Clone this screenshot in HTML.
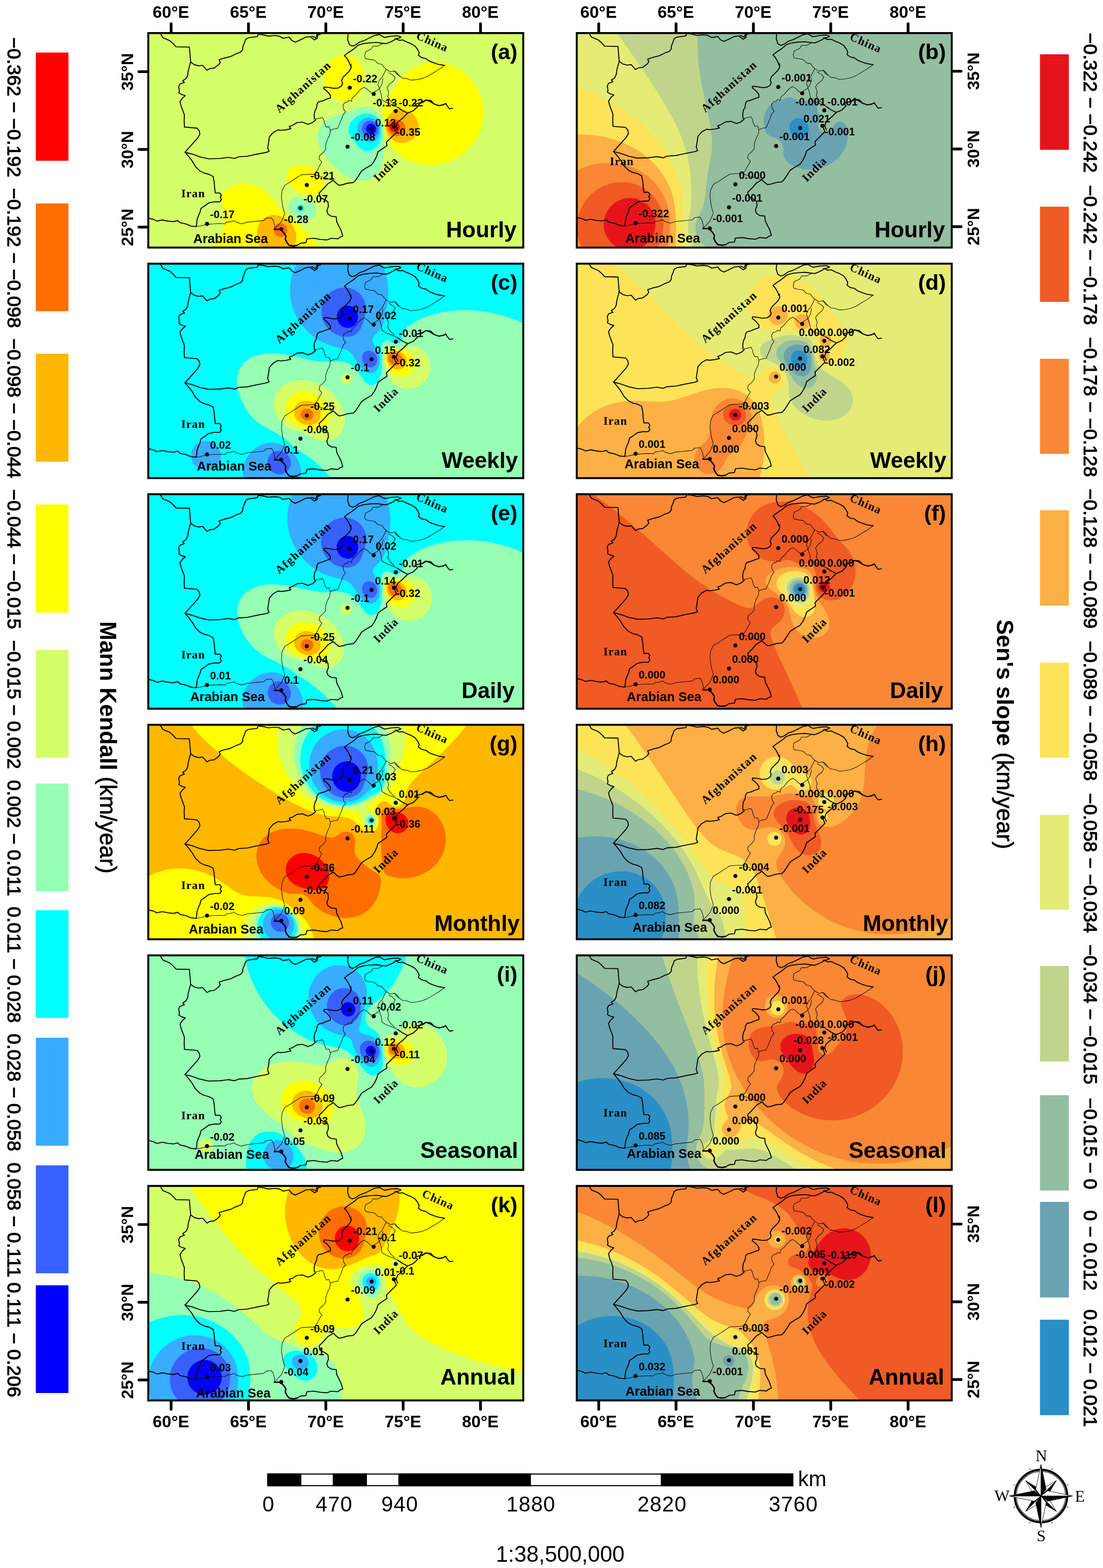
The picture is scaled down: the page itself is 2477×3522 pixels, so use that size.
<!DOCTYPE html>
<html lang="en"><head><meta charset="utf-8"><title>Trend maps</title>
<style>html,body{margin:0;padding:0;background:#fff}svg{display:block}</style></head><body>
<svg width="2477" height="3522" viewBox="0 0 2477 3522">
<rect width="2477" height="3522" fill="#fff"/>
<g stroke="#000" stroke-width="6.2" stroke-linecap="round">
<line x1="384.3" y1="74.3" x2="384.3" y2="53.3"/>
<line x1="384.3" y1="3145.6" x2="384.3" y2="3165.6"/>
<line x1="558.0" y1="74.3" x2="558.0" y2="53.3"/>
<line x1="558.0" y1="3145.6" x2="558.0" y2="3165.6"/>
<line x1="731.7" y1="74.3" x2="731.7" y2="53.3"/>
<line x1="731.7" y1="3145.6" x2="731.7" y2="3165.6"/>
<line x1="905.4" y1="74.3" x2="905.4" y2="53.3"/>
<line x1="905.4" y1="3145.6" x2="905.4" y2="3165.6"/>
<line x1="1079.1" y1="74.3" x2="1079.1" y2="53.3"/>
<line x1="1079.1" y1="3145.6" x2="1079.1" y2="3165.6"/>
<line x1="1344.5" y1="74.3" x2="1344.5" y2="53.3"/>
<line x1="1344.5" y1="3145.6" x2="1344.5" y2="3165.6"/>
<line x1="1518.2" y1="74.3" x2="1518.2" y2="53.3"/>
<line x1="1518.2" y1="3145.6" x2="1518.2" y2="3165.6"/>
<line x1="1691.9" y1="74.3" x2="1691.9" y2="53.3"/>
<line x1="1691.9" y1="3145.6" x2="1691.9" y2="3165.6"/>
<line x1="1865.6" y1="74.3" x2="1865.6" y2="53.3"/>
<line x1="1865.6" y1="3145.6" x2="1865.6" y2="3165.6"/>
<line x1="2039.3" y1="74.3" x2="2039.3" y2="53.3"/>
<line x1="2039.3" y1="3145.6" x2="2039.3" y2="3165.6"/>
<line x1="333.0" y1="161.0" x2="312.0" y2="161.0"/>
<line x1="2137.3" y1="160.0" x2="2158.3" y2="160.0"/>
<line x1="333.0" y1="335.6" x2="312.0" y2="335.6"/>
<line x1="2137.3" y1="334.6" x2="2158.3" y2="334.6"/>
<line x1="333.0" y1="510.2" x2="312.0" y2="510.2"/>
<line x1="2137.3" y1="509.2" x2="2158.3" y2="509.2"/>
<line x1="333.0" y1="2750.5" x2="312.0" y2="2750.5"/>
<line x1="2137.3" y1="2749.5" x2="2158.3" y2="2749.5"/>
<line x1="333.0" y1="2925.1" x2="312.0" y2="2925.1"/>
<line x1="2137.3" y1="2924.1" x2="2158.3" y2="2924.1"/>
<line x1="333.0" y1="3099.7" x2="312.0" y2="3099.7"/>
<line x1="2137.3" y1="3098.7" x2="2158.3" y2="3098.7"/>
</g>
<g font-family='"Liberation Sans",Arial,Helvetica,sans-serif' font-size="37.7" font-weight="bold" text-anchor="middle" fill="#000">
<text x="383.8" y="39.7">60°E</text>
<text x="383.8" y="3206.3">60°E</text>
<text x="557.5" y="39.7">65°E</text>
<text x="557.5" y="3206.3">65°E</text>
<text x="731.2" y="39.7">70°E</text>
<text x="731.2" y="3206.3">70°E</text>
<text x="904.9" y="39.7">75°E</text>
<text x="904.9" y="3206.3">75°E</text>
<text x="1078.6" y="39.7">80°E</text>
<text x="1078.6" y="3206.3">80°E</text>
<text x="1344.0" y="39.7">60°E</text>
<text x="1344.0" y="3206.3">60°E</text>
<text x="1517.7" y="39.7">65°E</text>
<text x="1517.7" y="3206.3">65°E</text>
<text x="1691.4" y="39.7">70°E</text>
<text x="1691.4" y="3206.3">70°E</text>
<text x="1865.1" y="39.7">75°E</text>
<text x="1865.1" y="3206.3">75°E</text>
<text x="2038.8" y="39.7">80°E</text>
<text x="2038.8" y="3206.3">80°E</text>
<text transform="translate(298.5,161.5) rotate(-90)">35°N</text>
<text transform="translate(2199,160.0) rotate(-90)">35°N</text>
<text transform="translate(298.5,336.1) rotate(-90)">30°N</text>
<text transform="translate(2199,334.6) rotate(-90)">30°N</text>
<text transform="translate(298.5,510.7) rotate(-90)">25°N</text>
<text transform="translate(2199,509.2) rotate(-90)">25°N</text>
<text transform="translate(298.5,2751.0) rotate(-90)">35°N</text>
<text transform="translate(2199,2749.5) rotate(-90)">35°N</text>
<text transform="translate(298.5,2925.6) rotate(-90)">30°N</text>
<text transform="translate(2199,2924.1) rotate(-90)">30°N</text>
<text transform="translate(298.5,3100.2) rotate(-90)">25°N</text>
<text transform="translate(2199,3098.7) rotate(-90)">25°N</text>
</g>
<g transform="translate(333.0,74.3)">
<clipPath id="c0"><rect x="0" y="0" width="842.1" height="481.8"/></clipPath>
<g clip-path="url(#c0)">
<rect x="0" y="0" width="842.1" height="481.8" fill="#0000ff"/>
<path fill="#3860ff" d="M-4.0,-4.0 846.0,-4.0 846.0,486.0 -4.0,486.0ZM498.0,203.8 493.3,206.0 490.0,210.0 488.9,214.0 489.2,218.0 491.1,222.0 494.0,224.9 498.0,226.7 502.0,226.8 506.0,225.4 509.5,222.0 511.3,218.0 511.5,214.0 510.0,209.3 507.1,206.0 504.0,204.3 502.0,203.8Z"/>
<path fill="#38acff" d="M-4.0,-4.0 846.0,-4.0 846.0,486.0 -4.0,486.0ZM492.0,197.7 488.0,199.7 485.1,202.0 483.3,204.0 481.1,208.0 479.7,214.0 479.9,218.0 480.9,222.0 484.3,228.0 486.1,230.0 490.0,233.0 496.0,235.4 500.0,235.6 504.0,234.9 508.0,233.0 510.0,231.4 512.0,229.3 514.2,226.0 515.7,222.0 516.4,218.0 516.4,214.0 515.6,210.0 514.0,206.2 512.0,203.2 510.0,201.1 506.0,198.4 500.0,196.7 496.0,196.8Z"/>
<path fill="#00ffff" d="M-4.0,-4.0 846.0,-4.0 846.0,486.0 -4.0,486.0ZM486.0,191.8 481.6,194.0 478.0,196.7 474.9,200.0 472.3,204.0 470.7,208.0 469.9,212.0 469.8,216.0 471.0,222.0 473.6,228.0 477.6,234.0 482.0,238.7 486.0,241.7 490.0,243.8 494.0,245.0 500.0,245.2 504.0,244.2 508.0,242.3 512.0,239.1 515.9,234.0 518.0,229.5 519.5,224.0 520.1,218.0 519.6,212.0 518.0,206.0 516.0,201.7 513.3,198.0 510.0,194.9 506.0,192.4 502.0,190.9 496.0,190.0 490.0,190.6Z"/>
<path fill="#96ffb4" d="M-4.0,-4.0 846.0,-4.0 846.0,486.0 -4.0,486.0ZM340.0,385.6 338.0,386.3 335.8,388.0 334.0,391.8 334.0,394.2 335.7,398.0 337.9,400.0 340.0,400.8 344.0,400.9 346.2,400.0 348.4,398.0 349.4,396.0 349.7,392.0 348.0,388.4 346.0,386.7 344.0,385.8ZM482.0,181.6 476.0,183.5 470.0,186.5 464.0,190.5 458.2,196.0 453.7,202.0 450.9,208.0 449.4,214.0 449.4,220.0 451.0,226.0 453.0,230.0 474.3,258.0 478.0,261.2 484.0,264.3 490.0,265.5 496.0,265.2 500.0,264.2 504.0,262.5 510.0,258.4 515.6,252.0 519.1,246.0 521.9,238.0 523.4,230.0 523.8,220.0 522.9,210.0 520.8,202.0 518.0,195.8 514.0,190.3 508.0,185.2 502.0,182.3 496.0,180.8 490.0,180.5Z"/>
<path fill="#d4ff69" d="M-4.0,-4.0 846.0,-4.0 846.0,486.0 -4.0,486.0ZM332.0,369.9 326.0,371.2 320.9,374.0 317.3,378.0 315.6,382.0 314.9,388.0 316.0,394.0 318.5,400.0 322.7,406.0 328.0,411.3 334.0,415.6 340.0,418.6 346.0,420.4 354.0,421.2 360.0,420.4 366.0,418.2 370.0,415.6 374.8,410.0 376.6,406.0 377.4,402.0 377.4,398.0 376.6,394.0 374.9,390.0 372.3,386.0 366.0,380.0 360.0,376.2 355.3,374.0 344.0,370.6 338.0,369.8ZM480.0,165.9 468.0,169.1 420.6,186.0 410.0,190.5 400.0,196.0 394.7,200.0 390.5,204.0 384.7,212.0 382.8,216.0 380.9,222.0 379.8,232.0 380.2,238.0 381.8,246.0 384.5,254.0 388.2,262.0 392.8,270.0 399.8,280.0 406.3,288.0 414.0,296.3 422.0,304.0 432.0,312.3 440.0,318.0 448.0,322.8 456.0,326.6 464.0,329.3 472.0,331.0 478.0,331.4 484.0,331.2 490.0,330.3 496.0,328.5 500.0,326.7 508.0,321.6 512.0,317.9 516.0,313.3 519.5,308.0 522.0,303.2 526.0,292.0 528.7,278.0 529.8,262.0 529.1,240.0 526.1,210.0 524.0,198.0 520.0,187.1 516.0,180.3 512.0,175.3 508.0,171.6 504.0,169.0 498.0,166.5 492.0,165.3 486.0,165.1Z"/>
<path fill="#ffff00" d="M432.2,50.0 442.0,49.0 450.0,49.7 458.0,52.1 466.0,56.4 472.0,61.5 477.1,68.0 481.0,76.0 483.2,84.0 484.2,96.0 483.2,108.0 480.2,122.0 476.2,134.0 472.0,141.2 467.4,146.0 464.0,148.5 460.0,150.6 452.0,153.0 442.0,153.8 432.0,152.3 424.0,149.5 414.7,144.0 407.9,138.0 401.5,130.0 396.4,120.0 393.6,110.0 392.7,100.0 393.7,90.0 396.8,80.0 400.9,72.0 407.2,64.0 414.0,58.1 422.0,53.4 428.0,51.1ZM633.6,66.0 644.0,65.5 656.0,66.3 668.0,68.5 678.0,71.4 690.0,76.4 700.0,82.0 710.0,89.1 718.0,96.0 726.0,104.6 733.2,114.0 739.3,124.0 744.0,134.0 747.7,144.0 750.8,156.0 752.5,168.0 753.0,178.0 752.5,190.0 750.7,202.0 747.5,214.0 743.8,224.0 739.0,234.0 732.9,244.0 725.4,254.0 718.0,262.0 709.0,270.0 700.8,276.0 690.8,282.0 680.0,287.1 670.0,290.8 658.0,293.9 646.0,295.7 634.0,296.4 622.0,295.8 610.0,294.0 598.0,290.9 588.0,287.3 576.0,281.4 566.0,274.9 558.0,268.4 550.0,260.2 544.0,252.4 539.0,244.0 535.4,236.0 532.0,225.4 529.4,210.0 528.3,190.0 526.9,174.0 527.2,168.0 528.1,164.0 530.5,158.0 533.8,152.0 560.0,112.2 568.0,101.8 574.0,95.1 580.0,89.3 588.0,82.9 594.0,79.0 602.0,74.7 610.0,71.3 618.0,68.8 626.0,67.0ZM339.8,296.0 346.0,295.8 354.0,296.8 360.0,298.4 366.0,300.8 372.0,304.1 378.0,308.5 382.0,312.2 386.8,318.0 390.5,324.0 392.9,330.0 394.2,336.0 394.4,340.0 393.5,346.0 392.0,350.0 389.4,354.0 385.0,358.0 378.0,361.4 370.0,363.2 360.0,363.2 350.0,361.4 340.6,358.0 330.0,352.0 322.3,346.0 315.1,338.0 312.6,334.0 310.8,330.0 309.6,324.0 310.2,318.0 312.5,312.0 317.2,306.0 324.0,300.9 332.0,297.5ZM204.6,340.0 212.0,339.3 220.0,339.3 234.0,341.0 242.0,343.2 248.0,345.5 254.0,348.6 260.0,352.6 270.0,361.8 292.2,388.0 307.5,404.0 324.0,419.4 356.6,448.0 369.3,460.0 381.6,474.0 389.7,486.0 130.7,486.0 138.0,481.2 144.0,476.6 154.0,466.7 158.0,461.5 162.0,455.2 165.4,448.0 167.6,442.0 170.0,430.0 170.4,418.0 169.1,406.0 165.0,384.0 164.4,376.0 165.2,368.0 167.3,362.0 169.7,358.0 173.0,354.0 180.7,348.0 186.0,345.2 192.0,342.9Z"/>
<path fill="#ffb700" d="M552.1,172.0 556.0,170.2 558.0,170.2 564.0,171.5 576.0,173.0 584.0,175.6 590.0,178.8 596.0,183.7 600.0,188.4 603.3,194.0 605.5,200.0 606.8,208.0 606.3,216.0 604.8,222.0 602.0,228.0 597.8,234.0 592.0,239.4 586.0,243.0 580.0,245.3 572.0,246.7 564.0,246.3 558.0,244.8 552.0,242.0 546.0,237.8 540.0,231.1 537.0,226.0 534.1,218.0 533.0,212.0 532.9,204.0 534.0,197.8 536.0,192.2 538.0,188.5 542.0,183.3 549.4,176.0ZM272.3,410.0 280.0,408.8 286.0,408.9 294.0,410.4 300.0,412.6 306.0,415.7 312.2,420.0 318.6,426.0 323.4,432.0 327.1,438.0 330.4,446.0 331.9,452.0 332.5,460.0 331.7,468.0 330.0,474.0 327.2,480.0 323.2,486.0 256.6,486.0 253.5,482.0 250.9,478.0 248.0,472.0 245.9,466.0 244.6,460.0 244.0,454.0 244.0,448.0 245.6,438.0 247.7,432.0 249.6,428.0 252.1,424.0 255.4,420.0 262.9,414.0 268.0,411.4Z"/>
<path fill="#ff6e00" d="M547.6,194.0 552.0,193.4 556.0,193.6 564.0,195.3 570.0,198.3 572.1,200.0 575.3,204.0 577.5,210.0 577.7,214.0 577.0,218.0 573.9,224.0 572.0,226.1 568.0,229.1 564.0,230.8 560.0,231.6 556.0,231.6 552.0,230.7 546.0,227.7 542.1,224.0 540.0,221.1 538.0,216.7 537.0,212.0 536.9,208.0 537.6,204.0 539.4,200.0 542.0,196.8 544.0,195.4ZM291.5,428.0 294.0,427.4 298.0,427.2 301.6,428.0 304.0,429.1 308.0,432.2 310.0,434.9 311.4,438.0 312.1,444.0 310.4,450.0 307.2,454.0 302.0,457.1 296.0,457.9 290.0,456.3 286.0,453.3 284.0,450.9 282.5,448.0 281.5,442.0 282.8,436.0 286.0,431.4 288.0,429.8Z"/>
<path fill="#ff0000" d="M548.7,200.0 552.0,199.4 556.0,200.0 560.0,202.0 563.5,206.0 564.8,210.0 564.5,214.0 563.7,216.0 562.0,218.5 558.0,221.4 556.0,222.0 552.0,222.1 548.0,220.8 544.5,218.0 542.2,214.0 541.5,210.0 542.3,206.0 545.1,202.0Z"/>
<g transform="translate(0.0,0.0)">
<g fill="none" stroke="#000" stroke-linejoin="round" stroke-linecap="round">
<path stroke-width="2.15" d="M27.9,2.5 32.8,10.5 47.7,16.7 55.1,22.9 62.5,31.0 92.3,31.5 93.5,45.1 95.2,65.0"/>
<path stroke-width="2.15" d="M95.2,65.0 103.4,71.1 113.3,73.6 122.0,72.4 131.9,83.5 138.1,79.8 148.0,78.6 157.9,71.1 161.6,66.2 159.1,60.0 170.3,56.3 185.1,52.6 197.5,46.4 207.4,42.7 211.9,37.7 212.4,30.3 216.1,21.6 218.6,14.2 224.8,10.5 244.6,8.0 247.1,2.5"/>
<path stroke-width="2.15" d="M247.1,2.5 259.4,4.3 269.4,6.8 284.2,5.5 294.1,6.8 302.8,11.7 316.4,9.2 322.6,16.7 330.0,20.4 341.2,15.4 353.6,9.2 363.5,8.0 373.4,15.4 379.6,11.7 380.8,4.3 387.0,3.0"/>
<path stroke-width="2.15" d="M95.2,65.0 92.3,74.9 89.8,84.8 88.5,94.7 84.8,102.1 77.4,107.1 81.1,110.8 71.2,114.5 68.2,120.7 70.0,129.4 68.7,134.3 74.9,138.0 83.1,140.5 76.2,146.7 71.2,154.1 73.7,164.0 77.4,173.9 81.1,183.8 80.6,196.2 81.1,211.1 96.0,212.3 109.6,213.6 114.6,219.8 115.8,227.2 110.8,235.9 100.9,247.0 91.0,258.1 82.4,267.6"/>
<path stroke-width="2.15" d="M82.4,267.6 98.5,271.8 115.8,278.0 135.6,282.4 160.4,281.7 180.2,279.2 193.8,281.7 202.5,278.0 222.3,276.7 244.6,271.8 264.4,268.1 271.3,265.6 268.1,258.1 270.6,243.3 271.8,233.4 280.5,223.5 291.6,217.3 296.6,218.5 309.0,217.3 320.1,214.8 316.4,209.8 323.8,207.4 333.7,201.2 346.1,199.9 358.5,204.9 368.4,201.2 375.9,195.0"/>
<path stroke-width="2.15" d="M82.4,267.5 91.0,277.4 98.5,287.3 105.9,299.7 115.8,309.6 125.7,314.6 135.6,317.1 145.5,322.0 148.0,334.4 149.2,349.3 150.5,359.2 160.4,359.2 164.1,364.1 161.6,369.1 164.1,374.0 160.4,379.0 148.0,379.0 135.6,381.5 125.7,388.9 118.3,393.8 115.8,403.7 113.3,408.7 109.6,418.6 108.4,431.0 107.1,434.7"/>
<path stroke-width="2.15" d="M-13.0,414.9 1.9,416.1 11.8,418.6 19.2,422.3 31.6,419.8 44.0,422.3 56.3,423.6 66.3,421.1 71.2,426.0 83.6,428.5 96.0,433.5 107.1,434.7"/>
<path stroke-width="1.1" d="M107.1,434.7 115.8,433.5 131.9,429.8 148.0,428.5 160.4,428.0 172.8,428.5 175.2,424.8 185.1,423.6 192.6,421.1 197.5,424.8 209.9,428.5 222.3,424.8 234.7,423.6 247.1,422.3 259.4,421.1 264.4,416.1 276.8,414.9 280.5,421.1 284.2,433.5 283.0,440.9"/>
<path stroke-width="3.0" d="M283.0,440.9 296.6,440.9 304.0,448.3 309.0,455.8 307.7,463.2 311.5,470.6 316.4,476.8 326.3,478.1 333.7,476.8"/>
<path stroke-width="1.1" d="M284.2,439.7 299.1,423.6 306.5,406.2 301.6,388.9 299.1,369.1 300.3,354.2 306.5,341.8 318.9,334.4 333.7,324.5 343.7,318.3 363.5,317.1 372.1,317.1"/>
<path stroke-width="2.15" d="M551.5,209.5 557.0,223.1 544.6,235.5 534.7,245.4 535.9,252.9 524.8,260.3 516.1,266.5 512.4,277.6 507.4,287.5 501.2,296.2 490.1,302.4 479.0,309.8 472.8,319.7 465.3,330.9 460.4,335.8 448.0,337.1 435.6,340.8 428.2,342.0 422.0,337.1 415.8,330.9 403.4,338.3 393.5,349.5 383.6,359.4 386.1,369.3 396.0,374.2 403.4,379.2 404.6,389.1 400.9,399.0 403.4,406.4 410.8,411.4 422.0,412.6 423.2,423.8 428.2,433.7 433.1,443.6 436.8,456.0 430.7,458.4 425.7,462.2 410.8,460.9 400.9,464.6 386.1,463.4 371.2,460.9 356.3,462.2 353.9,470.8 341.5,472.1 334.1,477.0"/>
<path stroke-width="1.1" d="M398.5,249.9 398.5,260.8 393.5,267.7 384.8,275.2 383.6,282.6 389.8,290.0 383.6,299.9 378.6,309.8 372.4,317.3 393.5,324.7 415.8,330.9"/>
<path stroke-width="2.15" d="M373.2,193.2 372.5,184.3 373.9,175.4 377.7,168.0 379.1,159.1 382.1,154.6 391.0,152.4 399.9,148.7 408.9,145.7 408.9,139.7 404.4,133.8 399.9,129.3 394.0,124.9 394.7,121.2 404.4,121.9 416.3,124.1 426.7,123.4 434.1,118.9 436.4,113.0 434.1,107.1 437.1,99.6 444.5,92.2 452.0,84.8 455.7,77.3 454.9,69.9"/>
<path stroke-width="2.15" d="M454.3,73.9 450.6,64.6 445.0,55.3 440.4,50.7 448.7,44.2 459.9,36.8 471.0,27.5 482.2,23.8 497.0,21.9 511.9,21.0 524.9,22.8 534.2,23.8 543.5,20.1 552.8,15.4 554.6,12.6"/>
<path stroke-width="1.1" d="M373.2,193.2 382.1,191.8 391.0,189.5 394.0,194.7 396.2,203.6 399.9,211.1 405.9,210.3 408.9,218.5 407.4,228.9 402.9,237.8 398.5,249.9"/>
<path stroke-width="1.1" d="M408.9,218.5 416.3,215.5 425.2,214.1 429.7,203.6 434.1,193.2 437.1,184.3 443.0,176.9 438.6,171.0 437.1,162.0 441.6,156.1 447.5,154.6 450.5,150.9 456.4,153.1 457.9,145.7 465.3,139.7 471.3,132.3 478.7,124.9 484.7,121.9 492.1,126.4 498.0,132.3 502.5,135.3 512.9,129.3 518.8,124.9 524.8,114.5 527.0,102.6"/>
<path stroke-width="2.15" d="M448.7,1.5 447.8,14.5 451.5,25.6 458.0,29.3 465.5,26.6 474.7,20.1 485.9,16.3 497.0,10.8 508.2,5.2 519.3,3.3 524.9,7.0 530.5,9.8 545.3,7.0 560.2,6.1 567.6,8.9 562.1,11.7 554.6,12.6"/>
<path stroke-width="2.15" d="M367.0,7.0 376.3,10.8 378.1,5.2 380.0,1.5"/>
<path stroke-width="2.15" d="M554.6,12.6 563.9,16.3 571.3,15.4 580.6,20.1 589.9,23.8 599.2,29.3 604.8,36.8 608.5,44.2 606.6,49.8 614.1,55.3 623.4,57.2 630.8,62.8 640.1,66.5 651.2,70.2 662.4,72.1 665.5,72.4"/>
<path stroke-width="1.1" d="M665.5,72.4 651.8,82.3 639.4,89.7 627.1,97.2 614.7,102.1 602.3,104.6 589.9,105.8 580.0,102.1 570.1,100.9 562.7,94.7 557.7,88.5 552.8,84.8"/>
<path stroke-width="1.1" d="M526.8,23.8 515.6,29.3 504.5,29.3 500.8,35.8 487.8,42.3 485.9,51.6 487.8,57.2 497.0,59.1 508.2,60.9 515.6,68.4 524.9,70.2 528.6,75.8 534.2,81.4 543.5,86.9 552.8,85.1 558.3,92.5 563.9,96.2"/>
<path stroke-width="1.1" d="M534.2,81.4 528.6,92.5 524.9,99.9 519.3,105.5 515.6,114.8 519.3,125.9 523.0,137.1 524.9,150.1 534.2,155.7 543.5,159.4 552.8,163.1 560.2,166.8"/>
<path stroke-width="1.1" d="M539.8,88.8 549.1,94.4 554.6,99.9 550.9,107.4 541.6,114.8 536.1,122.2 539.8,133.4 537.9,142.7 543.5,151.9 552.8,161.2"/>
<path stroke-width="2.15" d="M560.2,166.8 571.3,174.2 582.5,179.8 595.5,174.2 604.8,165.0 599.2,159.4 614.1,155.7 623.4,150.1 632.7,153.8 641.9,159.4 653.1,163.1 667.0,159.4"/>
<path stroke-width="2.15" d="M614.7,156.6 624.6,150.4 634.5,151.6 641.9,159.1 651.8,162.8 661.7,161.6 667.9,157.8 671.6,164.0 676.6,170.2 684.0,169.0"/>
<path stroke-width="2.15" d="M582.5,179.8 571.3,191.0 560.2,200.2 556.5,209.5 560.2,218.8"/>
</g>
<circle cx="452.4" cy="122.7" r="4.6" fill="#000"/>
<circle cx="506.2" cy="136.8" r="4.6" fill="#000"/>
<circle cx="555.7" cy="175.2" r="4.6" fill="#000"/>
<circle cx="551.5" cy="209.8" r="4.6" fill="#000"/>
<circle cx="501.5" cy="214.8" r="4.6" fill="#000"/>
<circle cx="447.5" cy="255.2" r="4.6" fill="#000"/>
<circle cx="356.0" cy="341.3" r="4.6" fill="#000"/>
<circle cx="341.7" cy="393.1" r="4.6" fill="#000"/>
<circle cx="298.6" cy="440.4" r="4.6" fill="#000"/>
<circle cx="131.9" cy="428.5" r="4.6" fill="#000"/>
<g font-family='"Liberation Sans",Arial,Helvetica,sans-serif' font-size="24" font-weight="bold" fill="#000">
<text x="459.6" y="110.4">-0.22</text>
<text x="558.7" y="164.3" text-anchor="end">-0.13</text>
<text x="562.6" y="164.4">-0.22</text>
<text x="556.5" y="231.1">-0.35</text>
<text x="509.5" y="209.4">0.13</text>
<text x="454.9" y="242.2">-0.08</text>
<text x="363.9" y="329.2">-0.21</text>
<text x="348.6" y="380.4">-0.07</text>
<text x="304.9" y="426.4">-0.28</text>
<text x="138.8" y="415.8">-0.17</text>
</g>
<g font-family='"Liberation Serif","Times New Roman",Times,serif' font-size="26" font-weight="bold" fill="#000">
<text transform="translate(294.5,180.5) rotate(-42)" letter-spacing="2.1">Afghanistan</text>
<text transform="translate(600,12) rotate(24)" letter-spacing="1.5">China</text>
<text transform="translate(74,368.5)" letter-spacing="1.2">Iran</text>
<text transform="translate(516,335) rotate(-45)" letter-spacing="1.5">India</text>
</g>
<text x="101" y="472" font-family='"Liberation Sans",Arial,Helvetica,sans-serif' font-size="29" font-weight="bold">Arabian Sea</text>
</g>
</g>
<text transform="translate(829.1,59.0)" font-family='"Liberation Sans",Arial,Helvetica,sans-serif' font-size="49" font-weight="bold" text-anchor="end">(a)</text>
<text transform="translate(827.1,459.0)" font-family='"Liberation Sans",Arial,Helvetica,sans-serif' font-size="50" font-weight="bold" text-anchor="end">Hourly</text>
<rect x="0" y="0" width="842.1" height="481.8" fill="none" stroke="#000" stroke-width="4.4"/>
</g>
<g transform="translate(1295.2,74.3)">
<clipPath id="c1"><rect x="0" y="0" width="842.1" height="481.8"/></clipPath>
<g clip-path="url(#c1)">
<rect x="0" y="0" width="842.1" height="481.8" fill="#2a8fc6"/>
<path fill="#69a3b2" d="M-4.0,-4.0 846.0,-4.0 846.0,486.0 -4.0,486.0ZM494.0,191.6 490.0,192.9 486.0,195.2 482.8,198.0 480.0,201.8 478.2,206.0 477.5,210.0 477.5,214.0 478.3,218.0 479.8,222.0 482.0,226.0 486.0,230.9 490.0,234.2 494.0,236.4 498.0,237.6 502.0,238.1 506.0,237.6 510.0,236.2 513.2,234.0 516.0,231.2 518.0,228.0 519.6,224.0 520.7,218.0 520.5,212.0 519.8,208.0 518.3,204.0 516.0,199.9 514.0,197.5 510.0,194.3 506.0,192.4 502.0,191.3 498.0,191.1Z"/>
<path fill="#93bea0" d="M-4.0,-4.0 846.0,-4.0 846.0,486.0 -4.0,486.0ZM470.0,145.8 443.7,156.0 438.0,159.2 432.0,164.3 426.3,172.0 422.8,180.0 420.4,190.0 419.7,200.0 420.3,208.0 422.1,216.0 424.7,222.0 428.0,226.7 430.0,228.7 434.0,231.4 446.0,235.7 452.0,238.5 456.0,241.5 460.0,246.1 462.1,250.0 463.8,256.0 464.3,262.0 464.2,272.0 464.7,276.0 466.9,282.0 469.7,286.0 473.5,290.0 478.7,294.0 485.6,298.0 492.0,300.9 498.0,302.9 506.0,304.9 514.0,306.1 522.0,306.5 530.0,306.3 538.0,305.4 552.0,302.0 560.0,299.0 566.2,296.0 573.0,292.0 578.6,288.0 587.6,280.0 595.9,270.0 601.8,260.0 606.5,248.0 608.9,236.0 609.3,230.0 609.0,224.0 608.1,218.0 606.3,212.0 604.0,207.2 602.0,204.2 599.9,202.0 596.0,199.5 592.0,198.6 588.0,199.0 584.0,200.7 582.0,202.1 580.0,204.2 573.0,214.0 568.8,218.0 566.0,219.7 562.0,221.3 558.0,222.0 554.0,221.7 550.0,220.4 546.5,218.0 544.7,216.0 543.4,214.0 542.0,210.0 541.9,206.0 543.0,202.0 547.8,194.0 548.5,192.0 548.3,190.0 547.4,188.0 542.0,178.7 540.1,172.0 539.9,164.0 541.3,152.0 541.2,150.0 540.0,147.1 538.0,145.6 534.0,145.3 530.0,146.4 516.0,151.5 512.0,152.3 506.0,152.6 501.2,152.0 496.0,150.5 482.0,144.6 476.0,144.3Z"/>
<path fill="#c0d48c" d="M-4.0,-4.0 271.7,-4.0 271.1,16.0 271.5,38.0 272.9,60.0 275.2,82.0 278.1,102.0 282.1,124.0 296.4,190.0 300.3,210.0 303.2,232.0 303.9,250.0 303.5,260.0 302.4,270.0 293.7,318.0 289.3,360.0 286.6,378.0 284.7,386.0 282.0,394.0 272.0,414.6 269.1,422.0 266.8,432.0 266.6,442.0 267.9,450.0 270.0,456.2 274.0,463.7 278.9,470.0 284.0,474.8 292.0,480.2 300.0,483.8 307.4,486.0 -4.0,486.0ZM370.5,486.0 408.0,484.8 422.0,485.1 436.5,486.0Z"/>
<path fill="#e4ec76" d="M-4.0,-4.0 87.7,-4.0 128.0,52.7 162.0,102.8 190.0,146.9 211.5,184.0 226.0,212.7 232.0,226.2 237.4,240.0 241.6,252.0 245.7,266.0 249.0,280.0 251.7,294.0 254.3,312.0 256.2,330.0 257.4,348.0 257.7,364.0 256.4,386.0 250.8,424.0 250.2,434.0 250.3,442.0 251.5,454.0 254.0,465.3 257.7,476.0 262.3,486.0 -4.0,486.0Z"/>
<path fill="#fde358" d="M-4.0,118.0 26.0,129.6 56.0,143.7 84.0,159.3 98.0,168.2 112.0,177.8 126.0,188.3 138.0,198.1 150.0,208.8 160.0,218.4 170.0,229.0 180.0,240.5 188.0,250.7 196.0,262.0 208.1,282.0 213.2,292.0 218.7,304.0 226.7,326.0 230.1,338.0 232.8,350.0 235.2,364.0 236.8,380.0 237.2,396.0 236.3,432.0 236.5,448.0 238.0,467.1 240.9,486.0 -4.0,486.0Z"/>
<path fill="#fcb045" d="M9.6,228.0 22.0,228.2 34.0,229.0 48.0,230.7 60.0,232.8 72.0,235.6 84.0,239.0 106.0,247.1 118.0,252.7 128.0,258.1 138.0,264.2 148.0,271.0 158.0,278.9 166.0,285.9 174.0,293.9 182.0,302.9 194.0,319.1 200.0,328.9 204.8,338.0 209.3,348.0 213.1,358.0 216.1,368.0 218.6,378.0 221.4,396.0 222.7,416.0 222.8,444.0 221.8,486.0 -4.0,486.0 -4.0,228.5Z"/>
<path fill="#f98735" d="M60.6,292.0 78.0,291.8 96.0,293.7 114.0,298.0 130.0,303.9 146.0,312.1 160.0,321.8 172.0,332.6 178.0,339.1 184.0,346.6 192.6,360.0 200.0,375.6 205.2,392.0 208.1,408.0 209.5,426.0 209.0,446.0 206.8,466.0 202.7,486.0 -4.0,486.0 -4.0,311.0 12.0,303.4 28.0,297.8 44.0,294.0Z"/>
<path fill="#f05a24" d="M84.5,336.0 98.0,334.6 112.0,335.2 126.0,337.8 140.0,342.7 152.0,349.1 162.0,356.4 172.0,366.2 180.0,376.8 186.1,388.0 191.3,402.0 194.1,416.0 194.9,430.0 193.7,446.0 190.8,460.0 186.0,473.7 179.9,486.0 14.1,486.0 9.0,476.0 4.6,464.0 1.8,452.0 0.6,440.0 0.8,428.0 2.4,416.0 5.6,404.0 10.4,392.0 16.0,382.0 23.1,372.0 30.3,364.0 40.0,355.5 50.0,348.7 62.0,342.6 74.0,338.4Z"/>
<path fill="#e6141a" d="M106.2,372.0 112.0,370.9 118.0,370.5 128.0,371.0 134.0,372.2 140.0,374.1 150.0,379.1 158.0,385.1 162.0,389.1 166.0,394.0 171.8,404.0 175.2,414.0 176.8,424.0 176.4,436.0 174.0,446.9 172.0,452.3 169.2,458.0 166.0,463.1 162.2,468.0 154.0,475.8 144.0,482.2 134.1,486.0 102.7,486.0 96.0,483.6 90.0,480.7 80.6,474.0 73.0,466.0 66.7,456.0 64.1,450.0 62.3,444.0 61.1,438.0 60.6,432.0 60.7,426.0 61.4,420.0 62.7,414.0 64.7,408.0 69.8,398.0 74.0,392.1 77.7,388.0 86.0,381.0 96.0,375.4Z"/>
<g transform="translate(0.2,-1.6)">
<g fill="none" stroke="#000" stroke-linejoin="round" stroke-linecap="round">
<path stroke-width="2.15" d="M27.9,2.5 32.8,10.5 47.7,16.7 55.1,22.9 62.5,31.0 92.3,31.5 93.5,45.1 95.2,65.0"/>
<path stroke-width="2.15" d="M95.2,65.0 103.4,71.1 113.3,73.6 122.0,72.4 131.9,83.5 138.1,79.8 148.0,78.6 157.9,71.1 161.6,66.2 159.1,60.0 170.3,56.3 185.1,52.6 197.5,46.4 207.4,42.7 211.9,37.7 212.4,30.3 216.1,21.6 218.6,14.2 224.8,10.5 244.6,8.0 247.1,2.5"/>
<path stroke-width="2.15" d="M247.1,2.5 259.4,4.3 269.4,6.8 284.2,5.5 294.1,6.8 302.8,11.7 316.4,9.2 322.6,16.7 330.0,20.4 341.2,15.4 353.6,9.2 363.5,8.0 373.4,15.4 379.6,11.7 380.8,4.3 387.0,3.0"/>
<path stroke-width="2.15" d="M95.2,65.0 92.3,74.9 89.8,84.8 88.5,94.7 84.8,102.1 77.4,107.1 81.1,110.8 71.2,114.5 68.2,120.7 70.0,129.4 68.7,134.3 74.9,138.0 83.1,140.5 76.2,146.7 71.2,154.1 73.7,164.0 77.4,173.9 81.1,183.8 80.6,196.2 81.1,211.1 96.0,212.3 109.6,213.6 114.6,219.8 115.8,227.2 110.8,235.9 100.9,247.0 91.0,258.1 82.4,267.6"/>
<path stroke-width="2.15" d="M82.4,267.6 98.5,271.8 115.8,278.0 135.6,282.4 160.4,281.7 180.2,279.2 193.8,281.7 202.5,278.0 222.3,276.7 244.6,271.8 264.4,268.1 271.3,265.6 268.1,258.1 270.6,243.3 271.8,233.4 280.5,223.5 291.6,217.3 296.6,218.5 309.0,217.3 320.1,214.8 316.4,209.8 323.8,207.4 333.7,201.2 346.1,199.9 358.5,204.9 368.4,201.2 375.9,195.0"/>
<path stroke-width="2.15" d="M82.4,267.5 91.0,277.4 98.5,287.3 105.9,299.7 115.8,309.6 125.7,314.6 135.6,317.1 145.5,322.0 148.0,334.4 149.2,349.3 150.5,359.2 160.4,359.2 164.1,364.1 161.6,369.1 164.1,374.0 160.4,379.0 148.0,379.0 135.6,381.5 125.7,388.9 118.3,393.8 115.8,403.7 113.3,408.7 109.6,418.6 108.4,431.0 107.1,434.7"/>
<path stroke-width="2.15" d="M-13.0,414.9 1.9,416.1 11.8,418.6 19.2,422.3 31.6,419.8 44.0,422.3 56.3,423.6 66.3,421.1 71.2,426.0 83.6,428.5 96.0,433.5 107.1,434.7"/>
<path stroke-width="1.1" d="M107.1,434.7 115.8,433.5 131.9,429.8 148.0,428.5 160.4,428.0 172.8,428.5 175.2,424.8 185.1,423.6 192.6,421.1 197.5,424.8 209.9,428.5 222.3,424.8 234.7,423.6 247.1,422.3 259.4,421.1 264.4,416.1 276.8,414.9 280.5,421.1 284.2,433.5 283.0,440.9"/>
<path stroke-width="3.0" d="M283.0,440.9 296.6,440.9 304.0,448.3 309.0,455.8 307.7,463.2 311.5,470.6 316.4,476.8 326.3,478.1 333.7,476.8"/>
<path stroke-width="1.1" d="M284.2,439.7 299.1,423.6 306.5,406.2 301.6,388.9 299.1,369.1 300.3,354.2 306.5,341.8 318.9,334.4 333.7,324.5 343.7,318.3 363.5,317.1 372.1,317.1"/>
<path stroke-width="2.15" d="M551.5,209.5 557.0,223.1 544.6,235.5 534.7,245.4 535.9,252.9 524.8,260.3 516.1,266.5 512.4,277.6 507.4,287.5 501.2,296.2 490.1,302.4 479.0,309.8 472.8,319.7 465.3,330.9 460.4,335.8 448.0,337.1 435.6,340.8 428.2,342.0 422.0,337.1 415.8,330.9 403.4,338.3 393.5,349.5 383.6,359.4 386.1,369.3 396.0,374.2 403.4,379.2 404.6,389.1 400.9,399.0 403.4,406.4 410.8,411.4 422.0,412.6 423.2,423.8 428.2,433.7 433.1,443.6 436.8,456.0 430.7,458.4 425.7,462.2 410.8,460.9 400.9,464.6 386.1,463.4 371.2,460.9 356.3,462.2 353.9,470.8 341.5,472.1 334.1,477.0"/>
<path stroke-width="1.1" d="M398.5,249.9 398.5,260.8 393.5,267.7 384.8,275.2 383.6,282.6 389.8,290.0 383.6,299.9 378.6,309.8 372.4,317.3 393.5,324.7 415.8,330.9"/>
<path stroke-width="2.15" d="M373.2,193.2 372.5,184.3 373.9,175.4 377.7,168.0 379.1,159.1 382.1,154.6 391.0,152.4 399.9,148.7 408.9,145.7 408.9,139.7 404.4,133.8 399.9,129.3 394.0,124.9 394.7,121.2 404.4,121.9 416.3,124.1 426.7,123.4 434.1,118.9 436.4,113.0 434.1,107.1 437.1,99.6 444.5,92.2 452.0,84.8 455.7,77.3 454.9,69.9"/>
<path stroke-width="2.15" d="M454.3,73.9 450.6,64.6 445.0,55.3 440.4,50.7 448.7,44.2 459.9,36.8 471.0,27.5 482.2,23.8 497.0,21.9 511.9,21.0 524.9,22.8 534.2,23.8 543.5,20.1 552.8,15.4 554.6,12.6"/>
<path stroke-width="1.1" d="M373.2,193.2 382.1,191.8 391.0,189.5 394.0,194.7 396.2,203.6 399.9,211.1 405.9,210.3 408.9,218.5 407.4,228.9 402.9,237.8 398.5,249.9"/>
<path stroke-width="1.1" d="M408.9,218.5 416.3,215.5 425.2,214.1 429.7,203.6 434.1,193.2 437.1,184.3 443.0,176.9 438.6,171.0 437.1,162.0 441.6,156.1 447.5,154.6 450.5,150.9 456.4,153.1 457.9,145.7 465.3,139.7 471.3,132.3 478.7,124.9 484.7,121.9 492.1,126.4 498.0,132.3 502.5,135.3 512.9,129.3 518.8,124.9 524.8,114.5 527.0,102.6"/>
<path stroke-width="2.15" d="M448.7,1.5 447.8,14.5 451.5,25.6 458.0,29.3 465.5,26.6 474.7,20.1 485.9,16.3 497.0,10.8 508.2,5.2 519.3,3.3 524.9,7.0 530.5,9.8 545.3,7.0 560.2,6.1 567.6,8.9 562.1,11.7 554.6,12.6"/>
<path stroke-width="2.15" d="M367.0,7.0 376.3,10.8 378.1,5.2 380.0,1.5"/>
<path stroke-width="2.15" d="M554.6,12.6 563.9,16.3 571.3,15.4 580.6,20.1 589.9,23.8 599.2,29.3 604.8,36.8 608.5,44.2 606.6,49.8 614.1,55.3 623.4,57.2 630.8,62.8 640.1,66.5 651.2,70.2 662.4,72.1 665.5,72.4"/>
<path stroke-width="1.1" d="M665.5,72.4 651.8,82.3 639.4,89.7 627.1,97.2 614.7,102.1 602.3,104.6 589.9,105.8 580.0,102.1 570.1,100.9 562.7,94.7 557.7,88.5 552.8,84.8"/>
<path stroke-width="1.1" d="M526.8,23.8 515.6,29.3 504.5,29.3 500.8,35.8 487.8,42.3 485.9,51.6 487.8,57.2 497.0,59.1 508.2,60.9 515.6,68.4 524.9,70.2 528.6,75.8 534.2,81.4 543.5,86.9 552.8,85.1 558.3,92.5 563.9,96.2"/>
<path stroke-width="1.1" d="M534.2,81.4 528.6,92.5 524.9,99.9 519.3,105.5 515.6,114.8 519.3,125.9 523.0,137.1 524.9,150.1 534.2,155.7 543.5,159.4 552.8,163.1 560.2,166.8"/>
<path stroke-width="1.1" d="M539.8,88.8 549.1,94.4 554.6,99.9 550.9,107.4 541.6,114.8 536.1,122.2 539.8,133.4 537.9,142.7 543.5,151.9 552.8,161.2"/>
<path stroke-width="2.15" d="M560.2,166.8 571.3,174.2 582.5,179.8 595.5,174.2 604.8,165.0 599.2,159.4 614.1,155.7 623.4,150.1 632.7,153.8 641.9,159.4 653.1,163.1 667.0,159.4"/>
<path stroke-width="2.15" d="M614.7,156.6 624.6,150.4 634.5,151.6 641.9,159.1 651.8,162.8 661.7,161.6 667.9,157.8 671.6,164.0 676.6,170.2 684.0,169.0"/>
<path stroke-width="2.15" d="M582.5,179.8 571.3,191.0 560.2,200.2 556.5,209.5 560.2,218.8"/>
</g>
<circle cx="452.4" cy="122.7" r="4.6" fill="#000"/>
<circle cx="506.2" cy="136.8" r="4.6" fill="#000"/>
<circle cx="555.7" cy="175.2" r="4.6" fill="#000"/>
<circle cx="551.5" cy="209.8" r="4.6" fill="#000"/>
<circle cx="501.5" cy="214.8" r="4.6" fill="#000"/>
<circle cx="447.5" cy="255.2" r="4.6" fill="#000"/>
<circle cx="356.0" cy="341.3" r="4.6" fill="#000"/>
<circle cx="341.7" cy="393.1" r="4.6" fill="#000"/>
<circle cx="298.6" cy="440.4" r="4.6" fill="#000"/>
<circle cx="131.9" cy="428.5" r="4.6" fill="#000"/>
<g font-family='"Liberation Sans",Arial,Helvetica,sans-serif' font-size="24" font-weight="bold" fill="#000">
<text x="459.6" y="110.4">-0.001</text>
<text x="558.7" y="164.3" text-anchor="end">-0.001</text>
<text x="562.6" y="164.4">-0.001</text>
<text x="556.5" y="231.1">-0.001</text>
<text x="508.9" y="202.7">0.021</text>
<text x="454.9" y="242.2">-0.001</text>
<text x="363.9" y="329.2">0.000</text>
<text x="348.6" y="380.4">-0.001</text>
<text x="304.9" y="426.4">-0.001</text>
<text x="138.8" y="415.8">-0.322</text>
</g>
<g font-family='"Liberation Serif","Times New Roman",Times,serif' font-size="26" font-weight="bold" fill="#000">
<text transform="translate(288.5,181) rotate(-42)" letter-spacing="2.1">Afghanistan</text>
<text transform="translate(611,16) rotate(24)" letter-spacing="1.5">China</text>
<text transform="translate(74,298.5)" letter-spacing="1.2">Iran</text>
<text transform="translate(516,337) rotate(-45)" letter-spacing="1.5">India</text>
</g>
<text x="109" y="472" font-family='"Liberation Sans",Arial,Helvetica,sans-serif' font-size="29" font-weight="bold">Arabian Sea</text>
</g>
</g>
<text transform="translate(829.1,59.0)" font-family='"Liberation Sans",Arial,Helvetica,sans-serif' font-size="49" font-weight="bold" text-anchor="end">(b)</text>
<text transform="translate(827.1,459.0)" font-family='"Liberation Sans",Arial,Helvetica,sans-serif' font-size="50" font-weight="bold" text-anchor="end">Hourly</text>
<rect x="0" y="0" width="842.1" height="481.8" fill="none" stroke="#000" stroke-width="4.4"/>
</g>
<g transform="translate(333.0,1628.0)">
<clipPath id="c2"><rect x="0" y="0" width="842.1" height="481.8"/></clipPath>
<g clip-path="url(#c2)">
<rect x="0" y="0" width="842.1" height="481.8" fill="#0000ff"/>
<path fill="#3860ff" d="M-4.0,-4.0 846.0,-4.0 846.0,486.0 -4.0,486.0ZM436.0,83.6 430.0,86.2 424.7,90.0 420.0,94.9 416.8,100.0 414.3,106.0 413.1,112.0 413.1,120.0 414.4,126.0 416.8,132.0 420.6,138.0 424.4,142.0 429.8,146.0 436.0,148.9 442.0,150.4 448.0,150.7 454.0,149.9 460.0,147.6 465.3,144.0 469.1,140.0 472.8,134.0 475.2,128.0 476.8,120.0 477.0,112.0 476.0,105.7 474.0,100.0 470.0,93.5 466.0,89.4 460.0,85.4 454.0,83.1 448.0,82.1 442.0,82.3Z"/>
<path fill="#38acff" d="M-4.0,-4.0 846.0,-4.0 846.0,486.0 -4.0,486.0ZM292.0,423.9 288.0,425.0 284.0,427.1 279.0,432.0 276.8,436.0 275.6,440.0 275.3,444.0 275.7,448.0 276.9,452.0 279.1,456.0 284.0,461.0 288.0,463.3 292.0,464.5 296.0,464.9 300.0,464.6 304.0,463.4 308.0,461.1 312.9,456.0 315.0,452.0 316.1,448.0 316.3,444.0 315.8,440.0 313.3,434.0 310.3,430.0 308.0,428.0 304.0,425.6 300.0,424.2 296.0,423.6ZM432.0,47.8 422.0,50.6 412.0,55.7 406.1,60.0 402.0,63.8 395.4,72.0 390.0,82.0 386.9,92.0 385.9,98.0 385.5,104.0 386.6,116.0 388.0,122.0 390.1,128.0 395.4,138.0 401.7,146.0 410.0,153.4 420.0,159.4 430.0,162.9 436.0,164.1 442.0,164.6 452.0,163.8 460.0,161.6 468.0,157.6 474.7,152.0 479.2,146.0 483.0,138.0 491.6,112.0 492.9,106.0 493.6,100.0 493.1,90.0 490.4,80.0 486.0,71.4 480.0,63.6 472.0,56.6 464.0,52.0 454.0,48.5 444.0,47.1 438.0,47.1Z"/>
<path fill="#00ffff" d="M-4.0,-4.0 846.0,-4.0 846.0,486.0 -4.0,486.0ZM282.0,415.6 275.8,418.0 269.7,422.0 265.6,426.0 261.5,432.0 259.0,438.0 257.5,446.0 257.8,454.0 259.2,460.0 261.8,466.0 265.8,472.0 270.0,476.4 276.0,480.6 282.0,483.3 290.0,485.0 298.0,484.7 304.0,483.3 310.0,480.6 316.0,476.3 320.0,472.0 323.7,466.0 326.0,460.0 327.0,454.0 326.7,446.0 325.1,440.0 322.4,434.0 318.2,428.0 314.0,423.7 308.0,419.3 302.0,416.5 296.0,414.9 288.0,414.6ZM424.0,11.8 418.0,13.2 410.0,16.0 402.0,19.9 396.0,23.6 390.0,28.2 384.0,33.7 378.5,40.0 374.3,46.0 370.7,52.0 367.1,60.0 364.9,66.0 362.9,74.0 361.7,82.0 361.2,90.0 361.6,98.0 362.6,106.0 364.5,114.0 367.2,122.0 370.9,130.0 374.3,136.0 378.5,142.0 383.4,148.0 389.5,154.0 396.0,159.2 403.4,164.0 410.0,167.3 416.8,170.0 424.0,172.1 432.0,173.6 440.0,174.2 446.0,174.2 454.0,173.2 460.0,171.8 466.0,169.7 476.0,164.4 484.6,158.0 498.0,145.7 506.0,141.4 508.1,140.0 509.7,138.0 510.8,134.0 511.1,122.0 513.9,106.0 515.0,96.0 515.0,84.0 513.7,74.0 512.0,66.6 509.9,60.0 506.3,52.0 503.0,46.0 498.8,40.0 493.7,34.0 488.0,28.5 482.0,23.8 476.0,20.0 468.0,16.1 460.0,13.2 454.0,11.8 448.0,10.8 440.0,10.3 432.0,10.6Z"/>
<path fill="#96ffb4" d="M-4.0,-4.0 380.1,-4.0 374.0,1.0 368.0,7.0 362.0,14.0 358.0,19.7 354.0,26.3 350.1,34.0 345.1,48.0 342.2,62.0 341.4,70.0 341.3,78.0 341.7,86.0 342.8,94.0 344.5,102.0 346.8,110.0 349.9,118.0 353.7,126.0 358.3,134.0 362.5,140.0 372.8,152.0 384.5,162.0 390.5,166.0 397.5,170.0 404.0,173.0 412.0,176.0 426.0,179.3 434.0,180.3 442.0,180.7 456.0,179.7 468.0,176.6 478.0,172.1 496.0,161.6 512.0,154.2 518.0,150.0 521.9,146.0 525.7,140.0 528.0,134.0 529.5,128.0 530.6,120.0 533.2,86.0 532.6,68.0 530.0,52.0 527.8,44.0 524.9,36.0 521.2,28.0 516.6,20.0 512.0,13.5 506.0,6.4 500.0,0.5 494.7,-4.0 846.0,-4.0 846.0,486.0 322.1,486.0 326.0,481.3 329.2,476.0 331.7,470.0 333.2,464.0 333.8,458.0 333.2,450.0 331.8,444.0 329.4,438.0 326.0,432.0 321.3,426.0 316.0,420.8 310.0,416.4 304.0,413.1 298.0,410.9 292.0,409.7 286.0,409.4 280.0,410.0 274.0,411.5 267.9,414.0 262.0,417.8 257.2,422.0 253.8,426.0 250.1,432.0 247.6,438.0 246.0,444.0 245.3,450.0 245.5,458.0 246.5,464.0 248.4,470.0 251.2,476.0 255.1,482.0 258.5,486.0 -4.0,486.0ZM496.0,207.6 494.0,209.2 492.5,212.0 492.3,216.0 493.1,218.0 494.5,220.0 497.7,222.0 500.0,222.3 502.0,222.1 505.2,220.0 506.5,218.0 507.1,216.0 506.7,212.0 505.6,210.0 504.0,208.4 502.0,207.3 498.0,207.0Z"/>
<path fill="#d4ff69" d="M-4.0,-4.0 349.4,-4.0 340.7,10.0 334.4,24.0 329.8,40.0 327.6,56.0 327.5,72.0 329.6,88.0 333.9,104.0 337.0,112.0 340.7,120.0 348.9,134.0 354.9,142.0 360.0,148.0 372.0,159.4 384.0,168.0 398.0,175.3 412.0,180.2 428.0,183.4 444.0,184.5 452.0,184.3 460.0,183.4 472.0,180.3 480.0,176.7 496.0,167.1 512.0,158.9 519.6,154.0 525.9,148.0 530.2,142.0 534.2,134.0 536.9,126.0 538.9,118.0 543.0,94.0 544.8,74.0 544.5,56.0 542.2,40.0 537.7,24.0 531.7,10.0 528.0,3.4 523.1,-4.0 846.0,-4.0 846.0,486.0 330.5,486.0 333.7,480.0 335.9,474.0 337.3,468.0 337.8,462.0 337.4,454.0 336.2,448.0 334.1,442.0 331.2,436.0 327.2,430.0 322.0,424.0 316.0,418.5 310.0,414.1 304.0,410.9 298.0,408.6 292.0,407.1 284.0,406.5 278.0,407.0 272.0,408.2 266.0,410.3 259.1,414.0 253.8,418.0 249.8,422.0 245.2,428.0 241.9,434.0 239.7,440.0 238.2,446.0 237.4,452.0 237.4,460.0 238.6,468.0 240.3,474.0 242.7,480.0 246.1,486.0 -4.0,486.0ZM492.0,203.8 489.5,206.0 487.6,210.0 487.2,212.0 487.5,216.0 489.1,220.0 492.0,223.4 496.0,225.7 500.0,226.2 504.0,225.0 507.6,222.0 509.5,218.0 509.9,214.0 509.6,212.0 508.0,208.2 506.0,205.8 504.0,204.2 500.0,202.5 496.0,202.3Z"/>
<path fill="#ffff00" d="M-4.0,-4.0 292.0,-4.0 289.4,14.0 288.8,24.0 288.9,34.0 289.5,44.0 290.9,54.0 294.8,72.0 301.0,90.0 309.5,108.0 319.3,124.0 331.8,140.0 345.5,154.0 360.0,165.8 374.0,174.7 389.2,182.0 402.0,186.4 416.0,189.5 432.0,191.6 462.9,194.0 468.0,194.9 472.0,196.5 473.9,198.0 475.2,200.0 479.1,216.0 480.9,220.0 483.4,224.0 486.0,226.9 490.0,230.0 494.0,231.7 498.0,232.3 502.0,231.7 504.0,231.0 508.0,228.3 510.0,226.0 512.0,222.5 512.8,220.0 513.4,214.0 512.0,207.5 510.0,203.6 508.0,200.8 504.0,196.8 495.3,190.0 494.0,188.0 493.7,186.0 494.9,182.0 497.8,178.0 502.0,174.0 507.4,170.0 529.0,156.0 536.1,150.0 541.5,144.0 546.7,136.0 553.8,122.0 561.2,104.0 566.8,88.0 570.3,76.0 573.2,64.0 575.4,52.0 576.8,40.0 577.4,28.0 577.2,18.0 576.2,6.0 574.7,-4.0 846.0,-4.0 846.0,486.0 345.0,486.0 346.3,480.0 347.2,472.0 347.0,464.0 346.1,458.0 344.6,452.0 341.5,444.0 338.3,438.0 334.1,432.0 329.1,426.0 320.8,418.0 314.0,412.5 306.0,407.4 300.0,404.6 292.0,402.1 286.0,401.0 278.0,400.5 270.0,401.1 262.0,402.7 256.0,404.7 248.8,408.0 242.3,412.0 237.3,416.0 231.3,422.0 226.7,428.0 223.2,434.0 219.7,442.0 217.3,450.0 216.2,456.0 215.5,464.0 215.7,472.0 216.8,480.0 218.3,486.0 -4.0,486.0ZM554.0,163.8 552.0,164.6 550.3,166.0 549.1,168.0 548.5,170.0 548.9,174.0 549.9,176.0 552.1,178.0 556.0,179.1 558.0,178.8 560.0,177.9 562.0,176.0 562.9,174.0 563.1,170.0 562.0,167.3 560.0,165.1 558.0,164.1Z"/>
<path fill="#ffb700" d="M-4.0,-4.0 91.8,-4.0 109.2,16.0 126.6,34.0 145.7,52.0 169.0,72.0 194.5,92.0 219.3,110.0 248.6,130.0 280.1,150.0 307.2,166.0 329.4,178.0 349.9,188.0 370.0,196.2 384.0,200.6 396.0,203.2 408.0,204.9 438.0,207.3 446.0,208.8 452.0,210.7 458.0,213.8 462.0,216.8 466.0,220.5 478.0,233.6 484.0,238.8 490.0,242.1 496.0,243.3 502.0,242.4 508.0,238.9 512.0,234.6 514.0,231.4 516.0,226.7 517.5,220.0 517.5,212.0 516.0,204.0 513.1,194.0 512.3,188.0 513.2,184.0 516.0,179.4 522.0,174.4 526.0,172.5 530.0,171.7 534.0,172.2 536.0,173.1 546.0,180.8 550.0,182.7 554.0,183.8 558.0,184.0 562.0,183.1 566.0,181.3 570.3,178.0 573.4,174.0 576.1,168.0 580.0,150.0 582.0,144.0 586.0,136.6 592.0,128.5 608.0,111.5 652.2,70.0 676.3,46.0 699.7,20.0 718.8,-4.0 846.0,-4.0 846.0,486.0 373.1,486.0 370.0,472.0 364.8,458.0 358.3,446.0 350.9,436.0 345.4,430.0 338.9,424.0 316.0,405.2 306.0,398.6 294.0,393.0 282.0,389.5 270.0,387.3 256.0,386.0 226.0,384.7 218.0,383.6 210.0,381.5 204.0,379.1 196.0,374.8 162.0,351.0 152.0,344.9 142.0,339.6 132.0,335.0 120.0,330.5 108.0,327.1 96.0,324.7 84.0,323.2 70.0,322.6 56.0,323.3 44.0,325.0 31.0,328.0 18.8,332.0 8.0,336.6 -4.0,343.0Z"/>
<path fill="#ff6e00" d="M594.4,184.0 604.0,183.7 612.0,184.5 620.0,186.4 628.0,189.6 635.8,194.0 642.0,198.6 647.7,204.0 654.3,212.0 659.2,220.0 662.9,228.0 665.5,236.0 667.5,246.0 668.2,256.0 667.9,264.0 666.8,272.0 664.2,282.0 661.1,290.0 657.1,298.0 652.0,305.9 646.0,313.3 640.0,319.3 632.0,325.9 624.0,331.1 616.0,335.3 608.0,338.5 598.0,341.6 590.0,343.2 580.0,344.4 570.0,344.6 560.0,343.8 552.0,342.6 542.4,340.0 537.4,338.0 534.0,336.1 531.5,334.0 530.0,332.1 527.6,326.0 526.3,318.0 523.8,292.0 522.9,270.0 524.0,226.0 523.4,204.0 524.4,196.0 526.0,192.3 528.0,189.8 530.5,188.0 534.0,186.7 540.0,186.5 554.0,188.7 562.0,189.0 571.6,188.0ZM302.9,234.0 314.0,233.0 324.0,233.1 334.0,233.8 346.0,235.6 364.0,239.8 400.0,251.6 410.0,253.6 414.0,253.4 418.0,252.4 422.0,250.2 432.0,243.3 436.0,241.4 440.0,240.2 444.0,239.8 448.0,240.2 452.0,241.5 456.1,244.0 458.3,246.0 461.3,250.0 463.1,254.0 464.2,258.0 464.7,266.0 463.0,278.0 462.8,284.0 464.2,290.0 467.5,296.0 474.0,303.9 484.0,313.2 494.0,320.8 516.5,336.0 520.0,340.0 521.6,344.0 522.4,350.0 521.9,360.0 520.2,370.0 517.5,380.0 514.4,388.0 510.3,396.0 505.1,404.0 500.1,410.0 492.0,417.7 484.0,423.4 474.0,428.4 464.0,431.8 454.0,433.6 442.0,434.2 432.0,433.4 420.0,431.1 410.0,428.0 400.0,424.0 390.0,418.8 382.0,413.7 376.0,408.9 372.0,405.1 358.0,388.0 353.3,384.0 350.0,382.0 344.8,380.0 340.0,379.2 320.0,379.8 316.0,379.2 310.0,377.6 301.4,374.0 290.3,368.0 281.1,362.0 271.0,354.0 263.0,346.0 256.6,338.0 251.7,330.0 247.2,320.0 244.2,310.0 242.7,300.0 242.7,290.0 244.4,280.0 247.0,272.0 251.2,264.0 257.3,256.0 264.0,249.7 272.3,244.0 282.0,239.4 292.0,236.1Z"/>
<path fill="#ff0000" d="M541.7,196.0 546.0,195.0 550.0,194.7 556.0,195.2 562.0,196.4 566.7,198.0 570.8,200.0 573.9,202.0 578.2,206.0 580.9,210.0 582.7,214.0 583.6,218.0 583.7,222.0 583.1,226.0 581.8,230.0 579.4,234.0 575.7,238.0 572.0,240.6 568.0,242.4 564.0,243.4 558.0,243.5 552.0,242.2 548.0,240.4 544.0,237.6 540.0,233.6 536.4,228.0 534.0,222.1 532.7,216.0 532.5,210.0 533.1,206.0 534.6,202.0 538.0,198.1ZM344.7,288.0 352.0,287.8 360.0,288.8 368.0,291.1 376.0,294.8 383.9,300.0 390.0,305.4 395.8,312.0 399.9,318.0 402.9,324.0 405.5,332.0 406.6,340.0 406.2,346.0 404.7,352.0 401.7,358.0 398.0,362.6 392.0,367.1 384.0,370.4 380.0,371.1 374.0,371.5 362.0,370.3 348.0,366.8 336.0,362.7 326.9,358.0 319.5,352.0 316.1,348.0 313.5,344.0 310.1,336.0 309.2,332.0 308.6,326.0 309.0,320.0 309.8,316.0 313.1,308.0 315.6,304.0 319.0,300.0 326.0,294.4 334.0,290.4 340.0,288.7Z"/>
<g transform="translate(0.0,0.0)">
<g fill="none" stroke="#000" stroke-linejoin="round" stroke-linecap="round">
<path stroke-width="2.15" d="M27.9,2.5 32.8,10.5 47.7,16.7 55.1,22.9 62.5,31.0 92.3,31.5 93.5,45.1 95.2,65.0"/>
<path stroke-width="2.15" d="M95.2,65.0 103.4,71.1 113.3,73.6 122.0,72.4 131.9,83.5 138.1,79.8 148.0,78.6 157.9,71.1 161.6,66.2 159.1,60.0 170.3,56.3 185.1,52.6 197.5,46.4 207.4,42.7 211.9,37.7 212.4,30.3 216.1,21.6 218.6,14.2 224.8,10.5 244.6,8.0 247.1,2.5"/>
<path stroke-width="2.15" d="M247.1,2.5 259.4,4.3 269.4,6.8 284.2,5.5 294.1,6.8 302.8,11.7 316.4,9.2 322.6,16.7 330.0,20.4 341.2,15.4 353.6,9.2 363.5,8.0 373.4,15.4 379.6,11.7 380.8,4.3 387.0,3.0"/>
<path stroke-width="2.15" d="M95.2,65.0 92.3,74.9 89.8,84.8 88.5,94.7 84.8,102.1 77.4,107.1 81.1,110.8 71.2,114.5 68.2,120.7 70.0,129.4 68.7,134.3 74.9,138.0 83.1,140.5 76.2,146.7 71.2,154.1 73.7,164.0 77.4,173.9 81.1,183.8 80.6,196.2 81.1,211.1 96.0,212.3 109.6,213.6 114.6,219.8 115.8,227.2 110.8,235.9 100.9,247.0 91.0,258.1 82.4,267.6"/>
<path stroke-width="2.15" d="M82.4,267.6 98.5,271.8 115.8,278.0 135.6,282.4 160.4,281.7 180.2,279.2 193.8,281.7 202.5,278.0 222.3,276.7 244.6,271.8 264.4,268.1 271.3,265.6 268.1,258.1 270.6,243.3 271.8,233.4 280.5,223.5 291.6,217.3 296.6,218.5 309.0,217.3 320.1,214.8 316.4,209.8 323.8,207.4 333.7,201.2 346.1,199.9 358.5,204.9 368.4,201.2 375.9,195.0"/>
<path stroke-width="2.15" d="M82.4,267.5 91.0,277.4 98.5,287.3 105.9,299.7 115.8,309.6 125.7,314.6 135.6,317.1 145.5,322.0 148.0,334.4 149.2,349.3 150.5,359.2 160.4,359.2 164.1,364.1 161.6,369.1 164.1,374.0 160.4,379.0 148.0,379.0 135.6,381.5 125.7,388.9 118.3,393.8 115.8,403.7 113.3,408.7 109.6,418.6 108.4,431.0 107.1,434.7"/>
<path stroke-width="2.15" d="M-13.0,414.9 1.9,416.1 11.8,418.6 19.2,422.3 31.6,419.8 44.0,422.3 56.3,423.6 66.3,421.1 71.2,426.0 83.6,428.5 96.0,433.5 107.1,434.7"/>
<path stroke-width="1.1" d="M107.1,434.7 115.8,433.5 131.9,429.8 148.0,428.5 160.4,428.0 172.8,428.5 175.2,424.8 185.1,423.6 192.6,421.1 197.5,424.8 209.9,428.5 222.3,424.8 234.7,423.6 247.1,422.3 259.4,421.1 264.4,416.1 276.8,414.9 280.5,421.1 284.2,433.5 283.0,440.9"/>
<path stroke-width="3.0" d="M283.0,440.9 296.6,440.9 304.0,448.3 309.0,455.8 307.7,463.2 311.5,470.6 316.4,476.8 326.3,478.1 333.7,476.8"/>
<path stroke-width="1.1" d="M284.2,439.7 299.1,423.6 306.5,406.2 301.6,388.9 299.1,369.1 300.3,354.2 306.5,341.8 318.9,334.4 333.7,324.5 343.7,318.3 363.5,317.1 372.1,317.1"/>
<path stroke-width="2.15" d="M551.5,209.5 557.0,223.1 544.6,235.5 534.7,245.4 535.9,252.9 524.8,260.3 516.1,266.5 512.4,277.6 507.4,287.5 501.2,296.2 490.1,302.4 479.0,309.8 472.8,319.7 465.3,330.9 460.4,335.8 448.0,337.1 435.6,340.8 428.2,342.0 422.0,337.1 415.8,330.9 403.4,338.3 393.5,349.5 383.6,359.4 386.1,369.3 396.0,374.2 403.4,379.2 404.6,389.1 400.9,399.0 403.4,406.4 410.8,411.4 422.0,412.6 423.2,423.8 428.2,433.7 433.1,443.6 436.8,456.0 430.7,458.4 425.7,462.2 410.8,460.9 400.9,464.6 386.1,463.4 371.2,460.9 356.3,462.2 353.9,470.8 341.5,472.1 334.1,477.0"/>
<path stroke-width="1.1" d="M398.5,249.9 398.5,260.8 393.5,267.7 384.8,275.2 383.6,282.6 389.8,290.0 383.6,299.9 378.6,309.8 372.4,317.3 393.5,324.7 415.8,330.9"/>
<path stroke-width="2.15" d="M373.2,193.2 372.5,184.3 373.9,175.4 377.7,168.0 379.1,159.1 382.1,154.6 391.0,152.4 399.9,148.7 408.9,145.7 408.9,139.7 404.4,133.8 399.9,129.3 394.0,124.9 394.7,121.2 404.4,121.9 416.3,124.1 426.7,123.4 434.1,118.9 436.4,113.0 434.1,107.1 437.1,99.6 444.5,92.2 452.0,84.8 455.7,77.3 454.9,69.9"/>
<path stroke-width="2.15" d="M454.3,73.9 450.6,64.6 445.0,55.3 440.4,50.7 448.7,44.2 459.9,36.8 471.0,27.5 482.2,23.8 497.0,21.9 511.9,21.0 524.9,22.8 534.2,23.8 543.5,20.1 552.8,15.4 554.6,12.6"/>
<path stroke-width="1.1" d="M373.2,193.2 382.1,191.8 391.0,189.5 394.0,194.7 396.2,203.6 399.9,211.1 405.9,210.3 408.9,218.5 407.4,228.9 402.9,237.8 398.5,249.9"/>
<path stroke-width="1.1" d="M408.9,218.5 416.3,215.5 425.2,214.1 429.7,203.6 434.1,193.2 437.1,184.3 443.0,176.9 438.6,171.0 437.1,162.0 441.6,156.1 447.5,154.6 450.5,150.9 456.4,153.1 457.9,145.7 465.3,139.7 471.3,132.3 478.7,124.9 484.7,121.9 492.1,126.4 498.0,132.3 502.5,135.3 512.9,129.3 518.8,124.9 524.8,114.5 527.0,102.6"/>
<path stroke-width="2.15" d="M448.7,1.5 447.8,14.5 451.5,25.6 458.0,29.3 465.5,26.6 474.7,20.1 485.9,16.3 497.0,10.8 508.2,5.2 519.3,3.3 524.9,7.0 530.5,9.8 545.3,7.0 560.2,6.1 567.6,8.9 562.1,11.7 554.6,12.6"/>
<path stroke-width="2.15" d="M367.0,7.0 376.3,10.8 378.1,5.2 380.0,1.5"/>
<path stroke-width="2.15" d="M554.6,12.6 563.9,16.3 571.3,15.4 580.6,20.1 589.9,23.8 599.2,29.3 604.8,36.8 608.5,44.2 606.6,49.8 614.1,55.3 623.4,57.2 630.8,62.8 640.1,66.5 651.2,70.2 662.4,72.1 665.5,72.4"/>
<path stroke-width="1.1" d="M665.5,72.4 651.8,82.3 639.4,89.7 627.1,97.2 614.7,102.1 602.3,104.6 589.9,105.8 580.0,102.1 570.1,100.9 562.7,94.7 557.7,88.5 552.8,84.8"/>
<path stroke-width="1.1" d="M526.8,23.8 515.6,29.3 504.5,29.3 500.8,35.8 487.8,42.3 485.9,51.6 487.8,57.2 497.0,59.1 508.2,60.9 515.6,68.4 524.9,70.2 528.6,75.8 534.2,81.4 543.5,86.9 552.8,85.1 558.3,92.5 563.9,96.2"/>
<path stroke-width="1.1" d="M534.2,81.4 528.6,92.5 524.9,99.9 519.3,105.5 515.6,114.8 519.3,125.9 523.0,137.1 524.9,150.1 534.2,155.7 543.5,159.4 552.8,163.1 560.2,166.8"/>
<path stroke-width="1.1" d="M539.8,88.8 549.1,94.4 554.6,99.9 550.9,107.4 541.6,114.8 536.1,122.2 539.8,133.4 537.9,142.7 543.5,151.9 552.8,161.2"/>
<path stroke-width="2.15" d="M560.2,166.8 571.3,174.2 582.5,179.8 595.5,174.2 604.8,165.0 599.2,159.4 614.1,155.7 623.4,150.1 632.7,153.8 641.9,159.4 653.1,163.1 667.0,159.4"/>
<path stroke-width="2.15" d="M614.7,156.6 624.6,150.4 634.5,151.6 641.9,159.1 651.8,162.8 661.7,161.6 667.9,157.8 671.6,164.0 676.6,170.2 684.0,169.0"/>
<path stroke-width="2.15" d="M582.5,179.8 571.3,191.0 560.2,200.2 556.5,209.5 560.2,218.8"/>
</g>
<circle cx="452.4" cy="122.7" r="4.6" fill="#000"/>
<circle cx="506.2" cy="136.8" r="4.6" fill="#000"/>
<circle cx="555.7" cy="175.2" r="4.6" fill="#000"/>
<circle cx="551.5" cy="209.8" r="4.6" fill="#000"/>
<circle cx="501.5" cy="214.8" r="4.6" fill="#000"/>
<circle cx="447.5" cy="255.2" r="4.6" fill="#000"/>
<circle cx="356.0" cy="341.3" r="4.6" fill="#000"/>
<circle cx="341.7" cy="393.1" r="4.6" fill="#000"/>
<circle cx="298.6" cy="440.4" r="4.6" fill="#000"/>
<circle cx="131.9" cy="428.5" r="4.6" fill="#000"/>
<g font-family='"Liberation Sans",Arial,Helvetica,sans-serif' font-size="24" font-weight="bold" fill="#000">
<text x="459.6" y="110.4">0.21</text>
<text x="510.4" y="125.2">0.03</text>
<text x="562.6" y="164.4">0.01</text>
<text x="556.5" y="231.1">-0.36</text>
<text x="508.9" y="202.7">0.03</text>
<text x="454.9" y="242.2">-0.11</text>
<text x="363.9" y="329.2">-0.36</text>
<text x="348.6" y="380.4">-0.07</text>
<text x="304.9" y="426.4">0.09</text>
<text x="138.8" y="415.8">-0.02</text>
</g>
<g font-family='"Liberation Serif","Times New Roman",Times,serif' font-size="26" font-weight="bold" fill="#000">
<text transform="translate(294.5,180.5) rotate(-42)" letter-spacing="2.1">Afghanistan</text>
<text transform="translate(600,12) rotate(24)" letter-spacing="1.5">China</text>
<text transform="translate(74,368.5)" letter-spacing="1.2">Iran</text>
<text transform="translate(516,335) rotate(-45)" letter-spacing="1.5">India</text>
</g>
<text x="91" y="469" font-family='"Liberation Sans",Arial,Helvetica,sans-serif' font-size="29" font-weight="bold">Arabian Sea</text>
</g>
</g>
<text transform="translate(829.1,59.0)" font-family='"Liberation Sans",Arial,Helvetica,sans-serif' font-size="49" font-weight="bold" text-anchor="end">(g)</text>
<text transform="translate(834.1,462.6)" font-family='"Liberation Sans",Arial,Helvetica,sans-serif' font-size="50" font-weight="bold" text-anchor="end">Monthly</text>
<rect x="0" y="0" width="842.1" height="481.8" fill="none" stroke="#000" stroke-width="4.4"/>
</g>
<g transform="translate(333.0,592.2)">
<clipPath id="c3"><rect x="0" y="0" width="842.1" height="481.8"/></clipPath>
<g clip-path="url(#c3)">
<rect x="0" y="0" width="842.1" height="481.8" fill="#0000ff"/>
<path fill="#3860ff" d="M-4.0,-4.0 846.0,-4.0 846.0,486.0 -4.0,486.0ZM440.0,95.4 436.0,97.2 432.0,100.0 428.3,104.0 426.0,107.8 424.4,112.0 423.6,116.0 423.6,122.0 424.4,126.0 425.9,130.0 428.3,134.0 431.8,138.0 436.0,141.1 440.0,142.9 444.0,144.0 450.0,144.3 454.0,143.6 458.0,142.0 462.0,139.4 465.3,136.0 468.0,131.9 470.0,126.7 470.9,122.0 470.9,116.0 470.0,111.2 468.0,106.4 466.0,103.3 462.0,99.2 458.0,96.6 454.0,95.0 450.0,94.3 444.0,94.4Z"/>
<path fill="#38acff" d="M-4.0,-4.0 846.0,-4.0 846.0,486.0 -4.0,486.0ZM284.0,421.9 279.7,424.0 274.8,428.0 271.6,432.0 269.6,436.0 268.3,440.0 267.6,446.0 268.3,452.0 269.5,456.0 272.0,460.9 276.0,465.7 280.0,468.9 284.0,471.1 288.0,472.4 294.0,473.2 300.0,472.6 304.0,471.4 308.0,469.4 312.0,466.4 315.7,462.0 318.0,457.9 319.8,452.0 320.2,448.0 319.9,444.0 318.3,438.0 316.0,433.3 312.0,428.3 308.0,425.0 304.0,422.7 300.0,421.2 294.0,420.2 288.0,420.7ZM434.0,53.8 424.0,56.2 414.0,60.9 409.5,64.0 404.9,68.0 398.2,76.0 392.8,86.0 389.8,96.0 388.6,106.0 389.3,116.0 391.8,126.0 396.4,136.0 400.4,142.0 403.8,146.0 412.0,153.4 422.0,159.4 432.0,163.0 442.0,164.6 452.0,164.1 460.0,161.8 466.0,158.5 472.0,153.0 476.8,146.0 481.6,134.0 487.2,114.0 488.6,104.0 488.2,94.0 486.0,84.9 482.0,76.5 476.0,68.6 470.0,63.2 462.0,58.3 452.0,54.7 444.0,53.5ZM492.0,195.8 488.0,197.2 486.0,198.5 484.0,200.3 481.6,204.0 480.0,210.0 480.1,214.0 480.9,218.0 484.0,224.4 487.0,228.0 490.0,230.4 496.0,233.0 500.0,233.3 504.0,232.4 508.1,230.0 510.1,228.0 512.6,224.0 514.2,218.0 514.3,214.0 513.6,210.0 510.8,204.0 506.0,199.0 500.0,196.1 496.0,195.5Z"/>
<path fill="#00ffff" d="M-4.0,-4.0 336.3,-4.0 331.6,4.0 328.0,11.6 324.7,20.0 322.2,28.0 319.1,44.0 318.4,52.0 318.2,62.0 318.8,72.0 319.9,80.0 321.5,88.0 324.2,98.0 330.5,114.0 334.6,122.0 339.4,130.0 348.2,142.0 359.2,154.0 371.0,164.0 382.0,171.4 392.0,176.8 402.0,181.0 414.0,185.0 440.5,192.0 446.0,194.1 452.0,197.6 454.7,200.0 458.0,203.8 470.4,224.0 474.8,230.0 480.0,236.1 486.0,241.4 490.0,243.9 494.0,245.5 500.0,246.2 506.0,244.7 510.0,242.2 512.0,240.2 516.0,234.4 518.9,226.0 519.7,216.0 519.2,210.0 518.0,204.7 514.0,194.6 504.3,178.0 503.2,174.0 503.2,170.0 504.5,166.0 507.0,162.0 518.0,150.7 521.8,146.0 524.3,142.0 527.0,136.0 529.9,126.0 534.1,104.0 536.9,88.0 538.3,76.0 539.0,64.0 538.8,54.0 537.8,44.0 536.1,34.0 533.6,24.0 530.1,14.0 526.0,5.0 520.9,-4.0 846.0,-4.0 846.0,486.0 340.7,486.0 342.2,480.0 343.2,472.0 343.1,464.0 342.3,458.0 340.8,452.0 337.7,444.0 334.4,438.0 330.3,432.0 325.3,426.0 319.2,420.0 312.0,414.1 306.0,410.2 300.0,407.2 292.0,404.3 286.0,403.1 278.0,402.4 270.0,402.9 262.0,404.4 254.0,407.1 248.0,410.0 241.4,414.0 236.2,418.0 229.9,424.0 225.0,430.0 221.1,436.0 217.1,444.0 215.0,450.0 213.3,458.0 212.7,464.0 213.1,472.0 214.5,480.0 216.4,486.0 -4.0,486.0ZM120.0,399.5 114.0,401.8 108.0,405.7 103.7,410.0 99.7,416.0 97.3,422.0 96.2,428.0 96.5,436.0 98.0,442.0 100.8,448.0 105.3,454.0 110.0,458.1 116.0,461.6 122.0,463.7 128.0,464.7 136.0,464.3 142.0,462.7 148.0,459.9 153.1,456.0 156.8,452.0 160.4,446.0 162.4,440.0 163.1,434.0 162.7,428.0 161.2,422.0 158.5,416.0 154.3,410.0 150.0,405.9 144.0,402.0 138.0,399.6 132.0,398.4 126.0,398.4Z"/>
<path fill="#96ffb4" d="M680.7,106.0 702.0,104.5 722.0,104.5 742.5,106.0 764.0,109.1 786.0,113.9 806.0,119.8 826.0,127.1 846.0,136.0 846.0,486.0 414.3,486.0 400.1,470.0 388.6,458.0 375.7,446.0 366.0,438.0 354.8,430.0 338.0,419.3 330.5,414.0 323.3,408.0 310.0,395.7 302.0,389.5 292.0,383.2 267.1,370.0 256.8,364.0 248.0,358.0 240.7,352.0 230.9,342.0 223.1,332.0 214.5,318.0 207.8,304.0 204.1,294.0 201.3,284.0 199.5,274.0 198.9,266.0 199.2,258.0 200.4,250.0 202.8,242.0 205.4,236.0 209.1,230.0 214.0,223.9 220.5,218.0 228.0,213.0 236.0,209.0 244.0,206.1 252.5,204.0 262.0,202.5 272.0,201.8 282.0,201.7 292.0,202.3 304.0,203.6 326.0,207.6 368.0,217.2 384.0,219.8 398.0,220.4 428.0,219.2 436.0,220.0 442.0,221.4 448.0,223.6 452.0,225.7 458.0,229.8 462.0,233.2 470.0,242.0 484.0,261.8 490.0,268.1 494.0,270.9 500.0,272.9 504.0,272.9 508.0,271.7 512.0,269.1 516.5,264.0 520.0,257.0 522.6,248.0 524.1,238.0 524.7,226.0 524.2,214.0 522.7,196.0 522.7,190.0 524.0,183.4 526.0,179.3 528.0,176.8 532.0,173.5 534.0,172.6 538.0,171.9 542.0,173.2 548.7,178.0 552.0,179.5 556.0,180.2 560.0,179.4 562.8,178.0 565.0,176.0 567.7,172.0 569.1,168.0 571.7,156.0 573.6,152.0 576.0,148.5 580.0,144.1 584.0,140.6 596.0,132.3 604.0,127.9 614.0,123.1 624.0,119.1 636.0,115.1 658.0,109.5Z"/>
<path fill="#d4ff69" d="M578.3,186.0 588.0,185.1 598.0,185.9 606.0,188.3 614.0,192.6 620.4,198.0 626.7,206.0 628.9,210.0 631.4,216.0 633.6,226.0 633.7,236.0 632.3,244.0 628.5,254.0 623.5,262.0 616.0,269.9 608.0,275.5 600.0,279.1 590.0,281.5 584.0,281.8 578.0,281.5 568.0,279.2 562.0,276.7 558.0,274.4 552.0,270.0 548.0,266.2 542.0,258.7 536.0,247.6 532.0,235.9 528.9,220.0 528.1,208.0 528.6,200.0 530.5,194.0 532.0,191.6 534.0,189.5 538.0,187.5 542.0,186.9 560.0,188.1 566.0,187.7ZM440.9,246.0 446.0,245.3 450.0,246.2 454.0,249.0 456.0,251.6 457.0,254.0 457.5,256.0 457.4,260.0 456.0,264.2 454.0,267.0 452.0,268.8 448.0,270.7 446.0,271.2 442.0,271.1 438.0,269.6 436.0,268.1 434.2,266.0 432.5,262.0 432.1,260.0 432.4,256.0 433.9,252.0 437.3,248.0ZM324.4,264.0 336.0,262.2 348.0,262.2 360.0,263.9 374.0,267.7 388.0,273.5 402.0,281.6 412.0,289.3 420.0,297.9 428.3,310.0 435.2,324.0 439.1,336.0 441.0,348.0 441.1,354.0 440.5,360.0 437.9,370.0 435.1,376.0 432.5,380.0 429.2,384.0 425.0,388.0 420.0,391.5 416.0,393.6 406.0,397.0 400.0,397.9 394.0,398.2 388.0,397.7 382.0,396.6 372.0,393.1 356.8,384.0 348.8,380.0 342.0,377.9 326.0,374.8 318.0,371.7 312.0,368.2 306.4,364.0 302.0,360.0 296.4,354.0 291.9,348.0 288.3,342.0 285.5,336.0 283.0,328.0 281.6,320.0 281.4,314.0 282.2,306.0 283.6,300.0 285.8,294.0 289.1,288.0 293.5,282.0 298.0,277.4 304.0,272.7 310.0,269.2 317.6,266.0Z"/>
<path fill="#ffff00" d="M542.4,192.0 548.0,191.4 554.0,191.6 566.0,192.8 574.0,194.3 579.4,196.0 583.7,198.0 586.8,200.0 591.3,204.0 594.4,208.0 597.2,214.0 598.5,220.0 598.6,226.0 597.3,232.0 595.7,236.0 592.0,241.7 588.0,245.8 582.0,249.8 576.2,252.0 570.0,253.1 564.0,252.9 558.0,251.6 552.0,248.9 546.0,244.7 542.0,240.6 538.0,234.9 534.0,226.0 532.0,218.0 531.4,210.0 532.0,203.6 534.1,198.0 536.0,195.5 538.0,193.9ZM342.4,288.0 350.0,287.3 358.0,287.9 366.0,289.7 374.0,292.8 382.0,297.3 388.1,302.0 394.2,308.0 400.2,316.0 404.4,324.0 407.1,332.0 408.2,340.0 407.9,346.0 406.1,354.0 403.1,360.0 398.1,366.0 394.0,369.2 390.0,371.4 386.0,372.9 378.0,374.3 368.0,373.8 356.0,371.3 340.0,366.5 329.5,362.0 321.0,356.0 317.2,352.0 314.3,348.0 310.3,340.0 309.1,336.0 308.0,330.0 307.9,326.0 308.4,320.0 310.0,314.0 311.7,310.0 313.9,306.0 316.9,302.0 324.0,295.5 332.0,291.0 338.0,288.9Z"/>
<path fill="#ffb700" d="M545.2,196.0 552.0,195.2 558.0,195.9 562.0,196.8 569.5,200.0 572.4,202.0 576.4,206.0 579.5,212.0 580.4,216.0 580.4,220.0 579.6,224.0 577.7,228.0 574.6,232.0 572.0,234.2 568.0,236.4 564.0,237.6 560.0,238.0 554.0,237.2 550.0,235.7 546.0,233.2 542.0,229.4 540.0,226.8 538.0,223.2 536.1,218.0 535.2,212.0 535.4,208.0 536.4,204.0 538.8,200.0 542.0,197.3ZM351.0,308.0 356.0,307.8 362.0,308.6 368.0,310.6 372.0,312.7 376.0,315.6 380.0,319.6 383.1,324.0 385.1,328.0 386.5,332.0 387.3,338.0 387.1,342.0 386.3,346.0 384.6,350.0 381.9,354.0 378.0,357.6 374.0,360.0 368.0,362.0 362.0,362.7 354.4,362.0 348.0,360.3 342.0,357.5 336.9,354.0 333.0,350.0 329.4,344.0 327.6,338.0 327.3,332.0 328.4,326.0 331.3,320.0 334.5,316.0 340.0,311.7 346.0,309.1Z"/>
<path fill="#ff6e00" d="M546.1,200.0 552.0,198.9 558.0,199.9 562.6,202.0 567.0,206.0 569.2,210.0 569.9,216.0 569.0,220.0 567.9,222.0 564.0,226.1 562.0,227.2 558.0,228.4 552.0,228.1 548.0,226.4 546.0,225.1 542.0,220.7 540.6,218.0 539.4,214.0 539.6,208.0 540.2,206.0 542.0,203.1ZM352.1,326.0 358.0,325.5 362.0,326.7 366.8,330.0 369.4,334.0 370.6,338.0 370.4,342.0 369.9,344.0 367.5,348.0 365.2,350.0 362.0,351.7 358.0,352.5 352.0,351.6 348.8,350.0 346.4,348.0 343.7,344.0 343.0,342.0 342.5,338.0 344.0,332.6 345.8,330.0 348.0,328.0Z"/>
<g transform="translate(0.0,0.0)">
<g fill="none" stroke="#000" stroke-linejoin="round" stroke-linecap="round">
<path stroke-width="2.15" d="M27.9,2.5 32.8,10.5 47.7,16.7 55.1,22.9 62.5,31.0 92.3,31.5 93.5,45.1 95.2,65.0"/>
<path stroke-width="2.15" d="M95.2,65.0 103.4,71.1 113.3,73.6 122.0,72.4 131.9,83.5 138.1,79.8 148.0,78.6 157.9,71.1 161.6,66.2 159.1,60.0 170.3,56.3 185.1,52.6 197.5,46.4 207.4,42.7 211.9,37.7 212.4,30.3 216.1,21.6 218.6,14.2 224.8,10.5 244.6,8.0 247.1,2.5"/>
<path stroke-width="2.15" d="M247.1,2.5 259.4,4.3 269.4,6.8 284.2,5.5 294.1,6.8 302.8,11.7 316.4,9.2 322.6,16.7 330.0,20.4 341.2,15.4 353.6,9.2 363.5,8.0 373.4,15.4 379.6,11.7 380.8,4.3 387.0,3.0"/>
<path stroke-width="2.15" d="M95.2,65.0 92.3,74.9 89.8,84.8 88.5,94.7 84.8,102.1 77.4,107.1 81.1,110.8 71.2,114.5 68.2,120.7 70.0,129.4 68.7,134.3 74.9,138.0 83.1,140.5 76.2,146.7 71.2,154.1 73.7,164.0 77.4,173.9 81.1,183.8 80.6,196.2 81.1,211.1 96.0,212.3 109.6,213.6 114.6,219.8 115.8,227.2 110.8,235.9 100.9,247.0 91.0,258.1 82.4,267.6"/>
<path stroke-width="2.15" d="M82.4,267.6 98.5,271.8 115.8,278.0 135.6,282.4 160.4,281.7 180.2,279.2 193.8,281.7 202.5,278.0 222.3,276.7 244.6,271.8 264.4,268.1 271.3,265.6 268.1,258.1 270.6,243.3 271.8,233.4 280.5,223.5 291.6,217.3 296.6,218.5 309.0,217.3 320.1,214.8 316.4,209.8 323.8,207.4 333.7,201.2 346.1,199.9 358.5,204.9 368.4,201.2 375.9,195.0"/>
<path stroke-width="2.15" d="M82.4,267.5 91.0,277.4 98.5,287.3 105.9,299.7 115.8,309.6 125.7,314.6 135.6,317.1 145.5,322.0 148.0,334.4 149.2,349.3 150.5,359.2 160.4,359.2 164.1,364.1 161.6,369.1 164.1,374.0 160.4,379.0 148.0,379.0 135.6,381.5 125.7,388.9 118.3,393.8 115.8,403.7 113.3,408.7 109.6,418.6 108.4,431.0 107.1,434.7"/>
<path stroke-width="2.15" d="M-13.0,414.9 1.9,416.1 11.8,418.6 19.2,422.3 31.6,419.8 44.0,422.3 56.3,423.6 66.3,421.1 71.2,426.0 83.6,428.5 96.0,433.5 107.1,434.7"/>
<path stroke-width="1.1" d="M107.1,434.7 115.8,433.5 131.9,429.8 148.0,428.5 160.4,428.0 172.8,428.5 175.2,424.8 185.1,423.6 192.6,421.1 197.5,424.8 209.9,428.5 222.3,424.8 234.7,423.6 247.1,422.3 259.4,421.1 264.4,416.1 276.8,414.9 280.5,421.1 284.2,433.5 283.0,440.9"/>
<path stroke-width="3.0" d="M283.0,440.9 296.6,440.9 304.0,448.3 309.0,455.8 307.7,463.2 311.5,470.6 316.4,476.8 326.3,478.1 333.7,476.8"/>
<path stroke-width="1.1" d="M284.2,439.7 299.1,423.6 306.5,406.2 301.6,388.9 299.1,369.1 300.3,354.2 306.5,341.8 318.9,334.4 333.7,324.5 343.7,318.3 363.5,317.1 372.1,317.1"/>
<path stroke-width="2.15" d="M551.5,209.5 557.0,223.1 544.6,235.5 534.7,245.4 535.9,252.9 524.8,260.3 516.1,266.5 512.4,277.6 507.4,287.5 501.2,296.2 490.1,302.4 479.0,309.8 472.8,319.7 465.3,330.9 460.4,335.8 448.0,337.1 435.6,340.8 428.2,342.0 422.0,337.1 415.8,330.9 403.4,338.3 393.5,349.5 383.6,359.4 386.1,369.3 396.0,374.2 403.4,379.2 404.6,389.1 400.9,399.0 403.4,406.4 410.8,411.4 422.0,412.6 423.2,423.8 428.2,433.7 433.1,443.6 436.8,456.0 430.7,458.4 425.7,462.2 410.8,460.9 400.9,464.6 386.1,463.4 371.2,460.9 356.3,462.2 353.9,470.8 341.5,472.1 334.1,477.0"/>
<path stroke-width="1.1" d="M398.5,249.9 398.5,260.8 393.5,267.7 384.8,275.2 383.6,282.6 389.8,290.0 383.6,299.9 378.6,309.8 372.4,317.3 393.5,324.7 415.8,330.9"/>
<path stroke-width="2.15" d="M373.2,193.2 372.5,184.3 373.9,175.4 377.7,168.0 379.1,159.1 382.1,154.6 391.0,152.4 399.9,148.7 408.9,145.7 408.9,139.7 404.4,133.8 399.9,129.3 394.0,124.9 394.7,121.2 404.4,121.9 416.3,124.1 426.7,123.4 434.1,118.9 436.4,113.0 434.1,107.1 437.1,99.6 444.5,92.2 452.0,84.8 455.7,77.3 454.9,69.9"/>
<path stroke-width="2.15" d="M454.3,73.9 450.6,64.6 445.0,55.3 440.4,50.7 448.7,44.2 459.9,36.8 471.0,27.5 482.2,23.8 497.0,21.9 511.9,21.0 524.9,22.8 534.2,23.8 543.5,20.1 552.8,15.4 554.6,12.6"/>
<path stroke-width="1.1" d="M373.2,193.2 382.1,191.8 391.0,189.5 394.0,194.7 396.2,203.6 399.9,211.1 405.9,210.3 408.9,218.5 407.4,228.9 402.9,237.8 398.5,249.9"/>
<path stroke-width="1.1" d="M408.9,218.5 416.3,215.5 425.2,214.1 429.7,203.6 434.1,193.2 437.1,184.3 443.0,176.9 438.6,171.0 437.1,162.0 441.6,156.1 447.5,154.6 450.5,150.9 456.4,153.1 457.9,145.7 465.3,139.7 471.3,132.3 478.7,124.9 484.7,121.9 492.1,126.4 498.0,132.3 502.5,135.3 512.9,129.3 518.8,124.9 524.8,114.5 527.0,102.6"/>
<path stroke-width="2.15" d="M448.7,1.5 447.8,14.5 451.5,25.6 458.0,29.3 465.5,26.6 474.7,20.1 485.9,16.3 497.0,10.8 508.2,5.2 519.3,3.3 524.9,7.0 530.5,9.8 545.3,7.0 560.2,6.1 567.6,8.9 562.1,11.7 554.6,12.6"/>
<path stroke-width="2.15" d="M367.0,7.0 376.3,10.8 378.1,5.2 380.0,1.5"/>
<path stroke-width="2.15" d="M554.6,12.6 563.9,16.3 571.3,15.4 580.6,20.1 589.9,23.8 599.2,29.3 604.8,36.8 608.5,44.2 606.6,49.8 614.1,55.3 623.4,57.2 630.8,62.8 640.1,66.5 651.2,70.2 662.4,72.1 665.5,72.4"/>
<path stroke-width="1.1" d="M665.5,72.4 651.8,82.3 639.4,89.7 627.1,97.2 614.7,102.1 602.3,104.6 589.9,105.8 580.0,102.1 570.1,100.9 562.7,94.7 557.7,88.5 552.8,84.8"/>
<path stroke-width="1.1" d="M526.8,23.8 515.6,29.3 504.5,29.3 500.8,35.8 487.8,42.3 485.9,51.6 487.8,57.2 497.0,59.1 508.2,60.9 515.6,68.4 524.9,70.2 528.6,75.8 534.2,81.4 543.5,86.9 552.8,85.1 558.3,92.5 563.9,96.2"/>
<path stroke-width="1.1" d="M534.2,81.4 528.6,92.5 524.9,99.9 519.3,105.5 515.6,114.8 519.3,125.9 523.0,137.1 524.9,150.1 534.2,155.7 543.5,159.4 552.8,163.1 560.2,166.8"/>
<path stroke-width="1.1" d="M539.8,88.8 549.1,94.4 554.6,99.9 550.9,107.4 541.6,114.8 536.1,122.2 539.8,133.4 537.9,142.7 543.5,151.9 552.8,161.2"/>
<path stroke-width="2.15" d="M560.2,166.8 571.3,174.2 582.5,179.8 595.5,174.2 604.8,165.0 599.2,159.4 614.1,155.7 623.4,150.1 632.7,153.8 641.9,159.4 653.1,163.1 667.0,159.4"/>
<path stroke-width="2.15" d="M614.7,156.6 624.6,150.4 634.5,151.6 641.9,159.1 651.8,162.8 661.7,161.6 667.9,157.8 671.6,164.0 676.6,170.2 684.0,169.0"/>
<path stroke-width="2.15" d="M582.5,179.8 571.3,191.0 560.2,200.2 556.5,209.5 560.2,218.8"/>
</g>
<circle cx="452.4" cy="122.7" r="4.6" fill="#000"/>
<circle cx="506.2" cy="136.8" r="4.6" fill="#000"/>
<circle cx="555.7" cy="175.2" r="4.6" fill="#000"/>
<circle cx="551.5" cy="209.8" r="4.6" fill="#000"/>
<circle cx="501.5" cy="214.8" r="4.6" fill="#000"/>
<circle cx="447.5" cy="255.2" r="4.6" fill="#000"/>
<circle cx="356.0" cy="341.3" r="4.6" fill="#000"/>
<circle cx="341.7" cy="393.1" r="4.6" fill="#000"/>
<circle cx="298.6" cy="440.4" r="4.6" fill="#000"/>
<circle cx="131.9" cy="428.5" r="4.6" fill="#000"/>
<g font-family='"Liberation Sans",Arial,Helvetica,sans-serif' font-size="24" font-weight="bold" fill="#000">
<text x="459.6" y="110.4">0.17</text>
<text x="510.4" y="125.2">0.02</text>
<text x="562.6" y="164.4">-0.01</text>
<text x="556.5" y="231.1">-0.32</text>
<text x="508.9" y="202.7">0.15</text>
<text x="454.9" y="242.2">-0.1</text>
<text x="363.9" y="329.2">-0.25</text>
<text x="348.6" y="380.4">-0.08</text>
<text x="304.9" y="426.4">0.1</text>
<text x="138.8" y="415.8">0.02</text>
</g>
<g font-family='"Liberation Serif","Times New Roman",Times,serif' font-size="26" font-weight="bold" fill="#000">
<text transform="translate(294.5,180.5) rotate(-42)" letter-spacing="2.1">Afghanistan</text>
<text transform="translate(600,12) rotate(24)" letter-spacing="1.5">China</text>
<text transform="translate(74,368.5)" letter-spacing="1.2">Iran</text>
<text transform="translate(516,335) rotate(-45)" letter-spacing="1.5">India</text>
</g>
<text x="109" y="465" font-family='"Liberation Sans",Arial,Helvetica,sans-serif' font-size="29" font-weight="bold">Arabian Sea</text>
</g>
</g>
<text transform="translate(829.1,59.0)" font-family='"Liberation Sans",Arial,Helvetica,sans-serif' font-size="49" font-weight="bold" text-anchor="end">(c)</text>
<text transform="translate(830.1,459.0)" font-family='"Liberation Sans",Arial,Helvetica,sans-serif' font-size="50" font-weight="bold" text-anchor="end">Weekly</text>
<rect x="0" y="0" width="842.1" height="481.8" fill="none" stroke="#000" stroke-width="4.4"/>
</g>
<g transform="translate(333.0,1110.1)">
<clipPath id="c4"><rect x="0" y="0" width="842.1" height="481.8"/></clipPath>
<g clip-path="url(#c4)">
<rect x="0" y="0" width="842.1" height="481.8" fill="#0000ff"/>
<path fill="#3860ff" d="M-4.0,-4.0 846.0,-4.0 846.0,486.0 -4.0,486.0ZM444.0,93.7 440.0,94.7 436.0,96.4 432.0,99.1 428.0,103.3 425.2,108.0 423.7,112.0 423.0,116.0 423.0,122.0 424.5,128.0 426.4,132.0 429.2,136.0 433.6,140.0 438.0,142.6 442.0,144.0 448.0,144.8 452.0,144.4 456.0,143.3 460.0,141.3 464.0,138.0 467.1,134.0 469.2,130.0 471.0,124.0 471.4,118.0 471.1,114.0 470.0,109.8 468.0,105.4 465.6,102.0 462.0,98.5 458.0,95.9 454.0,94.4 450.0,93.6Z"/>
<path fill="#38acff" d="M-4.0,-4.0 846.0,-4.0 846.0,486.0 -4.0,486.0ZM284.0,421.9 280.0,424.0 275.1,428.0 272.1,432.0 270.1,436.0 268.8,440.0 268.2,446.0 268.9,452.0 270.2,456.0 272.3,460.0 276.0,464.8 280.0,468.1 286.0,471.2 290.0,472.3 296.0,472.7 302.0,471.7 306.0,470.2 310.0,467.8 314.0,464.1 317.0,460.0 318.8,456.0 320.0,451.5 320.3,446.0 319.3,440.0 317.8,436.0 315.4,432.0 312.1,428.0 308.0,424.7 304.0,422.5 300.0,421.0 294.0,420.1 288.0,420.7ZM428.0,53.8 418.0,57.5 410.0,62.3 402.0,69.6 395.8,78.0 391.1,88.0 388.6,98.0 387.9,108.0 388.3,114.0 389.4,120.0 392.8,130.0 398.4,140.0 406.0,148.9 415.0,156.0 420.0,158.9 426.0,161.5 436.0,164.2 446.0,165.0 452.0,164.5 456.0,163.6 464.0,160.2 470.0,155.8 474.9,150.0 479.2,142.0 485.2,124.0 488.6,110.0 489.4,104.0 489.4,98.0 487.9,88.0 484.9,80.0 480.0,71.8 474.0,65.2 466.0,59.2 458.0,55.4 448.0,52.8 438.0,52.3ZM492.0,195.9 488.0,197.3 486.0,198.6 484.0,200.4 481.6,204.0 480.0,210.0 480.1,214.0 481.0,218.0 484.0,224.3 487.1,228.0 490.0,230.3 496.0,232.9 502.0,232.9 506.0,231.3 508.0,229.9 510.0,227.9 512.0,225.0 513.2,222.0 514.1,218.0 514.2,214.0 513.5,210.0 510.7,204.0 506.0,199.1 500.0,196.2 496.0,195.5Z"/>
<path fill="#00ffff" d="M-4.0,-4.0 326.6,-4.0 322.7,4.0 319.5,12.0 315.0,28.0 313.6,36.0 312.5,46.0 312.3,54.0 312.6,64.0 313.5,72.0 315.3,82.0 317.2,90.0 320.5,100.0 327.5,116.0 332.0,124.0 337.2,132.0 346.5,144.0 356.1,154.0 367.9,164.0 380.0,172.1 390.0,177.4 400.8,182.0 413.3,186.0 440.0,193.0 446.0,195.3 450.7,198.0 454.0,200.6 458.0,205.2 471.4,226.0 480.0,236.4 486.0,241.7 490.0,244.2 494.0,245.8 498.0,246.5 504.0,245.7 508.0,243.7 510.0,242.3 512.3,240.0 515.1,236.0 518.4,228.0 519.7,218.0 519.4,212.0 518.3,206.0 516.5,200.0 514.0,194.4 506.1,180.0 504.8,176.0 504.6,172.0 505.6,168.0 508.0,164.0 522.9,148.0 526.8,142.0 529.7,136.0 532.4,128.0 535.3,116.0 539.7,94.0 542.2,78.0 543.2,66.0 543.5,56.0 542.9,44.0 541.6,34.0 539.5,24.0 536.6,14.0 532.8,4.0 528.9,-4.0 846.0,-4.0 846.0,486.0 345.6,486.0 347.1,478.0 347.5,470.0 346.9,462.0 345.7,456.0 343.1,448.0 340.3,442.0 336.6,436.0 332.1,430.0 324.6,422.0 318.0,416.1 312.0,411.5 304.0,406.6 296.0,403.2 290.0,401.5 284.0,400.5 276.0,400.1 268.0,400.7 262.0,401.9 254.9,404.0 248.0,407.0 242.0,410.4 234.6,416.0 230.4,420.0 225.3,426.0 221.3,432.0 217.3,440.0 215.1,446.0 213.0,454.0 212.0,462.0 211.9,470.0 212.6,478.0 214.4,486.0 -4.0,486.0Z"/>
<path fill="#96ffb4" d="M695.6,104.0 714.0,103.3 734.0,103.9 752.0,105.6 772.0,108.9 792.0,113.5 810.0,118.9 829.1,126.0 846.0,133.5 846.0,486.0 429.9,486.0 410.4,466.0 391.7,448.0 375.8,434.0 362.0,423.3 352.0,416.5 334.4,406.0 321.3,396.0 312.3,390.0 300.0,383.1 262.6,364.0 252.8,358.0 242.2,350.0 231.9,340.0 222.3,328.0 213.7,314.0 207.2,300.0 203.7,290.0 201.7,282.0 200.2,272.0 199.9,264.0 200.5,256.0 202.1,248.0 205.0,240.0 208.2,234.0 212.4,228.0 218.1,222.0 224.0,217.3 232.0,212.4 240.0,208.9 248.0,206.3 256.0,204.4 266.0,203.0 276.0,202.4 286.0,202.5 308.0,204.6 328.0,208.2 368.0,217.2 384.0,219.7 398.0,220.3 428.0,219.1 436.0,219.9 442.0,221.3 448.0,223.5 452.0,225.6 458.0,229.7 462.0,233.1 470.1,242.0 484.0,261.4 490.0,267.5 494.0,270.1 498.0,271.6 502.0,271.9 506.0,271.2 510.0,269.2 512.0,267.6 516.0,262.8 519.5,256.0 522.0,247.8 523.6,238.0 524.3,226.0 524.0,214.0 522.4,196.0 522.4,190.0 524.0,182.9 526.0,179.2 528.0,176.9 530.0,175.2 534.0,173.3 538.0,173.0 542.0,174.6 546.9,178.0 552.0,180.4 556.0,181.0 561.2,180.0 564.6,178.0 566.7,176.0 569.4,172.0 571.0,168.0 574.4,156.0 576.3,152.0 579.0,148.0 582.6,144.0 588.0,139.2 594.0,134.8 602.0,129.9 612.0,124.7 622.0,120.3 632.0,116.6 644.0,112.8 658.0,109.3 670.0,107.0 682.0,105.3Z"/>
<path fill="#d4ff69" d="M577.8,186.0 588.0,184.8 598.0,185.3 607.9,188.0 616.0,192.3 622.8,198.0 629.2,206.0 631.5,210.0 634.0,216.0 636.4,226.0 636.7,236.0 635.1,246.0 631.3,256.0 626.3,264.0 620.0,271.0 612.0,277.1 602.0,281.9 592.0,284.4 586.0,284.9 580.0,284.7 570.0,282.7 560.0,278.4 554.0,274.3 550.0,270.9 546.0,266.6 542.0,261.3 536.0,250.1 532.0,238.4 529.1,224.0 527.8,210.0 528.2,200.0 530.0,194.0 532.0,191.0 534.0,189.1 536.0,187.9 540.0,186.9 544.0,186.8 560.0,188.1 566.0,187.7ZM440.4,246.0 446.0,245.1 450.0,246.0 454.0,248.7 456.0,251.3 457.2,254.0 457.6,256.0 457.6,260.0 456.0,264.7 454.0,267.4 452.0,269.1 448.0,271.1 446.0,271.5 442.0,271.5 438.0,270.1 436.0,268.7 434.0,266.4 432.1,262.0 432.1,256.0 433.6,252.0 437.0,248.0ZM332.8,262.0 344.0,261.4 356.0,262.5 368.0,265.1 380.0,269.1 392.0,274.7 404.0,282.0 413.8,290.0 421.0,298.0 428.8,310.0 434.5,322.0 438.2,334.0 439.9,346.0 439.3,356.0 436.5,366.0 433.4,372.0 430.6,376.0 424.0,382.4 416.0,387.2 412.0,388.8 406.0,390.3 396.0,391.1 390.0,390.5 384.0,389.3 374.0,385.7 352.0,375.8 344.0,373.3 326.0,369.4 316.5,366.0 310.0,362.3 304.2,358.0 299.9,354.0 294.7,348.0 290.7,342.0 287.5,336.0 285.2,330.0 283.3,322.0 282.6,314.0 282.8,308.0 284.4,300.0 286.4,294.0 289.5,288.0 293.7,282.0 298.0,277.4 304.0,272.6 310.0,268.9 318.0,265.4 326.0,263.1Z"/>
<path fill="#ffff00" d="M542.0,192.0 546.0,191.4 554.0,191.6 566.0,192.8 574.0,194.2 579.8,196.0 584.1,198.0 588.0,200.5 591.9,204.0 595.0,208.0 597.9,214.0 599.3,220.0 599.5,226.0 598.3,232.0 596.8,236.0 593.2,242.0 589.5,246.0 584.0,250.0 578.0,252.6 572.0,253.9 566.0,254.1 560.0,253.1 554.0,250.9 548.0,247.2 542.0,241.5 538.0,235.8 534.0,227.0 531.7,218.0 531.1,210.0 531.6,204.0 533.8,198.0 537.5,194.0ZM342.1,288.0 350.0,287.2 358.0,287.8 366.0,289.5 374.0,292.6 382.0,297.2 388.0,301.8 394.0,307.7 398.8,314.0 402.4,320.0 405.6,328.0 407.2,336.0 407.2,344.0 406.0,350.0 403.4,356.0 399.0,362.0 394.0,366.2 390.0,368.4 386.0,370.0 382.0,371.0 376.0,371.7 366.0,371.1 354.0,368.7 340.0,364.4 330.2,360.0 321.8,354.0 318.0,350.0 315.0,346.0 311.2,338.0 309.6,332.0 309.1,328.0 309.2,322.0 309.8,318.0 312.4,310.0 314.6,306.0 317.5,302.0 324.0,295.8 332.0,291.1 338.0,288.9Z"/>
<path fill="#ffb700" d="M544.9,196.0 552.0,195.2 558.0,195.8 562.0,196.8 569.7,200.0 572.6,202.0 576.6,206.0 579.1,210.0 580.4,214.0 580.9,218.0 580.5,222.0 579.3,226.0 577.0,230.0 572.0,234.9 568.0,237.0 564.0,238.1 560.0,238.5 554.0,237.7 550.0,236.2 546.0,233.7 542.0,230.0 540.0,227.4 538.0,223.9 535.8,218.0 535.0,212.0 535.2,208.0 536.2,204.0 538.5,200.0 542.0,197.2ZM349.2,308.0 354.0,307.5 360.0,307.9 366.0,309.5 370.0,311.2 374.0,313.7 378.0,317.1 382.0,321.9 384.4,326.0 386.0,330.0 387.2,336.0 387.0,342.0 385.9,346.0 384.1,350.0 381.1,354.0 378.0,356.8 374.0,359.2 368.0,361.2 362.0,361.9 356.0,361.5 348.0,359.5 342.0,356.7 338.0,354.0 333.9,350.0 330.0,344.0 328.0,338.0 327.6,332.0 328.6,326.0 330.2,322.0 334.0,316.5 338.0,312.8 344.0,309.5Z"/>
<path fill="#ff6e00" d="M546.3,200.0 552.0,199.0 558.0,199.9 562.4,202.0 566.8,206.0 569.0,210.0 569.8,216.0 568.9,220.0 567.8,222.0 564.0,226.0 562.0,227.1 558.0,228.4 552.0,228.1 548.0,226.5 546.0,225.1 542.0,220.7 540.6,218.0 539.4,214.0 539.6,208.0 540.2,206.0 542.0,203.1 544.0,201.3ZM351.6,326.0 356.0,325.2 362.0,326.4 364.8,328.0 367.0,330.0 369.6,334.0 370.3,336.0 370.7,340.0 369.8,344.0 367.3,348.0 364.0,350.6 360.3,352.0 358.0,352.3 354.0,352.0 352.0,351.4 349.1,350.0 346.6,348.0 343.8,344.0 343.1,342.0 342.6,338.0 343.4,334.0 346.0,329.6 348.0,327.8Z"/>
<g transform="translate(0.0,0.0)">
<g fill="none" stroke="#000" stroke-linejoin="round" stroke-linecap="round">
<path stroke-width="2.15" d="M27.9,2.5 32.8,10.5 47.7,16.7 55.1,22.9 62.5,31.0 92.3,31.5 93.5,45.1 95.2,65.0"/>
<path stroke-width="2.15" d="M95.2,65.0 103.4,71.1 113.3,73.6 122.0,72.4 131.9,83.5 138.1,79.8 148.0,78.6 157.9,71.1 161.6,66.2 159.1,60.0 170.3,56.3 185.1,52.6 197.5,46.4 207.4,42.7 211.9,37.7 212.4,30.3 216.1,21.6 218.6,14.2 224.8,10.5 244.6,8.0 247.1,2.5"/>
<path stroke-width="2.15" d="M247.1,2.5 259.4,4.3 269.4,6.8 284.2,5.5 294.1,6.8 302.8,11.7 316.4,9.2 322.6,16.7 330.0,20.4 341.2,15.4 353.6,9.2 363.5,8.0 373.4,15.4 379.6,11.7 380.8,4.3 387.0,3.0"/>
<path stroke-width="2.15" d="M95.2,65.0 92.3,74.9 89.8,84.8 88.5,94.7 84.8,102.1 77.4,107.1 81.1,110.8 71.2,114.5 68.2,120.7 70.0,129.4 68.7,134.3 74.9,138.0 83.1,140.5 76.2,146.7 71.2,154.1 73.7,164.0 77.4,173.9 81.1,183.8 80.6,196.2 81.1,211.1 96.0,212.3 109.6,213.6 114.6,219.8 115.8,227.2 110.8,235.9 100.9,247.0 91.0,258.1 82.4,267.6"/>
<path stroke-width="2.15" d="M82.4,267.6 98.5,271.8 115.8,278.0 135.6,282.4 160.4,281.7 180.2,279.2 193.8,281.7 202.5,278.0 222.3,276.7 244.6,271.8 264.4,268.1 271.3,265.6 268.1,258.1 270.6,243.3 271.8,233.4 280.5,223.5 291.6,217.3 296.6,218.5 309.0,217.3 320.1,214.8 316.4,209.8 323.8,207.4 333.7,201.2 346.1,199.9 358.5,204.9 368.4,201.2 375.9,195.0"/>
<path stroke-width="2.15" d="M82.4,267.5 91.0,277.4 98.5,287.3 105.9,299.7 115.8,309.6 125.7,314.6 135.6,317.1 145.5,322.0 148.0,334.4 149.2,349.3 150.5,359.2 160.4,359.2 164.1,364.1 161.6,369.1 164.1,374.0 160.4,379.0 148.0,379.0 135.6,381.5 125.7,388.9 118.3,393.8 115.8,403.7 113.3,408.7 109.6,418.6 108.4,431.0 107.1,434.7"/>
<path stroke-width="2.15" d="M-13.0,414.9 1.9,416.1 11.8,418.6 19.2,422.3 31.6,419.8 44.0,422.3 56.3,423.6 66.3,421.1 71.2,426.0 83.6,428.5 96.0,433.5 107.1,434.7"/>
<path stroke-width="1.1" d="M107.1,434.7 115.8,433.5 131.9,429.8 148.0,428.5 160.4,428.0 172.8,428.5 175.2,424.8 185.1,423.6 192.6,421.1 197.5,424.8 209.9,428.5 222.3,424.8 234.7,423.6 247.1,422.3 259.4,421.1 264.4,416.1 276.8,414.9 280.5,421.1 284.2,433.5 283.0,440.9"/>
<path stroke-width="3.0" d="M283.0,440.9 296.6,440.9 304.0,448.3 309.0,455.8 307.7,463.2 311.5,470.6 316.4,476.8 326.3,478.1 333.7,476.8"/>
<path stroke-width="1.1" d="M284.2,439.7 299.1,423.6 306.5,406.2 301.6,388.9 299.1,369.1 300.3,354.2 306.5,341.8 318.9,334.4 333.7,324.5 343.7,318.3 363.5,317.1 372.1,317.1"/>
<path stroke-width="2.15" d="M551.5,209.5 557.0,223.1 544.6,235.5 534.7,245.4 535.9,252.9 524.8,260.3 516.1,266.5 512.4,277.6 507.4,287.5 501.2,296.2 490.1,302.4 479.0,309.8 472.8,319.7 465.3,330.9 460.4,335.8 448.0,337.1 435.6,340.8 428.2,342.0 422.0,337.1 415.8,330.9 403.4,338.3 393.5,349.5 383.6,359.4 386.1,369.3 396.0,374.2 403.4,379.2 404.6,389.1 400.9,399.0 403.4,406.4 410.8,411.4 422.0,412.6 423.2,423.8 428.2,433.7 433.1,443.6 436.8,456.0 430.7,458.4 425.7,462.2 410.8,460.9 400.9,464.6 386.1,463.4 371.2,460.9 356.3,462.2 353.9,470.8 341.5,472.1 334.1,477.0"/>
<path stroke-width="1.1" d="M398.5,249.9 398.5,260.8 393.5,267.7 384.8,275.2 383.6,282.6 389.8,290.0 383.6,299.9 378.6,309.8 372.4,317.3 393.5,324.7 415.8,330.9"/>
<path stroke-width="2.15" d="M373.2,193.2 372.5,184.3 373.9,175.4 377.7,168.0 379.1,159.1 382.1,154.6 391.0,152.4 399.9,148.7 408.9,145.7 408.9,139.7 404.4,133.8 399.9,129.3 394.0,124.9 394.7,121.2 404.4,121.9 416.3,124.1 426.7,123.4 434.1,118.9 436.4,113.0 434.1,107.1 437.1,99.6 444.5,92.2 452.0,84.8 455.7,77.3 454.9,69.9"/>
<path stroke-width="2.15" d="M454.3,73.9 450.6,64.6 445.0,55.3 440.4,50.7 448.7,44.2 459.9,36.8 471.0,27.5 482.2,23.8 497.0,21.9 511.9,21.0 524.9,22.8 534.2,23.8 543.5,20.1 552.8,15.4 554.6,12.6"/>
<path stroke-width="1.1" d="M373.2,193.2 382.1,191.8 391.0,189.5 394.0,194.7 396.2,203.6 399.9,211.1 405.9,210.3 408.9,218.5 407.4,228.9 402.9,237.8 398.5,249.9"/>
<path stroke-width="1.1" d="M408.9,218.5 416.3,215.5 425.2,214.1 429.7,203.6 434.1,193.2 437.1,184.3 443.0,176.9 438.6,171.0 437.1,162.0 441.6,156.1 447.5,154.6 450.5,150.9 456.4,153.1 457.9,145.7 465.3,139.7 471.3,132.3 478.7,124.9 484.7,121.9 492.1,126.4 498.0,132.3 502.5,135.3 512.9,129.3 518.8,124.9 524.8,114.5 527.0,102.6"/>
<path stroke-width="2.15" d="M448.7,1.5 447.8,14.5 451.5,25.6 458.0,29.3 465.5,26.6 474.7,20.1 485.9,16.3 497.0,10.8 508.2,5.2 519.3,3.3 524.9,7.0 530.5,9.8 545.3,7.0 560.2,6.1 567.6,8.9 562.1,11.7 554.6,12.6"/>
<path stroke-width="2.15" d="M367.0,7.0 376.3,10.8 378.1,5.2 380.0,1.5"/>
<path stroke-width="2.15" d="M554.6,12.6 563.9,16.3 571.3,15.4 580.6,20.1 589.9,23.8 599.2,29.3 604.8,36.8 608.5,44.2 606.6,49.8 614.1,55.3 623.4,57.2 630.8,62.8 640.1,66.5 651.2,70.2 662.4,72.1 665.5,72.4"/>
<path stroke-width="1.1" d="M665.5,72.4 651.8,82.3 639.4,89.7 627.1,97.2 614.7,102.1 602.3,104.6 589.9,105.8 580.0,102.1 570.1,100.9 562.7,94.7 557.7,88.5 552.8,84.8"/>
<path stroke-width="1.1" d="M526.8,23.8 515.6,29.3 504.5,29.3 500.8,35.8 487.8,42.3 485.9,51.6 487.8,57.2 497.0,59.1 508.2,60.9 515.6,68.4 524.9,70.2 528.6,75.8 534.2,81.4 543.5,86.9 552.8,85.1 558.3,92.5 563.9,96.2"/>
<path stroke-width="1.1" d="M534.2,81.4 528.6,92.5 524.9,99.9 519.3,105.5 515.6,114.8 519.3,125.9 523.0,137.1 524.9,150.1 534.2,155.7 543.5,159.4 552.8,163.1 560.2,166.8"/>
<path stroke-width="1.1" d="M539.8,88.8 549.1,94.4 554.6,99.9 550.9,107.4 541.6,114.8 536.1,122.2 539.8,133.4 537.9,142.7 543.5,151.9 552.8,161.2"/>
<path stroke-width="2.15" d="M560.2,166.8 571.3,174.2 582.5,179.8 595.5,174.2 604.8,165.0 599.2,159.4 614.1,155.7 623.4,150.1 632.7,153.8 641.9,159.4 653.1,163.1 667.0,159.4"/>
<path stroke-width="2.15" d="M614.7,156.6 624.6,150.4 634.5,151.6 641.9,159.1 651.8,162.8 661.7,161.6 667.9,157.8 671.6,164.0 676.6,170.2 684.0,169.0"/>
<path stroke-width="2.15" d="M582.5,179.8 571.3,191.0 560.2,200.2 556.5,209.5 560.2,218.8"/>
</g>
<circle cx="452.4" cy="122.7" r="4.6" fill="#000"/>
<circle cx="506.2" cy="136.8" r="4.6" fill="#000"/>
<circle cx="555.7" cy="175.2" r="4.6" fill="#000"/>
<circle cx="551.5" cy="209.8" r="4.6" fill="#000"/>
<circle cx="501.5" cy="214.8" r="4.6" fill="#000"/>
<circle cx="447.5" cy="255.2" r="4.6" fill="#000"/>
<circle cx="356.0" cy="341.3" r="4.6" fill="#000"/>
<circle cx="341.7" cy="393.1" r="4.6" fill="#000"/>
<circle cx="298.6" cy="440.4" r="4.6" fill="#000"/>
<circle cx="131.9" cy="428.5" r="4.6" fill="#000"/>
<g font-family='"Liberation Sans",Arial,Helvetica,sans-serif' font-size="24" font-weight="bold" fill="#000">
<text x="459.6" y="110.4">0.17</text>
<text x="510.4" y="125.2">0.02</text>
<text x="562.6" y="164.4">-0.01</text>
<text x="556.5" y="231.1">-0.32</text>
<text x="508.9" y="202.7">0.14</text>
<text x="454.9" y="242.2">-0.1</text>
<text x="363.9" y="329.2">-0.25</text>
<text x="348.6" y="380.4">-0.04</text>
<text x="304.9" y="426.4">0.1</text>
<text x="138.8" y="415.8">0.01</text>
</g>
<g font-family='"Liberation Serif","Times New Roman",Times,serif' font-size="26" font-weight="bold" fill="#000">
<text transform="translate(294.5,180.5) rotate(-42)" letter-spacing="2.1">Afghanistan</text>
<text transform="translate(600,12) rotate(24)" letter-spacing="1.5">China</text>
<text transform="translate(74,368.5)" letter-spacing="1.2">Iran</text>
<text transform="translate(516,335) rotate(-45)" letter-spacing="1.5">India</text>
</g>
<text x="94" y="465" font-family='"Liberation Sans",Arial,Helvetica,sans-serif' font-size="29" font-weight="bold">Arabian Sea</text>
</g>
</g>
<text transform="translate(829.1,59.0)" font-family='"Liberation Sans",Arial,Helvetica,sans-serif' font-size="49" font-weight="bold" text-anchor="end">(e)</text>
<text transform="translate(822.9,457.7)" font-family='"Liberation Sans",Arial,Helvetica,sans-serif' font-size="50" font-weight="bold" text-anchor="end">Daily</text>
<rect x="0" y="0" width="842.1" height="481.8" fill="none" stroke="#000" stroke-width="4.4"/>
</g>
<g transform="translate(1295.2,592.2)">
<clipPath id="c5"><rect x="0" y="0" width="842.1" height="481.8"/></clipPath>
<g clip-path="url(#c5)">
<rect x="0" y="0" width="842.1" height="481.8" fill="#2a8fc6"/>
<path fill="#69a3b2" d="M-4.0,-4.0 846.0,-4.0 846.0,486.0 -4.0,486.0ZM492.0,195.9 488.2,198.0 485.9,200.0 484.0,202.3 482.0,206.0 480.8,212.0 481.2,216.0 482.3,220.0 484.4,224.0 487.5,228.0 490.0,230.2 494.0,232.6 498.0,233.9 502.0,234.3 508.0,232.8 512.0,230.1 513.8,228.0 516.9,222.0 517.8,218.0 517.9,214.0 517.4,210.0 516.1,206.0 514.0,202.3 512.0,199.9 509.7,198.0 506.0,195.9 500.0,194.6 496.0,194.8Z"/>
<path fill="#93bea0" d="M-4.0,-4.0 846.0,-4.0 846.0,486.0 -4.0,486.0ZM492.0,181.8 486.0,182.9 480.0,185.1 474.0,188.8 470.0,192.8 466.8,198.0 465.4,202.0 464.9,208.0 465.9,214.0 468.1,220.0 472.6,228.0 480.0,237.9 486.0,244.2 492.0,248.9 498.0,251.9 504.0,253.3 510.0,253.0 514.0,251.6 519.0,248.0 522.2,244.0 524.9,238.0 526.3,232.0 526.8,224.0 526.2,214.0 524.8,206.0 523.0,200.0 521.1,196.0 518.0,191.5 514.0,187.6 510.0,185.0 504.0,182.7 498.0,181.7Z"/>
<path fill="#c0d48c" d="M-4.0,-4.0 846.0,-4.0 846.0,486.0 -4.0,486.0ZM484.0,172.0 476.0,173.3 468.0,176.1 460.8,180.0 454.0,185.8 450.8,190.0 448.4,196.0 448.0,202.0 449.4,208.0 451.2,212.0 455.0,218.0 470.8,238.0 488.0,263.6 494.0,270.3 500.0,275.0 504.0,277.2 508.0,278.7 512.0,279.5 516.0,279.7 520.0,279.2 524.0,278.1 528.0,276.0 530.6,274.0 532.6,272.0 535.4,268.0 537.9,262.0 539.0,254.0 538.7,248.0 537.8,242.0 532.0,217.5 528.8,198.0 526.8,192.0 524.0,186.5 520.0,181.4 516.0,177.9 512.0,175.6 506.0,173.5 500.0,172.4 492.0,171.7Z"/>
<path fill="#e4ec76" d="M-4.0,-4.0 846.0,-4.0 846.0,486.0 -4.0,486.0ZM466.0,161.7 454.0,164.8 437.6,170.0 427.9,174.0 422.0,177.4 416.5,182.0 413.5,186.0 411.3,192.0 411.3,198.0 413.5,204.0 418.5,210.0 427.5,216.0 444.0,223.9 452.0,228.6 460.0,235.0 464.0,239.5 467.2,244.0 471.2,252.0 474.1,262.0 475.5,272.0 476.8,292.0 478.2,300.0 482.0,309.9 487.1,318.0 492.0,323.7 498.0,329.4 504.0,334.1 512.0,339.3 520.0,343.5 528.0,346.8 536.0,349.4 544.0,351.2 552.0,352.4 560.0,352.8 568.0,352.5 576.0,351.3 584.0,349.3 590.0,347.1 596.3,344.0 602.4,340.0 609.2,334.0 614.0,327.9 618.1,320.0 620.2,312.0 620.6,304.0 619.2,296.0 616.0,288.0 612.2,282.0 605.0,274.0 597.9,268.0 589.1,262.0 568.0,249.6 558.0,243.1 550.0,236.6 544.0,230.1 539.0,222.0 536.1,214.0 535.0,206.0 534.6,194.0 532.6,186.0 527.8,176.0 525.1,172.0 522.0,168.9 518.0,166.6 514.0,165.3 486.0,160.9 476.0,160.3Z"/>
<path fill="#fde358" d="M-4.0,-4.0 81.5,-4.0 112.0,23.4 142.0,51.5 174.0,82.5 242.1,150.0 261.1,168.0 276.7,182.0 298.4,200.0 322.6,218.0 346.7,234.0 370.0,247.7 378.0,251.6 386.0,254.8 392.0,256.0 396.0,255.9 400.0,254.8 404.0,252.3 415.4,242.0 421.2,238.0 426.0,235.6 431.0,234.0 438.0,233.1 446.0,234.0 452.0,236.4 458.0,240.8 462.2,246.0 464.1,250.0 465.3,254.0 466.0,260.0 464.7,268.0 462.0,274.5 458.0,280.2 452.0,286.1 441.5,294.0 437.8,298.0 436.7,300.0 435.7,304.0 435.7,308.0 436.9,314.0 439.5,322.0 442.8,330.0 454.0,353.2 505.0,448.0 524.9,486.0 -4.0,486.0ZM438.6,26.0 448.0,24.8 458.0,24.6 468.0,25.6 478.0,27.7 488.0,30.9 498.0,35.1 508.0,40.4 518.0,46.7 532.0,57.4 544.0,69.1 554.3,82.0 568.0,103.8 572.0,109.3 578.2,116.0 592.0,129.0 598.0,136.3 603.6,146.0 606.9,156.0 608.2,166.0 608.0,172.0 607.2,178.0 603.7,190.0 601.0,196.0 596.7,204.0 592.8,210.0 588.1,216.0 584.2,220.0 580.0,223.3 575.5,226.0 570.0,228.1 564.0,229.1 560.0,229.0 556.0,228.3 552.0,226.9 548.0,224.5 544.0,220.7 542.0,217.9 540.2,214.0 539.0,208.0 539.4,202.0 541.5,192.0 541.2,188.0 536.5,174.0 533.2,160.0 532.0,157.8 530.0,156.0 526.0,155.0 510.0,156.1 502.0,155.5 494.0,153.4 482.0,148.6 476.0,147.3 470.0,147.6 456.0,150.7 448.0,151.6 440.0,151.5 432.0,150.4 422.0,147.3 411.9,142.0 406.4,138.0 401.9,134.0 394.9,126.0 391.0,120.0 387.2,112.0 384.6,104.0 383.2,96.0 382.8,88.0 383.5,80.0 385.3,72.0 388.0,64.7 391.5,58.0 396.0,51.4 402.0,44.7 408.0,39.5 414.0,35.4 422.0,31.2 430.0,28.2Z"/>
<path fill="#fcb045" d="M447.6,96.0 452.0,95.6 456.0,96.1 460.0,97.3 464.0,99.4 467.2,102.0 470.5,106.0 472.6,110.0 473.6,114.0 473.8,118.0 473.0,122.0 471.2,126.0 468.2,130.0 462.0,134.9 458.0,136.7 454.0,137.6 450.0,137.8 446.0,137.2 442.4,136.0 438.9,134.0 436.0,131.6 433.2,128.0 431.2,124.0 430.2,120.0 430.0,116.0 430.6,112.0 432.0,108.0 434.0,104.5 436.1,102.0 440.0,98.9 444.0,97.0ZM501.4,114.0 504.0,113.5 508.0,113.6 514.0,115.4 517.8,118.0 519.8,120.0 522.0,123.5 523.0,126.0 523.7,132.0 522.2,138.0 519.6,142.0 517.5,144.0 512.0,146.9 508.0,147.8 504.0,147.6 498.0,145.4 496.0,144.0 492.3,140.0 489.5,134.0 488.8,128.0 489.6,124.0 490.5,122.0 493.7,118.0 496.0,116.2ZM553.7,160.0 558.0,159.1 562.0,159.6 564.0,160.4 568.0,163.3 570.9,168.0 571.7,174.0 570.0,179.8 568.0,182.8 566.0,184.7 562.0,187.1 558.0,187.4 556.0,186.8 552.0,184.3 548.0,180.0 546.2,176.0 545.8,170.0 547.1,166.0 550.0,162.3ZM555.5,194.0 558.0,193.7 560.0,194.2 562.0,195.2 564.0,197.0 566.9,202.0 567.6,208.0 566.6,212.0 563.9,216.0 560.0,218.6 558.0,219.3 554.0,219.5 550.0,218.4 546.0,215.3 544.0,211.9 543.3,208.0 543.4,206.0 544.7,202.0 548.0,197.8 552.0,195.1ZM437.9,244.0 442.0,242.3 446.0,242.0 448.0,242.3 452.2,244.0 456.3,248.0 458.2,252.0 458.4,258.0 457.9,260.0 456.0,263.6 452.0,267.3 448.0,269.0 442.0,269.1 438.8,268.0 436.0,266.2 432.6,262.0 431.3,258.0 431.7,252.0 433.6,248.0ZM309.1,280.0 326.0,278.7 340.0,279.5 354.0,282.3 362.0,284.9 368.0,287.4 380.0,294.2 390.0,302.5 395.2,308.0 399.8,314.0 406.8,326.0 410.2,334.0 413.0,342.0 417.2,360.0 420.1,382.0 421.5,406.0 421.0,426.0 418.7,446.0 414.8,466.0 409.0,486.0 -4.0,486.0 -4.0,374.8 5.4,362.0 14.4,352.0 25.5,342.0 36.4,334.0 49.9,326.0 63.0,320.0 78.0,314.8 92.0,311.5 108.0,309.1 124.0,308.2 140.0,308.3 182.0,310.1 194.0,309.8 206.0,308.5 218.0,306.2 230.0,303.1 272.0,289.1 286.0,284.9 297.8,282.0Z"/>
<path fill="#f98735" d="M549.5,206.0 552.0,204.3 554.0,204.5 556.0,206.1 556.5,208.0 556.1,210.0 554.0,211.7 552.0,212.0 550.0,210.8 548.9,208.0ZM338.6,304.0 344.0,303.1 350.0,302.8 356.0,303.4 362.0,304.8 368.0,307.2 372.9,310.0 378.0,314.0 381.9,318.0 385.0,322.0 388.4,328.0 390.0,332.0 391.7,338.0 392.5,344.0 392.5,350.0 391.8,356.0 390.3,362.0 386.0,373.0 379.2,386.0 372.0,401.3 368.0,408.2 364.0,413.5 359.5,418.0 354.0,422.3 344.0,429.0 340.0,432.6 336.4,438.0 329.9,452.0 324.0,460.4 320.0,464.3 316.0,467.2 308.0,471.0 304.0,472.0 298.0,472.6 292.0,472.1 288.0,471.2 282.0,468.6 276.0,464.4 271.8,460.0 268.1,454.0 265.9,448.0 264.8,442.0 265.1,434.0 266.5,428.0 270.0,420.1 274.0,414.4 278.0,410.1 291.4,398.0 295.2,392.0 297.1,386.0 298.2,380.0 300.6,354.0 302.2,344.0 305.2,334.0 309.2,326.0 315.1,318.0 321.7,312.0 330.0,307.0Z"/>
<path fill="#f05a24" d="M347.7,316.0 352.0,315.4 358.0,315.7 362.0,316.7 366.0,318.4 370.0,321.0 373.2,324.0 376.2,328.0 378.2,332.0 379.4,336.0 379.9,342.0 379.5,346.0 378.3,350.0 376.3,354.0 374.0,356.9 370.0,360.3 366.0,362.2 362.0,363.3 356.0,363.6 352.0,363.1 346.0,361.4 340.0,358.5 336.5,356.0 332.8,352.0 330.5,348.0 329.2,344.0 328.7,338.0 329.9,332.0 331.6,328.0 334.4,324.0 338.8,320.0 342.2,318.0Z"/>
<path fill="#e6141a" d="M355.7,326.0 360.0,326.7 362.7,328.0 365.3,330.0 368.2,334.0 369.4,338.0 369.3,342.0 368.8,344.0 366.5,348.0 364.4,350.0 362.0,351.4 358.0,352.5 352.1,352.0 348.0,350.0 344.1,346.0 343.1,344.0 342.2,340.0 342.5,336.0 343.2,334.0 345.9,330.0 350.0,327.2Z"/>
<g transform="translate(0.2,-1.6)">
<g fill="none" stroke="#000" stroke-linejoin="round" stroke-linecap="round">
<path stroke-width="2.15" d="M27.9,2.5 32.8,10.5 47.7,16.7 55.1,22.9 62.5,31.0 92.3,31.5 93.5,45.1 95.2,65.0"/>
<path stroke-width="2.15" d="M95.2,65.0 103.4,71.1 113.3,73.6 122.0,72.4 131.9,83.5 138.1,79.8 148.0,78.6 157.9,71.1 161.6,66.2 159.1,60.0 170.3,56.3 185.1,52.6 197.5,46.4 207.4,42.7 211.9,37.7 212.4,30.3 216.1,21.6 218.6,14.2 224.8,10.5 244.6,8.0 247.1,2.5"/>
<path stroke-width="2.15" d="M247.1,2.5 259.4,4.3 269.4,6.8 284.2,5.5 294.1,6.8 302.8,11.7 316.4,9.2 322.6,16.7 330.0,20.4 341.2,15.4 353.6,9.2 363.5,8.0 373.4,15.4 379.6,11.7 380.8,4.3 387.0,3.0"/>
<path stroke-width="2.15" d="M95.2,65.0 92.3,74.9 89.8,84.8 88.5,94.7 84.8,102.1 77.4,107.1 81.1,110.8 71.2,114.5 68.2,120.7 70.0,129.4 68.7,134.3 74.9,138.0 83.1,140.5 76.2,146.7 71.2,154.1 73.7,164.0 77.4,173.9 81.1,183.8 80.6,196.2 81.1,211.1 96.0,212.3 109.6,213.6 114.6,219.8 115.8,227.2 110.8,235.9 100.9,247.0 91.0,258.1 82.4,267.6"/>
<path stroke-width="2.15" d="M82.4,267.6 98.5,271.8 115.8,278.0 135.6,282.4 160.4,281.7 180.2,279.2 193.8,281.7 202.5,278.0 222.3,276.7 244.6,271.8 264.4,268.1 271.3,265.6 268.1,258.1 270.6,243.3 271.8,233.4 280.5,223.5 291.6,217.3 296.6,218.5 309.0,217.3 320.1,214.8 316.4,209.8 323.8,207.4 333.7,201.2 346.1,199.9 358.5,204.9 368.4,201.2 375.9,195.0"/>
<path stroke-width="2.15" d="M82.4,267.5 91.0,277.4 98.5,287.3 105.9,299.7 115.8,309.6 125.7,314.6 135.6,317.1 145.5,322.0 148.0,334.4 149.2,349.3 150.5,359.2 160.4,359.2 164.1,364.1 161.6,369.1 164.1,374.0 160.4,379.0 148.0,379.0 135.6,381.5 125.7,388.9 118.3,393.8 115.8,403.7 113.3,408.7 109.6,418.6 108.4,431.0 107.1,434.7"/>
<path stroke-width="2.15" d="M-13.0,414.9 1.9,416.1 11.8,418.6 19.2,422.3 31.6,419.8 44.0,422.3 56.3,423.6 66.3,421.1 71.2,426.0 83.6,428.5 96.0,433.5 107.1,434.7"/>
<path stroke-width="1.1" d="M107.1,434.7 115.8,433.5 131.9,429.8 148.0,428.5 160.4,428.0 172.8,428.5 175.2,424.8 185.1,423.6 192.6,421.1 197.5,424.8 209.9,428.5 222.3,424.8 234.7,423.6 247.1,422.3 259.4,421.1 264.4,416.1 276.8,414.9 280.5,421.1 284.2,433.5 283.0,440.9"/>
<path stroke-width="3.0" d="M283.0,440.9 296.6,440.9 304.0,448.3 309.0,455.8 307.7,463.2 311.5,470.6 316.4,476.8 326.3,478.1 333.7,476.8"/>
<path stroke-width="1.1" d="M284.2,439.7 299.1,423.6 306.5,406.2 301.6,388.9 299.1,369.1 300.3,354.2 306.5,341.8 318.9,334.4 333.7,324.5 343.7,318.3 363.5,317.1 372.1,317.1"/>
<path stroke-width="2.15" d="M551.5,209.5 557.0,223.1 544.6,235.5 534.7,245.4 535.9,252.9 524.8,260.3 516.1,266.5 512.4,277.6 507.4,287.5 501.2,296.2 490.1,302.4 479.0,309.8 472.8,319.7 465.3,330.9 460.4,335.8 448.0,337.1 435.6,340.8 428.2,342.0 422.0,337.1 415.8,330.9 403.4,338.3 393.5,349.5 383.6,359.4 386.1,369.3 396.0,374.2 403.4,379.2 404.6,389.1 400.9,399.0 403.4,406.4 410.8,411.4 422.0,412.6 423.2,423.8 428.2,433.7 433.1,443.6 436.8,456.0 430.7,458.4 425.7,462.2 410.8,460.9 400.9,464.6 386.1,463.4 371.2,460.9 356.3,462.2 353.9,470.8 341.5,472.1 334.1,477.0"/>
<path stroke-width="1.1" d="M398.5,249.9 398.5,260.8 393.5,267.7 384.8,275.2 383.6,282.6 389.8,290.0 383.6,299.9 378.6,309.8 372.4,317.3 393.5,324.7 415.8,330.9"/>
<path stroke-width="2.15" d="M373.2,193.2 372.5,184.3 373.9,175.4 377.7,168.0 379.1,159.1 382.1,154.6 391.0,152.4 399.9,148.7 408.9,145.7 408.9,139.7 404.4,133.8 399.9,129.3 394.0,124.9 394.7,121.2 404.4,121.9 416.3,124.1 426.7,123.4 434.1,118.9 436.4,113.0 434.1,107.1 437.1,99.6 444.5,92.2 452.0,84.8 455.7,77.3 454.9,69.9"/>
<path stroke-width="2.15" d="M454.3,73.9 450.6,64.6 445.0,55.3 440.4,50.7 448.7,44.2 459.9,36.8 471.0,27.5 482.2,23.8 497.0,21.9 511.9,21.0 524.9,22.8 534.2,23.8 543.5,20.1 552.8,15.4 554.6,12.6"/>
<path stroke-width="1.1" d="M373.2,193.2 382.1,191.8 391.0,189.5 394.0,194.7 396.2,203.6 399.9,211.1 405.9,210.3 408.9,218.5 407.4,228.9 402.9,237.8 398.5,249.9"/>
<path stroke-width="1.1" d="M408.9,218.5 416.3,215.5 425.2,214.1 429.7,203.6 434.1,193.2 437.1,184.3 443.0,176.9 438.6,171.0 437.1,162.0 441.6,156.1 447.5,154.6 450.5,150.9 456.4,153.1 457.9,145.7 465.3,139.7 471.3,132.3 478.7,124.9 484.7,121.9 492.1,126.4 498.0,132.3 502.5,135.3 512.9,129.3 518.8,124.9 524.8,114.5 527.0,102.6"/>
<path stroke-width="2.15" d="M448.7,1.5 447.8,14.5 451.5,25.6 458.0,29.3 465.5,26.6 474.7,20.1 485.9,16.3 497.0,10.8 508.2,5.2 519.3,3.3 524.9,7.0 530.5,9.8 545.3,7.0 560.2,6.1 567.6,8.9 562.1,11.7 554.6,12.6"/>
<path stroke-width="2.15" d="M367.0,7.0 376.3,10.8 378.1,5.2 380.0,1.5"/>
<path stroke-width="2.15" d="M554.6,12.6 563.9,16.3 571.3,15.4 580.6,20.1 589.9,23.8 599.2,29.3 604.8,36.8 608.5,44.2 606.6,49.8 614.1,55.3 623.4,57.2 630.8,62.8 640.1,66.5 651.2,70.2 662.4,72.1 665.5,72.4"/>
<path stroke-width="1.1" d="M665.5,72.4 651.8,82.3 639.4,89.7 627.1,97.2 614.7,102.1 602.3,104.6 589.9,105.8 580.0,102.1 570.1,100.9 562.7,94.7 557.7,88.5 552.8,84.8"/>
<path stroke-width="1.1" d="M526.8,23.8 515.6,29.3 504.5,29.3 500.8,35.8 487.8,42.3 485.9,51.6 487.8,57.2 497.0,59.1 508.2,60.9 515.6,68.4 524.9,70.2 528.6,75.8 534.2,81.4 543.5,86.9 552.8,85.1 558.3,92.5 563.9,96.2"/>
<path stroke-width="1.1" d="M534.2,81.4 528.6,92.5 524.9,99.9 519.3,105.5 515.6,114.8 519.3,125.9 523.0,137.1 524.9,150.1 534.2,155.7 543.5,159.4 552.8,163.1 560.2,166.8"/>
<path stroke-width="1.1" d="M539.8,88.8 549.1,94.4 554.6,99.9 550.9,107.4 541.6,114.8 536.1,122.2 539.8,133.4 537.9,142.7 543.5,151.9 552.8,161.2"/>
<path stroke-width="2.15" d="M560.2,166.8 571.3,174.2 582.5,179.8 595.5,174.2 604.8,165.0 599.2,159.4 614.1,155.7 623.4,150.1 632.7,153.8 641.9,159.4 653.1,163.1 667.0,159.4"/>
<path stroke-width="2.15" d="M614.7,156.6 624.6,150.4 634.5,151.6 641.9,159.1 651.8,162.8 661.7,161.6 667.9,157.8 671.6,164.0 676.6,170.2 684.0,169.0"/>
<path stroke-width="2.15" d="M582.5,179.8 571.3,191.0 560.2,200.2 556.5,209.5 560.2,218.8"/>
</g>
<circle cx="452.4" cy="122.7" r="4.6" fill="#000"/>
<circle cx="506.2" cy="136.8" r="4.6" fill="#000"/>
<circle cx="555.7" cy="175.2" r="4.6" fill="#000"/>
<circle cx="551.5" cy="209.8" r="4.6" fill="#000"/>
<circle cx="501.5" cy="214.8" r="4.6" fill="#000"/>
<circle cx="447.5" cy="255.2" r="4.6" fill="#000"/>
<circle cx="356.0" cy="341.3" r="4.6" fill="#000"/>
<circle cx="341.7" cy="393.1" r="4.6" fill="#000"/>
<circle cx="298.6" cy="440.4" r="4.6" fill="#000"/>
<circle cx="131.9" cy="428.5" r="4.6" fill="#000"/>
<g font-family='"Liberation Sans",Arial,Helvetica,sans-serif' font-size="24" font-weight="bold" fill="#000">
<text x="459.6" y="110.4">0.001</text>
<text x="558.7" y="164.3" text-anchor="end">0.000</text>
<text x="562.6" y="164.4">0.000</text>
<text x="556.5" y="231.1">-0.002</text>
<text x="508.9" y="202.7">0.082</text>
<text x="454.9" y="242.2">0.000</text>
<text x="363.9" y="329.2">-0.003</text>
<text x="348.6" y="380.4">0.000</text>
<text x="304.9" y="426.4">0.000</text>
<text x="138.8" y="415.8">0.001</text>
</g>
<g font-family='"Liberation Serif","Times New Roman",Times,serif' font-size="26" font-weight="bold" fill="#000">
<text transform="translate(288.5,181) rotate(-42)" letter-spacing="2.1">Afghanistan</text>
<text transform="translate(611,16) rotate(24)" letter-spacing="1.5">China</text>
<text transform="translate(59.5,363.5)" letter-spacing="1.2">Iran</text>
<text transform="translate(516,337) rotate(-45)" letter-spacing="1.5">India</text>
</g>
<text x="107" y="461" font-family='"Liberation Sans",Arial,Helvetica,sans-serif' font-size="29" font-weight="bold">Arabian Sea</text>
</g>
</g>
<text transform="translate(829.1,59.0)" font-family='"Liberation Sans",Arial,Helvetica,sans-serif' font-size="49" font-weight="bold" text-anchor="end">(d)</text>
<text transform="translate(830.1,459.0)" font-family='"Liberation Sans",Arial,Helvetica,sans-serif' font-size="50" font-weight="bold" text-anchor="end">Weekly</text>
<rect x="0" y="0" width="842.1" height="481.8" fill="none" stroke="#000" stroke-width="4.4"/>
</g>
<g transform="translate(1295.2,1110.1)">
<clipPath id="c6"><rect x="0" y="0" width="842.1" height="481.8"/></clipPath>
<g clip-path="url(#c6)">
<rect x="0" y="0" width="842.1" height="481.8" fill="#2a8fc6"/>
<path fill="#69a3b2" d="M-4.0,-4.0 846.0,-4.0 846.0,486.0 -4.0,486.0ZM496.0,201.7 492.0,204.2 489.3,208.0 488.2,212.0 488.4,216.0 489.0,218.0 492.0,222.7 496.0,225.5 500.0,226.5 504.0,226.2 508.0,224.2 510.0,222.3 511.4,220.0 512.7,216.0 512.3,210.0 510.0,205.7 506.0,202.3 502.0,201.1 498.0,201.2Z"/>
<path fill="#93bea0" d="M-4.0,-4.0 846.0,-4.0 846.0,486.0 -4.0,486.0ZM496.0,197.8 491.0,200.0 486.9,204.0 485.7,206.0 484.3,210.0 484.4,216.0 486.7,222.0 489.8,226.0 492.0,227.8 498.0,230.4 504.0,230.4 508.0,228.8 510.0,227.4 512.0,225.4 514.0,222.1 515.6,216.0 515.1,210.0 514.0,206.8 512.4,204.0 508.0,199.8 506.0,198.8 502.0,197.6Z"/>
<path fill="#c0d48c" d="M-4.0,-4.0 846.0,-4.0 846.0,486.0 -4.0,486.0ZM498.0,191.9 494.0,192.3 490.0,193.6 486.0,195.8 483.3,198.0 480.2,202.0 478.5,206.0 477.8,210.0 477.8,214.0 479.3,220.0 481.2,224.0 484.0,228.1 487.8,232.0 492.0,235.0 496.0,236.7 500.0,237.5 504.0,237.4 510.0,235.3 514.0,232.0 516.0,229.3 517.7,226.0 518.9,222.0 519.6,218.0 519.4,212.0 518.6,208.0 517.1,204.0 514.7,200.0 512.0,197.1 506.0,193.4 502.0,192.2Z"/>
<path fill="#e4ec76" d="M-4.0,-4.0 846.0,-4.0 846.0,486.0 -4.0,486.0ZM490.0,187.6 486.0,188.9 480.5,192.0 476.3,196.0 474.0,199.5 472.2,204.0 471.5,208.0 471.6,212.0 472.9,218.0 475.4,224.0 479.2,230.0 484.0,235.5 488.0,239.0 494.0,242.7 498.0,244.1 504.0,244.7 508.0,244.0 512.0,242.3 516.0,239.1 519.5,234.0 521.2,230.0 522.6,224.0 523.0,218.0 522.6,212.0 521.4,206.0 519.0,200.0 516.4,196.0 514.0,193.3 510.0,190.3 506.0,188.3 500.0,186.9 494.0,186.9Z"/>
<path fill="#fde358" d="M-4.0,-4.0 846.0,-4.0 846.0,486.0 -4.0,486.0ZM488.0,181.8 482.0,183.5 476.8,186.0 471.5,190.0 468.1,194.0 465.9,198.0 464.3,204.0 464.4,210.0 466.0,216.0 469.7,224.0 474.9,232.0 482.0,240.7 488.0,246.5 494.0,250.6 500.0,253.1 506.0,253.8 512.0,252.6 516.0,250.5 520.0,246.8 523.0,242.0 525.1,236.0 526.3,228.0 526.4,220.0 525.4,210.0 523.5,202.0 521.0,196.0 518.0,191.4 514.0,187.3 510.0,184.7 506.0,182.9 500.0,181.5 494.0,181.2Z"/>
<path fill="#fcb045" d="M-4.0,-4.0 846.0,-4.0 846.0,486.0 -4.0,486.0ZM476.0,173.7 468.0,176.5 462.0,179.8 456.5,184.0 452.9,188.0 450.6,192.0 448.8,198.0 449.0,204.0 451.0,210.0 455.7,218.0 471.3,238.0 486.0,259.4 490.0,264.4 494.0,268.4 500.0,272.8 504.0,274.7 508.0,275.9 512.0,276.4 516.0,276.2 522.0,274.4 528.0,270.2 532.0,264.7 534.5,258.0 535.4,250.0 534.5,238.0 528.4,202.0 527.1,196.0 524.9,190.0 522.0,185.0 518.0,180.4 514.0,177.4 508.0,174.6 500.0,172.8 492.0,172.1 484.0,172.3Z"/>
<path fill="#f98735" d="M-4.0,-4.0 846.0,-4.0 846.0,486.0 -4.0,486.0ZM472.0,163.8 462.0,166.0 450.3,170.0 440.0,174.8 432.2,180.0 426.8,186.0 424.4,192.0 424.2,198.0 426.4,204.0 429.2,208.0 433.2,212.0 452.0,225.6 458.0,230.6 464.0,236.8 468.0,242.0 472.5,250.0 475.8,258.0 482.8,284.0 486.0,292.9 491.1,302.0 498.0,309.7 504.0,314.4 510.0,317.8 516.0,320.2 524.0,322.2 532.0,322.9 538.0,322.5 544.0,321.2 550.0,318.8 554.7,316.0 559.3,312.0 562.5,308.0 564.7,304.0 566.2,300.0 567.4,294.0 567.5,290.0 567.0,284.0 564.9,276.0 561.5,268.0 557.0,260.0 542.0,236.2 536.0,223.3 533.1,212.0 531.2,192.0 529.6,186.0 527.9,182.0 525.7,178.0 522.0,173.3 518.0,170.1 513.2,168.0 504.0,165.9 488.0,163.7 480.0,163.2Z"/>
<path fill="#f05a24" d="M-4.0,-4.0 31.4,-4.0 74.0,27.5 116.0,61.2 156.0,95.6 225.9,158.0 257.1,184.0 275.7,198.0 296.2,212.0 315.9,224.0 337.5,236.0 353.1,244.0 368.0,250.8 378.0,254.5 386.0,255.9 392.0,255.4 396.0,253.8 400.0,251.1 410.3,242.0 415.8,238.0 423.6,234.0 430.0,232.1 438.0,231.4 446.0,232.7 452.0,235.2 458.0,239.4 460.4,242.0 463.2,246.0 465.2,250.0 466.4,254.0 467.2,262.0 466.0,269.7 462.4,278.0 458.0,284.1 452.0,290.0 441.9,298.0 439.8,300.0 436.9,304.0 435.2,310.0 435.8,318.0 439.9,332.0 448.0,351.8 488.8,440.0 509.0,486.0 -4.0,486.0ZM442.0,18.0 452.0,16.6 462.0,16.2 472.0,16.9 484.0,19.0 496.0,22.4 506.0,26.3 516.0,31.1 526.0,36.9 534.0,42.4 542.0,48.6 550.0,55.8 556.0,61.9 564.7,72.0 584.0,97.2 602.0,116.7 609.7,126.0 617.4,138.0 620.3,144.0 623.2,152.0 625.1,160.0 625.9,166.0 626.3,174.0 626.0,180.0 624.8,188.0 623.4,194.0 620.6,202.0 617.7,208.0 611.3,218.0 605.9,224.0 601.4,228.0 594.0,232.9 587.1,236.0 580.0,238.0 572.0,238.7 564.0,238.0 558.0,236.3 552.0,233.4 546.0,228.8 542.0,224.1 540.0,220.9 537.3,214.0 536.3,206.0 536.7,200.0 538.3,190.0 537.9,184.0 532.5,162.0 530.0,158.4 528.0,157.2 524.0,156.4 510.0,156.8 502.0,156.2 494.0,154.1 482.0,149.4 476.0,147.9 470.0,148.1 456.0,150.8 448.0,151.7 438.0,151.5 430.0,150.0 420.0,146.6 411.5,142.0 405.9,138.0 401.4,134.0 394.4,126.0 389.2,118.0 385.6,110.0 383.1,102.0 381.7,94.0 381.3,86.0 382.3,76.0 384.1,68.0 387.1,60.0 391.4,52.0 396.0,45.4 402.0,38.7 408.0,33.4 416.0,27.9 424.0,23.8 432.0,20.6Z"/>
<path fill="#e6141a" d="M551.7,196.0 556.0,195.7 560.0,196.8 562.0,197.8 564.7,200.0 567.3,204.0 567.9,206.0 568.1,210.0 566.9,214.0 563.8,218.0 560.0,220.2 558.0,220.8 554.0,221.0 550.0,219.9 546.0,217.0 544.0,214.3 543.0,212.0 542.3,208.0 542.5,206.0 544.0,201.6 546.0,199.0 548.0,197.5Z"/>
<g transform="translate(0.2,-1.6)">
<g fill="none" stroke="#000" stroke-linejoin="round" stroke-linecap="round">
<path stroke-width="2.15" d="M27.9,2.5 32.8,10.5 47.7,16.7 55.1,22.9 62.5,31.0 92.3,31.5 93.5,45.1 95.2,65.0"/>
<path stroke-width="2.15" d="M95.2,65.0 103.4,71.1 113.3,73.6 122.0,72.4 131.9,83.5 138.1,79.8 148.0,78.6 157.9,71.1 161.6,66.2 159.1,60.0 170.3,56.3 185.1,52.6 197.5,46.4 207.4,42.7 211.9,37.7 212.4,30.3 216.1,21.6 218.6,14.2 224.8,10.5 244.6,8.0 247.1,2.5"/>
<path stroke-width="2.15" d="M247.1,2.5 259.4,4.3 269.4,6.8 284.2,5.5 294.1,6.8 302.8,11.7 316.4,9.2 322.6,16.7 330.0,20.4 341.2,15.4 353.6,9.2 363.5,8.0 373.4,15.4 379.6,11.7 380.8,4.3 387.0,3.0"/>
<path stroke-width="2.15" d="M95.2,65.0 92.3,74.9 89.8,84.8 88.5,94.7 84.8,102.1 77.4,107.1 81.1,110.8 71.2,114.5 68.2,120.7 70.0,129.4 68.7,134.3 74.9,138.0 83.1,140.5 76.2,146.7 71.2,154.1 73.7,164.0 77.4,173.9 81.1,183.8 80.6,196.2 81.1,211.1 96.0,212.3 109.6,213.6 114.6,219.8 115.8,227.2 110.8,235.9 100.9,247.0 91.0,258.1 82.4,267.6"/>
<path stroke-width="2.15" d="M82.4,267.6 98.5,271.8 115.8,278.0 135.6,282.4 160.4,281.7 180.2,279.2 193.8,281.7 202.5,278.0 222.3,276.7 244.6,271.8 264.4,268.1 271.3,265.6 268.1,258.1 270.6,243.3 271.8,233.4 280.5,223.5 291.6,217.3 296.6,218.5 309.0,217.3 320.1,214.8 316.4,209.8 323.8,207.4 333.7,201.2 346.1,199.9 358.5,204.9 368.4,201.2 375.9,195.0"/>
<path stroke-width="2.15" d="M82.4,267.5 91.0,277.4 98.5,287.3 105.9,299.7 115.8,309.6 125.7,314.6 135.6,317.1 145.5,322.0 148.0,334.4 149.2,349.3 150.5,359.2 160.4,359.2 164.1,364.1 161.6,369.1 164.1,374.0 160.4,379.0 148.0,379.0 135.6,381.5 125.7,388.9 118.3,393.8 115.8,403.7 113.3,408.7 109.6,418.6 108.4,431.0 107.1,434.7"/>
<path stroke-width="2.15" d="M-13.0,414.9 1.9,416.1 11.8,418.6 19.2,422.3 31.6,419.8 44.0,422.3 56.3,423.6 66.3,421.1 71.2,426.0 83.6,428.5 96.0,433.5 107.1,434.7"/>
<path stroke-width="1.1" d="M107.1,434.7 115.8,433.5 131.9,429.8 148.0,428.5 160.4,428.0 172.8,428.5 175.2,424.8 185.1,423.6 192.6,421.1 197.5,424.8 209.9,428.5 222.3,424.8 234.7,423.6 247.1,422.3 259.4,421.1 264.4,416.1 276.8,414.9 280.5,421.1 284.2,433.5 283.0,440.9"/>
<path stroke-width="3.0" d="M283.0,440.9 296.6,440.9 304.0,448.3 309.0,455.8 307.7,463.2 311.5,470.6 316.4,476.8 326.3,478.1 333.7,476.8"/>
<path stroke-width="1.1" d="M284.2,439.7 299.1,423.6 306.5,406.2 301.6,388.9 299.1,369.1 300.3,354.2 306.5,341.8 318.9,334.4 333.7,324.5 343.7,318.3 363.5,317.1 372.1,317.1"/>
<path stroke-width="2.15" d="M551.5,209.5 557.0,223.1 544.6,235.5 534.7,245.4 535.9,252.9 524.8,260.3 516.1,266.5 512.4,277.6 507.4,287.5 501.2,296.2 490.1,302.4 479.0,309.8 472.8,319.7 465.3,330.9 460.4,335.8 448.0,337.1 435.6,340.8 428.2,342.0 422.0,337.1 415.8,330.9 403.4,338.3 393.5,349.5 383.6,359.4 386.1,369.3 396.0,374.2 403.4,379.2 404.6,389.1 400.9,399.0 403.4,406.4 410.8,411.4 422.0,412.6 423.2,423.8 428.2,433.7 433.1,443.6 436.8,456.0 430.7,458.4 425.7,462.2 410.8,460.9 400.9,464.6 386.1,463.4 371.2,460.9 356.3,462.2 353.9,470.8 341.5,472.1 334.1,477.0"/>
<path stroke-width="1.1" d="M398.5,249.9 398.5,260.8 393.5,267.7 384.8,275.2 383.6,282.6 389.8,290.0 383.6,299.9 378.6,309.8 372.4,317.3 393.5,324.7 415.8,330.9"/>
<path stroke-width="2.15" d="M373.2,193.2 372.5,184.3 373.9,175.4 377.7,168.0 379.1,159.1 382.1,154.6 391.0,152.4 399.9,148.7 408.9,145.7 408.9,139.7 404.4,133.8 399.9,129.3 394.0,124.9 394.7,121.2 404.4,121.9 416.3,124.1 426.7,123.4 434.1,118.9 436.4,113.0 434.1,107.1 437.1,99.6 444.5,92.2 452.0,84.8 455.7,77.3 454.9,69.9"/>
<path stroke-width="2.15" d="M454.3,73.9 450.6,64.6 445.0,55.3 440.4,50.7 448.7,44.2 459.9,36.8 471.0,27.5 482.2,23.8 497.0,21.9 511.9,21.0 524.9,22.8 534.2,23.8 543.5,20.1 552.8,15.4 554.6,12.6"/>
<path stroke-width="1.1" d="M373.2,193.2 382.1,191.8 391.0,189.5 394.0,194.7 396.2,203.6 399.9,211.1 405.9,210.3 408.9,218.5 407.4,228.9 402.9,237.8 398.5,249.9"/>
<path stroke-width="1.1" d="M408.9,218.5 416.3,215.5 425.2,214.1 429.7,203.6 434.1,193.2 437.1,184.3 443.0,176.9 438.6,171.0 437.1,162.0 441.6,156.1 447.5,154.6 450.5,150.9 456.4,153.1 457.9,145.7 465.3,139.7 471.3,132.3 478.7,124.9 484.7,121.9 492.1,126.4 498.0,132.3 502.5,135.3 512.9,129.3 518.8,124.9 524.8,114.5 527.0,102.6"/>
<path stroke-width="2.15" d="M448.7,1.5 447.8,14.5 451.5,25.6 458.0,29.3 465.5,26.6 474.7,20.1 485.9,16.3 497.0,10.8 508.2,5.2 519.3,3.3 524.9,7.0 530.5,9.8 545.3,7.0 560.2,6.1 567.6,8.9 562.1,11.7 554.6,12.6"/>
<path stroke-width="2.15" d="M367.0,7.0 376.3,10.8 378.1,5.2 380.0,1.5"/>
<path stroke-width="2.15" d="M554.6,12.6 563.9,16.3 571.3,15.4 580.6,20.1 589.9,23.8 599.2,29.3 604.8,36.8 608.5,44.2 606.6,49.8 614.1,55.3 623.4,57.2 630.8,62.8 640.1,66.5 651.2,70.2 662.4,72.1 665.5,72.4"/>
<path stroke-width="1.1" d="M665.5,72.4 651.8,82.3 639.4,89.7 627.1,97.2 614.7,102.1 602.3,104.6 589.9,105.8 580.0,102.1 570.1,100.9 562.7,94.7 557.7,88.5 552.8,84.8"/>
<path stroke-width="1.1" d="M526.8,23.8 515.6,29.3 504.5,29.3 500.8,35.8 487.8,42.3 485.9,51.6 487.8,57.2 497.0,59.1 508.2,60.9 515.6,68.4 524.9,70.2 528.6,75.8 534.2,81.4 543.5,86.9 552.8,85.1 558.3,92.5 563.9,96.2"/>
<path stroke-width="1.1" d="M534.2,81.4 528.6,92.5 524.9,99.9 519.3,105.5 515.6,114.8 519.3,125.9 523.0,137.1 524.9,150.1 534.2,155.7 543.5,159.4 552.8,163.1 560.2,166.8"/>
<path stroke-width="1.1" d="M539.8,88.8 549.1,94.4 554.6,99.9 550.9,107.4 541.6,114.8 536.1,122.2 539.8,133.4 537.9,142.7 543.5,151.9 552.8,161.2"/>
<path stroke-width="2.15" d="M560.2,166.8 571.3,174.2 582.5,179.8 595.5,174.2 604.8,165.0 599.2,159.4 614.1,155.7 623.4,150.1 632.7,153.8 641.9,159.4 653.1,163.1 667.0,159.4"/>
<path stroke-width="2.15" d="M614.7,156.6 624.6,150.4 634.5,151.6 641.9,159.1 651.8,162.8 661.7,161.6 667.9,157.8 671.6,164.0 676.6,170.2 684.0,169.0"/>
<path stroke-width="2.15" d="M582.5,179.8 571.3,191.0 560.2,200.2 556.5,209.5 560.2,218.8"/>
</g>
<circle cx="452.4" cy="122.7" r="4.6" fill="#000"/>
<circle cx="506.2" cy="136.8" r="4.6" fill="#000"/>
<circle cx="555.7" cy="175.2" r="4.6" fill="#000"/>
<circle cx="551.5" cy="209.8" r="4.6" fill="#000"/>
<circle cx="501.5" cy="214.8" r="4.6" fill="#000"/>
<circle cx="447.5" cy="255.2" r="4.6" fill="#000"/>
<circle cx="356.0" cy="341.3" r="4.6" fill="#000"/>
<circle cx="341.7" cy="393.1" r="4.6" fill="#000"/>
<circle cx="298.6" cy="440.4" r="4.6" fill="#000"/>
<circle cx="131.9" cy="428.5" r="4.6" fill="#000"/>
<g font-family='"Liberation Sans",Arial,Helvetica,sans-serif' font-size="24" font-weight="bold" fill="#000">
<text x="459.6" y="110.4">0.000</text>
<text x="558.7" y="164.3" text-anchor="end">0.000</text>
<text x="562.6" y="164.4">0.000</text>
<text x="556.5" y="231.1">-0.001</text>
<text x="508.9" y="202.7">0.012</text>
<text x="454.9" y="242.2">0.000</text>
<text x="363.9" y="329.2">0.000</text>
<text x="348.6" y="380.4">0.000</text>
<text x="304.9" y="426.4">0.000</text>
<text x="138.8" y="415.8">0.000</text>
</g>
<g font-family='"Liberation Serif","Times New Roman",Times,serif' font-size="26" font-weight="bold" fill="#000">
<text transform="translate(288.5,181) rotate(-42)" letter-spacing="2.1">Afghanistan</text>
<text transform="translate(611,16) rotate(24)" letter-spacing="1.5">China</text>
<text transform="translate(59.5,363.5)" letter-spacing="1.2">Iran</text>
<text transform="translate(516,337) rotate(-45)" letter-spacing="1.5">India</text>
</g>
<text x="112" y="467" font-family='"Liberation Sans",Arial,Helvetica,sans-serif' font-size="29" font-weight="bold">Arabian Sea</text>
</g>
</g>
<text transform="translate(829.1,59.0)" font-family='"Liberation Sans",Arial,Helvetica,sans-serif' font-size="49" font-weight="bold" text-anchor="end">(f)</text>
<text transform="translate(822.9,457.7)" font-family='"Liberation Sans",Arial,Helvetica,sans-serif' font-size="50" font-weight="bold" text-anchor="end">Daily</text>
<rect x="0" y="0" width="842.1" height="481.8" fill="none" stroke="#000" stroke-width="4.4"/>
</g>
<g transform="translate(1295.2,1628.0)">
<clipPath id="c7"><rect x="0" y="0" width="842.1" height="481.8"/></clipPath>
<g clip-path="url(#c7)">
<rect x="0" y="0" width="842.1" height="481.8" fill="#2a8fc6"/>
<path fill="#69a3b2" d="M-4.0,-4.0 846.0,-4.0 846.0,486.0 187.7,486.0 192.7,474.0 196.8,460.0 198.9,448.0 200.0,434.0 199.6,420.0 197.9,408.0 194.7,396.0 189.8,384.0 184.0,373.6 176.0,362.9 168.0,354.7 158.0,346.8 148.0,340.7 136.0,335.3 124.0,331.7 110.0,329.4 102.0,328.9 92.0,329.2 82.0,330.4 74.0,332.1 64.0,335.1 56.0,338.3 48.0,342.3 40.0,347.1 33.3,352.0 26.0,358.2 20.0,364.3 13.6,372.0 8.0,380.0 3.5,388.0 -1.1,398.0 -4.0,406.4ZM-4.0,470.0 -4.0,469.7 -1.1,478.0 2.5,486.0 -4.0,486.0Z"/>
<path fill="#93bea0" d="M-4.0,-4.0 846.0,-4.0 846.0,486.0 229.7,486.0 229.2,430.0 228.6,412.0 226.8,394.0 223.1,376.0 220.0,366.0 216.1,356.0 211.4,346.0 206.9,338.0 195.9,322.0 189.3,314.0 182.0,306.2 174.0,298.8 164.0,290.6 154.0,283.6 144.0,277.4 132.0,271.1 122.0,266.6 110.0,262.0 98.0,258.3 86.0,255.3 74.0,253.1 60.0,251.3 48.0,250.6 34.0,250.6 22.0,251.3 8.0,252.9 -4.0,255.1Z"/>
<path fill="#c0d48c" d="M-4.0,-4.0 846.0,-4.0 846.0,486.0 279.4,486.0 272.0,472.9 268.0,464.3 265.2,456.0 263.3,448.0 262.4,440.0 262.3,432.0 264.7,404.0 264.6,392.0 263.6,382.0 262.2,374.0 257.0,354.0 248.7,332.0 238.8,312.0 226.5,292.0 211.5,272.0 202.0,261.0 192.0,250.4 180.0,238.8 168.0,228.2 156.0,218.5 144.0,209.6 130.0,200.0 116.0,191.3 102.0,183.3 88.0,176.1 74.0,169.5 58.0,162.8 42.0,156.8 28.0,152.2 12.0,147.6 -4.0,143.6ZM450.0,115.6 447.5,118.0 446.9,120.0 447.0,122.0 448.0,124.0 450.0,125.5 452.0,126.0 454.0,125.7 456.4,124.0 457.4,122.0 457.6,120.0 457.0,118.0 456.0,116.7 454.0,115.4 452.0,115.2Z"/>
<path fill="#e4ec76" d="M-4.0,-4.0 846.0,-4.0 846.0,486.0 337.1,486.0 328.5,446.0 326.0,438.0 323.4,432.0 318.0,423.3 304.0,406.0 298.0,396.3 292.0,384.0 268.9,332.0 260.7,316.0 252.7,302.0 242.4,286.0 232.5,272.0 221.7,258.0 210.0,244.1 188.0,220.6 164.0,198.0 138.0,176.5 112.0,157.5 84.0,139.6 56.0,124.0 26.0,109.5 -4.0,97.2ZM446.0,103.5 442.0,105.5 440.0,107.2 436.7,112.0 435.2,118.0 436.1,124.0 438.0,127.6 439.9,130.0 444.0,132.9 446.7,134.0 450.0,134.6 456.0,134.0 460.0,132.1 462.0,130.5 465.4,126.0 467.2,120.0 466.5,114.0 464.7,110.0 463.1,108.0 461.0,106.0 458.0,104.1 452.0,102.6Z"/>
<path fill="#fde358" d="M-4.0,-4.0 846.0,-4.0 846.0,486.0 380.9,486.0 377.0,442.0 376.6,430.0 376.8,410.0 376.3,400.0 375.2,394.0 373.4,388.0 370.6,382.0 367.9,378.0 362.0,372.0 354.0,367.1 348.0,364.6 328.0,357.6 318.0,352.8 311.1,348.0 304.0,341.5 298.0,334.8 290.0,324.7 242.8,260.0 214.0,224.3 196.0,203.9 178.0,184.8 158.0,165.0 138.0,146.7 122.0,132.9 104.0,118.3 86.0,104.7 70.0,93.3 52.0,81.1 34.0,69.8 16.0,59.1 -4.0,48.1ZM442.0,95.6 438.0,97.7 435.1,100.0 432.0,103.5 430.0,107.0 428.3,112.0 427.9,116.0 428.1,120.0 429.2,124.0 431.0,128.0 434.0,131.9 436.3,134.0 440.0,136.4 444.0,138.1 448.0,138.8 454.0,138.7 458.0,137.6 462.0,135.8 466.0,132.7 468.5,130.0 471.0,126.0 472.4,122.0 473.1,118.0 472.7,112.0 471.4,108.0 469.2,104.0 466.0,100.2 460.0,96.2 456.0,94.7 452.0,94.1 446.0,94.5ZM504.0,127.5 502.0,128.7 500.0,131.4 499.5,134.0 500.0,136.4 502.0,139.1 504.0,140.4 506.0,140.8 509.6,140.0 512.0,138.0 512.9,136.0 513.2,134.0 512.9,132.0 511.9,130.0 509.6,128.0 506.0,127.2ZM556.0,165.7 554.0,166.3 551.7,168.0 550.0,171.2 549.9,174.0 550.6,176.0 552.0,178.1 554.0,179.4 556.0,180.0 558.0,180.0 562.0,178.0 563.4,176.0 564.1,174.0 564.1,172.0 563.6,170.0 562.0,167.7 559.2,166.0ZM444.0,247.9 441.3,250.0 440.1,252.0 439.9,256.0 440.7,258.0 442.0,259.5 444.0,260.8 448.0,261.2 450.0,260.5 452.0,258.8 453.4,256.0 453.6,254.0 453.2,252.0 452.0,249.9 450.0,248.3 448.0,247.6Z"/>
<path fill="#fcb045" d="M107.0,-4.0 846.0,-4.0 846.0,486.0 449.4,486.0 426.3,410.0 417.7,384.0 401.8,340.0 396.2,328.0 391.3,320.0 386.6,314.0 380.7,308.0 374.0,302.7 368.0,298.9 356.0,293.1 326.0,281.3 318.0,277.3 310.0,272.3 302.0,266.4 296.0,261.2 288.0,253.4 280.0,244.7 264.9,226.0 247.5,202.0 160.0,71.2 132.0,30.9ZM442.0,71.8 436.0,73.4 432.0,75.0 426.0,78.5 422.0,81.8 418.2,86.0 415.5,90.0 413.5,94.0 411.5,100.0 410.7,104.0 410.5,110.0 411.1,116.0 412.2,120.0 414.6,126.0 417.0,130.0 420.2,134.0 424.0,137.6 430.0,141.7 436.0,144.3 443.7,146.0 450.0,146.2 456.0,145.4 460.9,144.0 466.0,141.9 476.0,136.6 480.0,135.3 482.0,135.3 486.0,137.6 490.5,142.0 495.8,146.0 500.0,148.0 506.0,149.1 510.0,148.8 514.0,147.8 518.0,145.8 522.3,142.0 525.0,138.0 526.5,134.0 527.1,130.0 526.9,126.0 525.9,122.0 524.0,118.0 522.0,115.2 518.9,112.0 512.0,107.5 498.0,102.4 494.0,100.0 479.3,84.0 474.0,79.6 468.0,75.9 462.0,73.4 456.0,71.9 448.0,71.3ZM554.0,154.0 550.0,156.1 548.0,157.8 544.9,162.0 542.9,168.0 543.0,174.0 545.2,180.0 550.0,185.8 554.0,188.8 558.0,190.7 562.0,190.8 568.0,188.2 572.0,184.9 574.3,182.0 577.0,176.0 577.6,172.0 577.3,168.0 576.1,164.0 574.0,160.3 572.0,158.0 568.0,155.1 562.0,153.1 558.0,153.0ZM438.0,241.7 434.1,244.0 432.1,246.0 429.5,250.0 428.2,256.0 429.2,262.0 431.4,266.0 433.2,268.0 438.0,271.0 444.0,272.1 450.0,270.9 454.0,268.5 456.0,266.6 458.8,262.0 460.0,256.0 458.8,250.0 456.0,245.6 454.0,243.7 450.0,241.5 444.0,240.4ZM552.0,197.7 548.0,200.5 546.0,203.4 545.2,206.0 545.3,210.0 546.0,212.1 547.4,214.0 550.0,216.0 552.0,216.7 556.0,216.8 560.0,215.1 562.8,212.0 564.1,208.0 563.9,204.0 562.2,200.0 560.0,197.7 558.0,196.7 556.0,196.5Z"/>
<path fill="#f98735" d="M677.9,-2.0 679.5,-4.0 846.0,-4.0 846.0,431.3 833.9,438.0 820.0,444.8 806.0,450.8 792.0,455.9 778.0,460.2 764.0,463.8 750.0,466.6 736.0,468.7 710.0,470.7 696.0,470.8 682.0,470.3 668.0,469.1 654.0,467.2 640.0,464.5 628.0,461.7 614.0,457.7 602.0,453.7 590.0,449.1 576.0,442.9 564.0,436.8 552.0,430.0 530.0,415.6 516.0,404.8 504.0,394.4 492.0,382.7 482.0,371.9 472.0,359.8 463.4,348.0 456.1,336.0 451.4,326.0 448.5,316.0 448.3,310.0 448.9,306.0 451.3,300.0 460.0,286.8 464.0,279.7 466.3,274.0 468.0,266.4 468.2,260.0 467.3,254.0 465.1,248.0 462.0,242.9 458.0,238.4 452.0,234.1 446.0,231.5 438.0,229.7 432.0,229.5 424.0,230.3 404.0,235.4 398.0,236.3 392.0,236.0 385.7,234.0 380.0,230.7 376.0,227.5 372.0,223.5 367.7,218.0 364.1,212.0 361.4,206.0 359.5,200.0 358.4,194.0 358.2,188.0 358.6,184.0 360.2,178.0 362.1,174.0 365.1,170.0 368.0,167.3 372.0,164.8 376.0,163.0 384.0,161.1 392.0,160.4 424.0,161.0 438.0,160.4 452.0,158.3 472.0,153.8 480.0,153.4 502.0,157.9 522.0,159.3 526.0,160.8 528.0,162.5 531.2,168.0 539.8,190.0 540.2,194.0 538.9,206.0 539.2,210.0 540.2,214.0 542.0,217.9 544.0,220.8 546.0,222.9 550.0,226.0 554.0,227.9 560.0,229.6 564.0,229.9 570.0,229.5 576.0,228.2 581.8,226.0 592.8,220.0 601.4,214.0 608.7,208.0 615.0,202.0 620.5,196.0 625.1,190.0 630.3,182.0 637.0,168.0 641.4,154.0 644.4,138.0 645.8,124.0 648.5,80.0 650.6,64.0 653.5,50.0 658.0,34.6 663.1,22.0 670.0,9.2Z"/>
<path fill="#f05a24" d="M477.7,170.0 486.0,169.1 494.0,169.2 504.0,170.5 512.0,172.6 516.0,174.6 520.4,178.0 524.0,182.2 528.0,188.9 530.9,198.0 532.9,212.0 534.7,220.0 538.0,229.6 546.3,250.0 548.0,256.0 548.9,262.0 548.7,270.0 547.8,274.0 546.0,278.4 543.8,282.0 540.1,286.0 534.0,290.1 530.0,291.6 526.0,292.6 522.0,293.0 516.0,292.6 510.0,291.1 506.0,289.4 502.0,287.1 498.0,284.0 492.0,277.7 488.0,271.9 476.2,250.0 470.0,240.0 464.0,232.3 449.3,216.0 444.1,208.0 442.3,202.0 442.5,196.0 444.7,190.0 447.5,186.0 454.0,180.1 460.6,176.0 468.0,172.7Z"/>
<path fill="#e6141a" d="M492.8,186.0 498.0,185.7 504.0,186.6 508.0,188.0 512.0,190.3 516.0,193.8 519.1,198.0 521.2,202.0 523.1,208.0 524.0,214.0 524.2,222.0 523.5,228.0 522.0,233.2 519.6,238.0 516.0,242.2 512.0,244.8 508.0,246.2 504.0,246.7 498.0,245.8 492.0,243.2 488.0,240.5 482.0,234.8 478.0,229.8 473.4,222.0 471.2,216.0 470.3,210.0 470.5,206.0 472.3,200.0 474.8,196.0 478.0,192.6 482.0,189.7 488.0,187.0Z"/>
<g transform="translate(0.2,-1.6)">
<g fill="none" stroke="#000" stroke-linejoin="round" stroke-linecap="round">
<path stroke-width="2.15" d="M27.9,2.5 32.8,10.5 47.7,16.7 55.1,22.9 62.5,31.0 92.3,31.5 93.5,45.1 95.2,65.0"/>
<path stroke-width="2.15" d="M95.2,65.0 103.4,71.1 113.3,73.6 122.0,72.4 131.9,83.5 138.1,79.8 148.0,78.6 157.9,71.1 161.6,66.2 159.1,60.0 170.3,56.3 185.1,52.6 197.5,46.4 207.4,42.7 211.9,37.7 212.4,30.3 216.1,21.6 218.6,14.2 224.8,10.5 244.6,8.0 247.1,2.5"/>
<path stroke-width="2.15" d="M247.1,2.5 259.4,4.3 269.4,6.8 284.2,5.5 294.1,6.8 302.8,11.7 316.4,9.2 322.6,16.7 330.0,20.4 341.2,15.4 353.6,9.2 363.5,8.0 373.4,15.4 379.6,11.7 380.8,4.3 387.0,3.0"/>
<path stroke-width="2.15" d="M95.2,65.0 92.3,74.9 89.8,84.8 88.5,94.7 84.8,102.1 77.4,107.1 81.1,110.8 71.2,114.5 68.2,120.7 70.0,129.4 68.7,134.3 74.9,138.0 83.1,140.5 76.2,146.7 71.2,154.1 73.7,164.0 77.4,173.9 81.1,183.8 80.6,196.2 81.1,211.1 96.0,212.3 109.6,213.6 114.6,219.8 115.8,227.2 110.8,235.9 100.9,247.0 91.0,258.1 82.4,267.6"/>
<path stroke-width="2.15" d="M82.4,267.6 98.5,271.8 115.8,278.0 135.6,282.4 160.4,281.7 180.2,279.2 193.8,281.7 202.5,278.0 222.3,276.7 244.6,271.8 264.4,268.1 271.3,265.6 268.1,258.1 270.6,243.3 271.8,233.4 280.5,223.5 291.6,217.3 296.6,218.5 309.0,217.3 320.1,214.8 316.4,209.8 323.8,207.4 333.7,201.2 346.1,199.9 358.5,204.9 368.4,201.2 375.9,195.0"/>
<path stroke-width="2.15" d="M82.4,267.5 91.0,277.4 98.5,287.3 105.9,299.7 115.8,309.6 125.7,314.6 135.6,317.1 145.5,322.0 148.0,334.4 149.2,349.3 150.5,359.2 160.4,359.2 164.1,364.1 161.6,369.1 164.1,374.0 160.4,379.0 148.0,379.0 135.6,381.5 125.7,388.9 118.3,393.8 115.8,403.7 113.3,408.7 109.6,418.6 108.4,431.0 107.1,434.7"/>
<path stroke-width="2.15" d="M-13.0,414.9 1.9,416.1 11.8,418.6 19.2,422.3 31.6,419.8 44.0,422.3 56.3,423.6 66.3,421.1 71.2,426.0 83.6,428.5 96.0,433.5 107.1,434.7"/>
<path stroke-width="1.1" d="M107.1,434.7 115.8,433.5 131.9,429.8 148.0,428.5 160.4,428.0 172.8,428.5 175.2,424.8 185.1,423.6 192.6,421.1 197.5,424.8 209.9,428.5 222.3,424.8 234.7,423.6 247.1,422.3 259.4,421.1 264.4,416.1 276.8,414.9 280.5,421.1 284.2,433.5 283.0,440.9"/>
<path stroke-width="3.0" d="M283.0,440.9 296.6,440.9 304.0,448.3 309.0,455.8 307.7,463.2 311.5,470.6 316.4,476.8 326.3,478.1 333.7,476.8"/>
<path stroke-width="1.1" d="M284.2,439.7 299.1,423.6 306.5,406.2 301.6,388.9 299.1,369.1 300.3,354.2 306.5,341.8 318.9,334.4 333.7,324.5 343.7,318.3 363.5,317.1 372.1,317.1"/>
<path stroke-width="2.15" d="M551.5,209.5 557.0,223.1 544.6,235.5 534.7,245.4 535.9,252.9 524.8,260.3 516.1,266.5 512.4,277.6 507.4,287.5 501.2,296.2 490.1,302.4 479.0,309.8 472.8,319.7 465.3,330.9 460.4,335.8 448.0,337.1 435.6,340.8 428.2,342.0 422.0,337.1 415.8,330.9 403.4,338.3 393.5,349.5 383.6,359.4 386.1,369.3 396.0,374.2 403.4,379.2 404.6,389.1 400.9,399.0 403.4,406.4 410.8,411.4 422.0,412.6 423.2,423.8 428.2,433.7 433.1,443.6 436.8,456.0 430.7,458.4 425.7,462.2 410.8,460.9 400.9,464.6 386.1,463.4 371.2,460.9 356.3,462.2 353.9,470.8 341.5,472.1 334.1,477.0"/>
<path stroke-width="1.1" d="M398.5,249.9 398.5,260.8 393.5,267.7 384.8,275.2 383.6,282.6 389.8,290.0 383.6,299.9 378.6,309.8 372.4,317.3 393.5,324.7 415.8,330.9"/>
<path stroke-width="2.15" d="M373.2,193.2 372.5,184.3 373.9,175.4 377.7,168.0 379.1,159.1 382.1,154.6 391.0,152.4 399.9,148.7 408.9,145.7 408.9,139.7 404.4,133.8 399.9,129.3 394.0,124.9 394.7,121.2 404.4,121.9 416.3,124.1 426.7,123.4 434.1,118.9 436.4,113.0 434.1,107.1 437.1,99.6 444.5,92.2 452.0,84.8 455.7,77.3 454.9,69.9"/>
<path stroke-width="2.15" d="M454.3,73.9 450.6,64.6 445.0,55.3 440.4,50.7 448.7,44.2 459.9,36.8 471.0,27.5 482.2,23.8 497.0,21.9 511.9,21.0 524.9,22.8 534.2,23.8 543.5,20.1 552.8,15.4 554.6,12.6"/>
<path stroke-width="1.1" d="M373.2,193.2 382.1,191.8 391.0,189.5 394.0,194.7 396.2,203.6 399.9,211.1 405.9,210.3 408.9,218.5 407.4,228.9 402.9,237.8 398.5,249.9"/>
<path stroke-width="1.1" d="M408.9,218.5 416.3,215.5 425.2,214.1 429.7,203.6 434.1,193.2 437.1,184.3 443.0,176.9 438.6,171.0 437.1,162.0 441.6,156.1 447.5,154.6 450.5,150.9 456.4,153.1 457.9,145.7 465.3,139.7 471.3,132.3 478.7,124.9 484.7,121.9 492.1,126.4 498.0,132.3 502.5,135.3 512.9,129.3 518.8,124.9 524.8,114.5 527.0,102.6"/>
<path stroke-width="2.15" d="M448.7,1.5 447.8,14.5 451.5,25.6 458.0,29.3 465.5,26.6 474.7,20.1 485.9,16.3 497.0,10.8 508.2,5.2 519.3,3.3 524.9,7.0 530.5,9.8 545.3,7.0 560.2,6.1 567.6,8.9 562.1,11.7 554.6,12.6"/>
<path stroke-width="2.15" d="M367.0,7.0 376.3,10.8 378.1,5.2 380.0,1.5"/>
<path stroke-width="2.15" d="M554.6,12.6 563.9,16.3 571.3,15.4 580.6,20.1 589.9,23.8 599.2,29.3 604.8,36.8 608.5,44.2 606.6,49.8 614.1,55.3 623.4,57.2 630.8,62.8 640.1,66.5 651.2,70.2 662.4,72.1 665.5,72.4"/>
<path stroke-width="1.1" d="M665.5,72.4 651.8,82.3 639.4,89.7 627.1,97.2 614.7,102.1 602.3,104.6 589.9,105.8 580.0,102.1 570.1,100.9 562.7,94.7 557.7,88.5 552.8,84.8"/>
<path stroke-width="1.1" d="M526.8,23.8 515.6,29.3 504.5,29.3 500.8,35.8 487.8,42.3 485.9,51.6 487.8,57.2 497.0,59.1 508.2,60.9 515.6,68.4 524.9,70.2 528.6,75.8 534.2,81.4 543.5,86.9 552.8,85.1 558.3,92.5 563.9,96.2"/>
<path stroke-width="1.1" d="M534.2,81.4 528.6,92.5 524.9,99.9 519.3,105.5 515.6,114.8 519.3,125.9 523.0,137.1 524.9,150.1 534.2,155.7 543.5,159.4 552.8,163.1 560.2,166.8"/>
<path stroke-width="1.1" d="M539.8,88.8 549.1,94.4 554.6,99.9 550.9,107.4 541.6,114.8 536.1,122.2 539.8,133.4 537.9,142.7 543.5,151.9 552.8,161.2"/>
<path stroke-width="2.15" d="M560.2,166.8 571.3,174.2 582.5,179.8 595.5,174.2 604.8,165.0 599.2,159.4 614.1,155.7 623.4,150.1 632.7,153.8 641.9,159.4 653.1,163.1 667.0,159.4"/>
<path stroke-width="2.15" d="M614.7,156.6 624.6,150.4 634.5,151.6 641.9,159.1 651.8,162.8 661.7,161.6 667.9,157.8 671.6,164.0 676.6,170.2 684.0,169.0"/>
<path stroke-width="2.15" d="M582.5,179.8 571.3,191.0 560.2,200.2 556.5,209.5 560.2,218.8"/>
</g>
<circle cx="452.4" cy="122.7" r="4.6" fill="#000"/>
<circle cx="506.2" cy="136.8" r="4.6" fill="#000"/>
<circle cx="555.7" cy="175.2" r="4.6" fill="#000"/>
<circle cx="551.5" cy="209.8" r="4.6" fill="#000"/>
<circle cx="501.5" cy="214.8" r="4.6" fill="#000"/>
<circle cx="447.5" cy="255.2" r="4.6" fill="#000"/>
<circle cx="356.0" cy="341.3" r="4.6" fill="#000"/>
<circle cx="341.7" cy="393.1" r="4.6" fill="#000"/>
<circle cx="298.6" cy="440.4" r="4.6" fill="#000"/>
<circle cx="131.9" cy="428.5" r="4.6" fill="#000"/>
<g font-family='"Liberation Sans",Arial,Helvetica,sans-serif' font-size="24" font-weight="bold" fill="#000">
<text x="459.6" y="110.4">0.003</text>
<text x="558.7" y="164.3" text-anchor="end">-0.001</text>
<text x="562.6" y="164.4">0.000</text>
<text x="563.1" y="193.4">-0.003</text>
<text x="486.7" y="201.1">-0.175</text>
<text x="454.9" y="242.2">-0.001</text>
<text x="363.9" y="329.2">-0.004</text>
<text x="348.6" y="380.4">-0.001</text>
<text x="304.9" y="426.4">0.000</text>
<text x="138.8" y="415.8">0.082</text>
</g>
<g font-family='"Liberation Serif","Times New Roman",Times,serif' font-size="26" font-weight="bold" fill="#000">
<text transform="translate(288.5,181) rotate(-42)" letter-spacing="2.1">Afghanistan</text>
<text transform="translate(611,16) rotate(24)" letter-spacing="1.5">China</text>
<text transform="translate(59.5,363.5)" letter-spacing="1.2">Iran</text>
<text transform="translate(516,337) rotate(-45)" letter-spacing="1.5">India</text>
</g>
<text x="125" y="467" font-family='"Liberation Sans",Arial,Helvetica,sans-serif' font-size="29" font-weight="bold">Arabian Sea</text>
</g>
</g>
<text transform="translate(829.1,59.0)" font-family='"Liberation Sans",Arial,Helvetica,sans-serif' font-size="49" font-weight="bold" text-anchor="end">(h)</text>
<text transform="translate(834.1,462.6)" font-family='"Liberation Sans",Arial,Helvetica,sans-serif' font-size="50" font-weight="bold" text-anchor="end">Monthly</text>
<rect x="0" y="0" width="842.1" height="481.8" fill="none" stroke="#000" stroke-width="4.4"/>
</g>
<g transform="translate(333.0,2145.9)">
<clipPath id="c8"><rect x="0" y="0" width="842.1" height="481.8"/></clipPath>
<g clip-path="url(#c8)">
<rect x="0" y="0" width="842.1" height="481.8" fill="#0000ff"/>
<path fill="#3860ff" d="M-4.0,-4.0 846.0,-4.0 846.0,486.0 -4.0,486.0ZM444.0,105.6 440.0,107.7 438.0,109.4 434.8,114.0 433.2,120.0 433.9,126.0 435.7,130.0 437.2,132.0 442.0,135.8 448.0,137.6 454.0,136.9 458.0,134.9 460.0,133.3 462.0,130.9 463.7,128.0 465.0,122.0 464.3,116.0 462.4,112.0 460.8,110.0 456.0,106.3 450.0,104.8ZM496.0,203.8 492.0,206.1 489.3,210.0 488.4,214.0 488.9,218.0 490.0,220.7 492.0,223.4 495.7,226.0 500.0,227.0 504.0,226.4 508.0,223.7 510.3,220.0 511.2,216.0 511.1,214.0 510.0,210.0 508.0,207.0 504.0,204.1 500.0,203.2Z"/>
<path fill="#38acff" d="M-4.0,-4.0 846.0,-4.0 846.0,486.0 -4.0,486.0ZM296.0,437.3 293.8,440.0 294.0,442.6 296.0,444.9 298.0,445.5 300.0,445.0 302.0,442.8 302.0,439.5 300.0,437.3 298.0,436.8ZM432.0,74.0 424.0,76.8 418.0,80.4 412.0,85.7 407.3,92.0 403.6,100.0 401.6,108.0 401.3,116.0 402.4,124.0 405.1,132.0 408.4,138.0 413.1,144.0 420.0,150.1 426.7,154.0 434.0,156.6 442.0,157.7 450.0,156.9 456.0,154.7 462.0,150.7 468.0,144.0 471.4,138.0 474.5,130.0 476.6,120.0 477.0,110.0 476.0,102.4 474.0,96.0 470.0,88.6 466.0,83.8 460.0,78.9 454.0,75.7 446.0,73.5 438.0,73.1ZM490.0,191.9 486.0,193.2 482.0,195.6 479.5,198.0 476.9,202.0 475.6,206.0 475.1,210.0 475.4,214.0 477.0,220.0 478.9,224.0 482.0,228.8 486.0,233.1 490.0,236.1 494.0,238.0 498.0,239.0 502.0,239.1 506.0,238.1 509.7,236.0 512.0,234.0 515.0,230.0 516.8,226.0 517.8,222.0 518.3,218.0 518.0,212.8 516.9,208.0 515.3,204.0 512.8,200.0 510.0,197.0 506.0,194.2 502.0,192.5 498.0,191.6 494.0,191.4Z"/>
<path fill="#00ffff" d="M-4.0,-4.0 846.0,-4.0 846.0,486.0 -4.0,486.0ZM282.0,416.0 276.0,418.3 270.4,422.0 266.4,426.0 262.5,432.0 260.1,438.0 258.8,446.0 259.3,454.0 260.9,460.0 263.5,466.0 267.6,472.0 272.0,476.4 278.0,480.4 284.0,482.9 290.0,484.2 298.0,484.2 304.0,482.8 310.0,480.2 315.7,476.0 320.0,471.3 323.2,466.0 325.3,460.0 326.3,454.0 326.1,448.0 324.9,442.0 322.5,436.0 318.7,430.0 314.0,424.8 308.0,420.2 302.0,417.2 296.0,415.5 288.0,415.0ZM414.0,23.8 406.0,26.2 400.0,28.7 392.0,33.2 386.0,37.6 380.0,43.2 375.8,48.0 371.5,54.0 367.0,62.0 363.7,70.0 361.4,78.0 360.0,86.0 359.5,94.0 359.8,102.0 360.8,110.0 362.7,118.0 365.5,126.0 371.5,138.0 378.6,148.0 386.1,156.0 396.1,164.0 406.0,169.9 416.0,174.4 426.0,177.7 446.0,182.9 450.0,184.4 452.7,186.0 454.8,188.0 457.0,192.0 461.7,208.0 466.1,218.0 472.2,228.0 478.4,236.0 486.0,243.6 490.0,246.5 494.0,248.5 498.0,249.8 502.0,250.1 508.0,248.9 512.0,246.7 516.0,242.6 519.6,236.0 521.4,230.0 522.4,222.0 522.2,214.0 520.8,206.0 518.8,200.0 516.9,196.0 514.0,191.6 508.0,185.8 504.0,183.3 498.0,180.7 482.0,176.4 478.0,174.7 474.9,172.0 473.6,168.0 473.6,164.0 475.1,156.0 480.9,132.0 487.5,108.0 490.3,94.0 490.9,84.0 490.4,76.0 488.8,68.0 486.0,60.0 480.6,50.0 474.0,41.6 466.0,34.6 456.0,28.5 446.0,24.7 436.0,22.7 424.0,22.4Z"/>
<path fill="#96ffb4" d="M-4.0,-4.0 215.9,-4.0 219.4,16.0 224.7,36.0 232.0,56.0 241.3,76.0 251.7,94.0 264.3,112.0 277.7,128.0 293.4,144.0 309.6,158.0 325.8,170.0 341.6,180.0 360.0,189.6 374.0,195.5 388.0,199.9 400.0,202.6 422.0,206.4 432.0,208.9 440.0,212.0 446.0,215.2 454.0,221.0 464.0,230.7 471.8,240.0 484.0,256.3 490.0,262.8 494.0,266.0 498.0,268.3 502.0,269.7 506.0,270.2 512.0,269.1 516.0,266.9 518.0,265.2 522.0,259.9 524.5,254.0 526.3,246.0 527.1,236.0 526.8,224.0 525.3,208.0 524.0,199.5 522.0,190.7 519.7,184.0 516.0,176.5 514.0,173.7 510.0,169.6 496.0,159.8 492.6,156.0 490.3,152.0 488.9,148.0 488.1,142.0 488.1,138.0 489.2,132.0 490.4,128.0 493.3,122.0 496.0,117.9 500.0,113.2 506.0,107.7 521.7,96.0 531.1,88.0 540.4,78.0 550.8,64.0 560.4,48.0 568.3,32.0 575.4,14.0 580.8,-4.0 846.0,-4.0 846.0,486.0 356.2,486.0 356.0,478.0 354.9,470.0 352.8,462.0 350.7,456.0 346.8,448.0 343.1,442.0 333.5,430.0 325.6,422.0 316.0,413.5 308.0,407.4 302.0,403.7 296.0,400.7 288.0,397.8 280.0,396.1 272.0,395.4 266.0,395.6 260.0,396.5 254.0,398.1 248.0,400.6 242.4,404.0 237.6,408.0 234.0,412.0 229.8,418.0 226.8,424.0 223.8,432.0 221.8,440.0 220.4,448.0 219.4,458.0 219.1,468.0 220.2,486.0 -4.0,486.0Z"/>
<path fill="#d4ff69" d="M588.3,154.0 594.0,153.1 600.0,152.9 606.0,153.2 614.0,154.6 622.0,157.0 628.0,159.5 639.2,166.0 644.4,170.0 650.0,175.3 654.2,180.0 658.6,186.0 662.1,192.0 665.0,198.0 667.2,204.0 669.3,212.0 670.5,220.0 670.8,226.0 670.6,232.0 669.6,240.0 667.6,248.0 665.5,254.0 662.7,260.0 659.2,266.0 654.9,272.0 650.0,277.4 644.8,282.0 640.0,285.6 634.0,289.2 628.0,292.0 622.0,294.1 616.0,295.5 608.0,296.5 602.0,296.5 594.0,295.7 588.0,294.3 580.0,291.4 574.0,288.4 568.0,284.6 562.0,279.8 556.0,273.9 552.0,269.2 546.0,260.8 542.0,253.8 538.0,245.5 535.1,238.0 532.7,230.0 530.9,222.0 529.2,208.0 529.6,196.0 530.6,190.0 532.0,185.7 534.0,181.8 536.0,179.2 538.0,177.5 540.0,176.5 542.0,176.2 546.0,177.0 554.0,180.1 558.0,180.0 560.0,179.3 562.3,178.0 566.0,174.0 571.4,164.0 574.0,160.8 580.0,156.8ZM426.3,232.0 434.0,230.6 440.0,230.5 446.0,231.6 452.0,233.9 458.0,237.9 462.0,241.7 465.3,246.0 468.5,252.0 470.0,256.0 471.4,262.0 472.1,272.0 471.4,280.0 467.8,300.0 467.4,306.0 467.8,312.0 470.7,324.0 480.4,350.0 484.2,362.0 486.8,374.0 487.7,384.0 487.0,396.0 484.7,406.0 482.4,412.0 480.0,416.6 476.5,422.0 473.1,426.0 466.0,432.4 460.6,436.0 456.0,438.3 450.0,440.6 444.0,442.2 432.0,443.6 424.0,443.5 416.0,442.5 406.0,440.5 396.0,437.7 348.0,420.2 340.0,416.6 332.0,411.8 324.0,405.0 312.0,391.6 304.0,384.0 296.0,377.7 269.1,358.0 259.6,350.0 251.5,342.0 243.6,332.0 237.9,322.0 234.4,312.0 233.3,306.0 232.8,300.0 233.4,292.0 235.4,284.0 238.8,276.0 244.1,268.0 251.6,260.0 259.4,254.0 268.0,249.0 278.0,244.8 288.0,241.8 298.0,239.8 308.0,238.7 320.0,238.3 330.0,238.7 342.0,239.9 378.0,245.8 384.0,246.3 390.0,246.2 396.0,245.3 400.0,244.0 418.0,235.1ZM127.1,412.0 132.0,411.8 136.0,412.9 138.3,414.0 142.9,418.0 144.2,420.0 145.8,424.0 146.3,430.0 145.3,434.0 144.0,436.6 140.0,441.1 138.0,442.5 134.0,444.1 128.0,444.4 124.0,443.4 121.2,442.0 116.9,438.0 115.6,436.0 114.1,432.0 113.8,426.0 114.8,422.0 116.0,419.7 120.0,415.2 124.0,412.9Z"/>
<path fill="#ffff00" d="M541.1,192.0 544.0,190.8 550.0,190.3 572.0,191.8 578.0,193.2 582.0,194.8 586.0,197.2 589.3,200.0 592.5,204.0 594.6,208.0 595.9,212.0 596.7,218.0 596.4,222.0 594.9,228.0 591.8,234.0 588.5,238.0 584.0,241.7 579.9,244.0 574.0,246.0 568.0,246.7 562.0,246.2 556.0,244.5 550.0,241.3 546.0,238.2 542.0,234.0 538.0,227.9 535.5,222.0 533.6,214.0 533.4,206.0 534.7,200.0 536.0,197.1 538.0,194.3ZM335.5,282.0 344.0,280.9 354.0,281.1 364.0,283.0 374.0,286.5 384.0,291.8 392.0,297.7 398.6,304.0 404.9,312.0 409.6,320.0 413.6,330.0 415.7,340.0 415.8,350.0 414.3,358.0 411.0,366.0 406.0,372.8 400.0,377.9 392.0,381.8 384.0,383.5 376.0,383.5 366.0,381.3 351.7,376.0 332.0,370.2 324.0,366.7 319.7,364.0 314.7,360.0 310.9,356.0 306.3,350.0 301.3,340.0 298.8,330.0 298.4,324.0 298.9,318.0 300.3,312.0 301.8,308.0 306.4,300.0 309.7,296.0 314.0,292.0 318.0,289.1 324.0,285.8 330.0,283.4Z"/>
<path fill="#ffb700" d="M546.8,196.0 550.0,195.4 554.0,195.4 562.0,197.0 568.4,200.0 571.0,202.0 574.4,206.0 576.7,212.0 577.0,216.0 576.3,220.0 574.6,224.0 573.2,226.0 568.7,230.0 566.0,231.4 562.0,232.6 558.0,232.9 554.0,232.3 550.0,230.9 546.0,228.4 543.4,226.0 540.4,222.0 538.5,218.0 537.5,214.0 537.2,210.0 537.6,206.0 539.1,202.0 540.5,200.0 544.0,197.1ZM350.0,304.0 356.0,303.9 362.0,304.7 368.0,306.6 372.0,308.6 377.2,312.0 381.6,316.0 384.9,320.0 388.4,326.0 390.5,332.0 391.5,338.0 391.2,344.0 390.3,348.0 387.5,354.0 384.4,358.0 380.0,361.6 376.0,363.7 370.0,365.5 362.0,366.0 354.0,365.0 346.0,362.7 339.9,360.0 333.9,356.0 328.2,350.0 324.8,344.0 323.0,338.0 322.8,330.0 324.1,324.0 326.9,318.0 330.0,313.9 336.0,308.9 342.0,305.9Z"/>
<path fill="#ff6e00" d="M550.0,200.0 554.5,200.0 560.0,202.0 562.7,204.0 565.4,208.0 566.4,212.0 565.9,216.0 563.7,220.0 560.0,222.9 556.0,224.1 552.0,223.8 550.0,223.2 546.0,220.8 544.0,218.6 542.5,216.0 541.8,214.0 541.4,210.0 542.3,206.0 543.4,204.0 545.4,202.0ZM351.8,322.0 358.0,321.7 362.0,322.6 365.1,324.0 370.1,328.0 372.0,330.7 373.5,334.0 374.5,340.0 373.1,346.0 370.0,350.6 368.0,352.4 364.0,354.6 358.0,355.7 354.0,355.4 350.0,354.2 346.0,352.0 343.7,350.0 342.0,348.0 339.8,344.0 338.9,340.0 338.9,336.0 340.9,330.0 344.0,326.1 346.0,324.5Z"/>
<g transform="translate(0.0,0.0)">
<g fill="none" stroke="#000" stroke-linejoin="round" stroke-linecap="round">
<path stroke-width="2.15" d="M27.9,2.5 32.8,10.5 47.7,16.7 55.1,22.9 62.5,31.0 92.3,31.5 93.5,45.1 95.2,65.0"/>
<path stroke-width="2.15" d="M95.2,65.0 103.4,71.1 113.3,73.6 122.0,72.4 131.9,83.5 138.1,79.8 148.0,78.6 157.9,71.1 161.6,66.2 159.1,60.0 170.3,56.3 185.1,52.6 197.5,46.4 207.4,42.7 211.9,37.7 212.4,30.3 216.1,21.6 218.6,14.2 224.8,10.5 244.6,8.0 247.1,2.5"/>
<path stroke-width="2.15" d="M247.1,2.5 259.4,4.3 269.4,6.8 284.2,5.5 294.1,6.8 302.8,11.7 316.4,9.2 322.6,16.7 330.0,20.4 341.2,15.4 353.6,9.2 363.5,8.0 373.4,15.4 379.6,11.7 380.8,4.3 387.0,3.0"/>
<path stroke-width="2.15" d="M95.2,65.0 92.3,74.9 89.8,84.8 88.5,94.7 84.8,102.1 77.4,107.1 81.1,110.8 71.2,114.5 68.2,120.7 70.0,129.4 68.7,134.3 74.9,138.0 83.1,140.5 76.2,146.7 71.2,154.1 73.7,164.0 77.4,173.9 81.1,183.8 80.6,196.2 81.1,211.1 96.0,212.3 109.6,213.6 114.6,219.8 115.8,227.2 110.8,235.9 100.9,247.0 91.0,258.1 82.4,267.6"/>
<path stroke-width="2.15" d="M82.4,267.6 98.5,271.8 115.8,278.0 135.6,282.4 160.4,281.7 180.2,279.2 193.8,281.7 202.5,278.0 222.3,276.7 244.6,271.8 264.4,268.1 271.3,265.6 268.1,258.1 270.6,243.3 271.8,233.4 280.5,223.5 291.6,217.3 296.6,218.5 309.0,217.3 320.1,214.8 316.4,209.8 323.8,207.4 333.7,201.2 346.1,199.9 358.5,204.9 368.4,201.2 375.9,195.0"/>
<path stroke-width="2.15" d="M82.4,267.5 91.0,277.4 98.5,287.3 105.9,299.7 115.8,309.6 125.7,314.6 135.6,317.1 145.5,322.0 148.0,334.4 149.2,349.3 150.5,359.2 160.4,359.2 164.1,364.1 161.6,369.1 164.1,374.0 160.4,379.0 148.0,379.0 135.6,381.5 125.7,388.9 118.3,393.8 115.8,403.7 113.3,408.7 109.6,418.6 108.4,431.0 107.1,434.7"/>
<path stroke-width="2.15" d="M-13.0,414.9 1.9,416.1 11.8,418.6 19.2,422.3 31.6,419.8 44.0,422.3 56.3,423.6 66.3,421.1 71.2,426.0 83.6,428.5 96.0,433.5 107.1,434.7"/>
<path stroke-width="1.1" d="M107.1,434.7 115.8,433.5 131.9,429.8 148.0,428.5 160.4,428.0 172.8,428.5 175.2,424.8 185.1,423.6 192.6,421.1 197.5,424.8 209.9,428.5 222.3,424.8 234.7,423.6 247.1,422.3 259.4,421.1 264.4,416.1 276.8,414.9 280.5,421.1 284.2,433.5 283.0,440.9"/>
<path stroke-width="3.0" d="M283.0,440.9 296.6,440.9 304.0,448.3 309.0,455.8 307.7,463.2 311.5,470.6 316.4,476.8 326.3,478.1 333.7,476.8"/>
<path stroke-width="1.1" d="M284.2,439.7 299.1,423.6 306.5,406.2 301.6,388.9 299.1,369.1 300.3,354.2 306.5,341.8 318.9,334.4 333.7,324.5 343.7,318.3 363.5,317.1 372.1,317.1"/>
<path stroke-width="2.15" d="M551.5,209.5 557.0,223.1 544.6,235.5 534.7,245.4 535.9,252.9 524.8,260.3 516.1,266.5 512.4,277.6 507.4,287.5 501.2,296.2 490.1,302.4 479.0,309.8 472.8,319.7 465.3,330.9 460.4,335.8 448.0,337.1 435.6,340.8 428.2,342.0 422.0,337.1 415.8,330.9 403.4,338.3 393.5,349.5 383.6,359.4 386.1,369.3 396.0,374.2 403.4,379.2 404.6,389.1 400.9,399.0 403.4,406.4 410.8,411.4 422.0,412.6 423.2,423.8 428.2,433.7 433.1,443.6 436.8,456.0 430.7,458.4 425.7,462.2 410.8,460.9 400.9,464.6 386.1,463.4 371.2,460.9 356.3,462.2 353.9,470.8 341.5,472.1 334.1,477.0"/>
<path stroke-width="1.1" d="M398.5,249.9 398.5,260.8 393.5,267.7 384.8,275.2 383.6,282.6 389.8,290.0 383.6,299.9 378.6,309.8 372.4,317.3 393.5,324.7 415.8,330.9"/>
<path stroke-width="2.15" d="M373.2,193.2 372.5,184.3 373.9,175.4 377.7,168.0 379.1,159.1 382.1,154.6 391.0,152.4 399.9,148.7 408.9,145.7 408.9,139.7 404.4,133.8 399.9,129.3 394.0,124.9 394.7,121.2 404.4,121.9 416.3,124.1 426.7,123.4 434.1,118.9 436.4,113.0 434.1,107.1 437.1,99.6 444.5,92.2 452.0,84.8 455.7,77.3 454.9,69.9"/>
<path stroke-width="2.15" d="M454.3,73.9 450.6,64.6 445.0,55.3 440.4,50.7 448.7,44.2 459.9,36.8 471.0,27.5 482.2,23.8 497.0,21.9 511.9,21.0 524.9,22.8 534.2,23.8 543.5,20.1 552.8,15.4 554.6,12.6"/>
<path stroke-width="1.1" d="M373.2,193.2 382.1,191.8 391.0,189.5 394.0,194.7 396.2,203.6 399.9,211.1 405.9,210.3 408.9,218.5 407.4,228.9 402.9,237.8 398.5,249.9"/>
<path stroke-width="1.1" d="M408.9,218.5 416.3,215.5 425.2,214.1 429.7,203.6 434.1,193.2 437.1,184.3 443.0,176.9 438.6,171.0 437.1,162.0 441.6,156.1 447.5,154.6 450.5,150.9 456.4,153.1 457.9,145.7 465.3,139.7 471.3,132.3 478.7,124.9 484.7,121.9 492.1,126.4 498.0,132.3 502.5,135.3 512.9,129.3 518.8,124.9 524.8,114.5 527.0,102.6"/>
<path stroke-width="2.15" d="M448.7,1.5 447.8,14.5 451.5,25.6 458.0,29.3 465.5,26.6 474.7,20.1 485.9,16.3 497.0,10.8 508.2,5.2 519.3,3.3 524.9,7.0 530.5,9.8 545.3,7.0 560.2,6.1 567.6,8.9 562.1,11.7 554.6,12.6"/>
<path stroke-width="2.15" d="M367.0,7.0 376.3,10.8 378.1,5.2 380.0,1.5"/>
<path stroke-width="2.15" d="M554.6,12.6 563.9,16.3 571.3,15.4 580.6,20.1 589.9,23.8 599.2,29.3 604.8,36.8 608.5,44.2 606.6,49.8 614.1,55.3 623.4,57.2 630.8,62.8 640.1,66.5 651.2,70.2 662.4,72.1 665.5,72.4"/>
<path stroke-width="1.1" d="M665.5,72.4 651.8,82.3 639.4,89.7 627.1,97.2 614.7,102.1 602.3,104.6 589.9,105.8 580.0,102.1 570.1,100.9 562.7,94.7 557.7,88.5 552.8,84.8"/>
<path stroke-width="1.1" d="M526.8,23.8 515.6,29.3 504.5,29.3 500.8,35.8 487.8,42.3 485.9,51.6 487.8,57.2 497.0,59.1 508.2,60.9 515.6,68.4 524.9,70.2 528.6,75.8 534.2,81.4 543.5,86.9 552.8,85.1 558.3,92.5 563.9,96.2"/>
<path stroke-width="1.1" d="M534.2,81.4 528.6,92.5 524.9,99.9 519.3,105.5 515.6,114.8 519.3,125.9 523.0,137.1 524.9,150.1 534.2,155.7 543.5,159.4 552.8,163.1 560.2,166.8"/>
<path stroke-width="1.1" d="M539.8,88.8 549.1,94.4 554.6,99.9 550.9,107.4 541.6,114.8 536.1,122.2 539.8,133.4 537.9,142.7 543.5,151.9 552.8,161.2"/>
<path stroke-width="2.15" d="M560.2,166.8 571.3,174.2 582.5,179.8 595.5,174.2 604.8,165.0 599.2,159.4 614.1,155.7 623.4,150.1 632.7,153.8 641.9,159.4 653.1,163.1 667.0,159.4"/>
<path stroke-width="2.15" d="M614.7,156.6 624.6,150.4 634.5,151.6 641.9,159.1 651.8,162.8 661.7,161.6 667.9,157.8 671.6,164.0 676.6,170.2 684.0,169.0"/>
<path stroke-width="2.15" d="M582.5,179.8 571.3,191.0 560.2,200.2 556.5,209.5 560.2,218.8"/>
</g>
<circle cx="452.4" cy="122.7" r="4.6" fill="#000"/>
<circle cx="506.2" cy="136.8" r="4.6" fill="#000"/>
<circle cx="555.7" cy="175.2" r="4.6" fill="#000"/>
<circle cx="551.5" cy="209.8" r="4.6" fill="#000"/>
<circle cx="501.5" cy="214.8" r="4.6" fill="#000"/>
<circle cx="447.5" cy="255.2" r="4.6" fill="#000"/>
<circle cx="356.0" cy="341.3" r="4.6" fill="#000"/>
<circle cx="341.7" cy="393.1" r="4.6" fill="#000"/>
<circle cx="298.6" cy="440.4" r="4.6" fill="#000"/>
<circle cx="131.9" cy="428.5" r="4.6" fill="#000"/>
<g font-family='"Liberation Sans",Arial,Helvetica,sans-serif' font-size="24" font-weight="bold" fill="#000">
<text x="459.6" y="110.4">0.11</text>
<text x="513.2" y="124.3">-0.02</text>
<text x="562.6" y="164.4">-0.02</text>
<text x="556.5" y="231.1">-0.11</text>
<text x="508.9" y="202.7">0.12</text>
<text x="454.9" y="242.2">-0.04</text>
<text x="363.9" y="329.2">-0.09</text>
<text x="348.6" y="380.4">-0.03</text>
<text x="304.9" y="426.4">0.05</text>
<text x="138.8" y="415.8">-0.02</text>
</g>
<g font-family='"Liberation Serif","Times New Roman",Times,serif' font-size="26" font-weight="bold" fill="#000">
<text transform="translate(294.5,180.5) rotate(-42)" letter-spacing="2.1">Afghanistan</text>
<text transform="translate(600,12) rotate(24)" letter-spacing="1.5">China</text>
<text transform="translate(74,368.5)" letter-spacing="1.2">Iran</text>
<text transform="translate(516,335) rotate(-45)" letter-spacing="1.5">India</text>
</g>
<text x="104" y="457" font-family='"Liberation Sans",Arial,Helvetica,sans-serif' font-size="29" font-weight="bold">Arabian Sea</text>
</g>
</g>
<text transform="translate(829.1,59.0)" font-family='"Liberation Sans",Arial,Helvetica,sans-serif' font-size="49" font-weight="bold" text-anchor="end">(i)</text>
<text transform="translate(830.3,455.0)" font-family='"Liberation Sans",Arial,Helvetica,sans-serif' font-size="50" font-weight="bold" text-anchor="end">Seasonal</text>
<rect x="0" y="0" width="842.1" height="481.8" fill="none" stroke="#000" stroke-width="4.4"/>
</g>
<g transform="translate(1295.2,2145.9)">
<clipPath id="c9"><rect x="0" y="0" width="842.1" height="481.8"/></clipPath>
<g clip-path="url(#c9)">
<rect x="0" y="0" width="842.1" height="481.8" fill="#2a8fc6"/>
<path fill="#69a3b2" d="M-4.0,-4.0 846.0,-4.0 846.0,486.0 210.1,486.0 213.4,460.0 214.7,432.0 214.4,420.0 213.5,408.0 212.2,398.0 210.2,388.0 207.4,378.0 203.8,368.0 200.0,359.3 195.1,350.0 190.0,341.9 184.0,333.7 178.0,326.6 170.0,318.4 162.0,311.3 154.0,305.2 144.0,298.7 134.0,293.2 124.0,288.5 112.0,284.0 102.0,281.1 90.0,278.4 78.0,276.6 66.0,275.6 54.0,275.5 42.0,276.2 30.0,277.7 18.0,280.1 6.0,283.3 -4.0,286.7Z"/>
<path fill="#93bea0" d="M-4.0,-4.0 846.0,-4.0 846.0,486.0 257.1,486.0 253.5,476.0 250.2,464.0 248.4,454.0 247.5,444.0 247.6,426.0 250.6,394.0 251.3,378.0 250.5,360.0 248.1,340.0 243.8,318.0 237.6,296.0 229.2,274.0 219.6,254.0 212.0,240.4 202.9,226.0 193.1,212.0 182.0,197.4 170.0,182.8 158.0,169.2 144.0,154.3 130.0,140.3 100.0,112.9 84.0,99.4 66.0,85.1 32.0,60.3 -4.0,36.9Z"/>
<path fill="#c0d48c" d="M190.0,-4.0 846.0,-4.0 846.0,486.0 309.7,486.0 298.0,481.8 288.0,476.0 280.0,468.9 276.0,464.0 273.5,460.0 271.6,456.0 269.5,450.0 267.9,440.0 268.2,432.0 270.0,423.4 272.6,416.0 279.6,400.0 282.8,390.0 284.6,380.0 285.6,370.0 286.6,346.0 286.5,298.0 285.1,278.0 282.2,260.0 277.2,240.0 269.5,216.0 260.7,192.0 231.9,118.0 217.8,80.0 203.2,38.0Z"/>
<path fill="#e4ec76" d="M270.3,-4.0 846.0,-4.0 846.0,486.0 501.0,486.0 456.0,457.6 434.0,445.1 424.0,440.5 414.0,436.9 406.0,435.0 396.0,433.9 386.0,434.0 362.0,436.2 342.0,436.9 336.0,437.7 332.0,439.4 330.0,441.0 322.1,450.0 317.6,454.0 314.0,456.2 308.0,458.4 302.0,458.9 298.0,458.4 294.0,457.1 289.2,454.0 286.0,450.7 284.3,448.0 282.3,442.0 282.1,436.0 283.9,430.0 286.2,426.0 290.0,421.9 294.0,419.0 304.0,413.6 306.0,412.0 308.0,407.9 308.4,404.0 308.4,386.0 311.7,360.0 312.7,330.0 314.0,319.2 318.2,294.0 318.8,280.0 317.7,268.0 314.6,252.0 290.7,164.0 284.3,136.0 279.4,110.0 274.9,80.0 272.1,52.0 270.5,24.0Z"/>
<path fill="#fde358" d="M293.4,-4.0 846.0,-4.0 846.0,486.0 541.6,486.0 522.0,475.5 500.0,462.7 436.0,422.2 424.0,415.7 414.0,411.5 408.0,409.8 402.0,408.8 396.0,408.8 392.0,409.3 384.0,411.6 364.0,419.5 356.0,421.4 350.0,421.9 344.0,421.6 338.0,420.2 332.0,417.7 326.8,414.0 322.0,408.4 318.8,402.0 317.1,396.0 316.5,388.0 317.5,380.0 321.9,362.0 322.1,356.0 321.3,338.0 322.0,328.7 324.0,318.6 330.0,296.0 331.0,288.0 330.8,280.0 329.5,270.0 326.8,258.0 312.0,205.1 304.8,176.0 299.1,148.0 295.1,122.0 291.8,90.0 290.5,58.0 291.0,26.0ZM450.0,115.7 447.5,118.0 446.9,120.0 447.0,122.0 448.0,124.0 450.0,125.4 452.0,125.9 454.0,125.5 456.2,124.0 457.2,122.0 457.3,120.0 456.7,118.0 454.0,115.6 452.0,115.3ZM295.8,428.0 300.0,427.0 302.0,427.0 305.8,428.0 308.8,430.0 311.5,434.0 312.1,436.0 312.1,440.0 310.7,444.0 308.0,447.2 304.0,449.5 300.0,450.2 296.0,449.3 292.0,446.7 290.0,444.0 288.8,440.0 288.8,438.0 289.7,434.0 292.0,430.6Z"/>
<path fill="#fcb045" d="M319.0,-4.0 846.0,-4.0 846.0,486.0 599.5,486.0 578.0,478.8 558.0,470.9 536.0,461.0 516.0,450.7 496.0,439.2 476.0,426.4 458.0,414.0 424.0,389.3 414.0,382.6 402.0,376.1 396.0,374.0 392.0,373.2 386.0,373.0 380.0,373.9 376.0,375.3 372.0,377.7 370.0,380.0 369.1,382.0 366.0,392.0 363.1,398.0 360.0,402.0 357.9,404.0 354.0,406.5 348.0,408.5 342.0,408.6 336.0,406.6 332.0,403.8 328.9,400.0 327.0,396.0 326.2,392.0 326.6,386.0 328.0,382.0 330.0,378.3 338.9,368.0 339.7,366.0 339.8,364.0 338.7,360.0 335.2,352.0 333.3,346.0 332.5,340.0 332.6,334.0 333.8,328.0 335.9,322.0 345.2,304.0 346.8,298.0 347.1,292.0 346.1,284.0 344.2,276.0 328.3,226.0 320.3,196.0 314.4,166.0 310.6,136.0 309.4,120.0 308.7,102.0 308.8,84.0 309.5,66.0 310.9,48.0 313.0,30.0 315.8,12.0ZM444.0,103.7 440.0,106.2 438.0,108.2 435.7,112.0 434.4,118.0 435.5,124.0 437.7,128.0 439.4,130.0 444.0,133.1 446.3,134.0 450.0,134.6 456.0,133.8 459.5,132.0 462.0,130.0 464.0,127.4 465.6,124.0 466.5,118.0 465.0,112.0 462.0,107.5 460.0,105.7 456.0,103.4 450.0,102.4Z"/>
<path fill="#f98735" d="M353.5,-4.0 846.0,-4.0 846.0,426.9 822.0,438.6 798.0,448.1 772.0,456.2 746.0,462.1 720.0,466.1 692.0,468.2 664.0,468.1 638.0,466.0 610.0,461.6 584.0,455.4 558.0,447.1 534.0,437.3 510.0,425.4 488.0,412.5 466.0,397.2 444.8,380.0 425.7,362.0 407.4,342.0 388.5,318.0 372.0,294.3 360.0,273.4 350.0,251.9 341.9,230.0 335.1,206.0 330.7,184.0 327.9,160.0 327.1,136.0 328.4,110.0 332.0,80.6 337.4,52.0 344.5,24.0ZM440.0,89.9 436.0,91.4 431.8,94.0 428.0,97.6 425.1,102.0 423.4,106.0 422.3,112.0 422.6,118.0 423.7,122.0 426.6,128.0 429.7,132.0 434.0,135.7 437.9,138.0 443.9,140.0 448.0,140.5 454.0,140.0 458.0,138.9 462.0,136.9 465.7,134.0 469.1,130.0 471.3,126.0 472.7,122.0 473.4,116.0 472.9,110.0 471.7,106.0 469.8,102.0 466.0,97.0 462.0,93.6 458.0,91.3 454.0,89.9 450.0,89.1 444.0,89.1Z"/>
<path fill="#f05a24" d="M618.7,88.0 630.0,87.3 636.0,87.7 644.0,89.2 652.0,91.5 658.0,93.7 670.4,100.0 682.2,108.0 694.0,118.6 704.0,130.0 709.7,138.0 714.0,145.1 721.4,160.0 726.4,174.0 730.0,188.8 732.0,204.0 732.4,220.0 731.1,236.0 728.0,252.0 723.0,268.0 717.0,282.0 709.2,296.0 700.9,308.0 690.8,320.0 680.5,330.0 668.0,340.1 654.0,349.2 640.0,356.3 625.7,362.0 610.0,366.5 596.0,369.1 580.0,370.5 564.0,370.4 548.0,368.7 532.0,365.3 518.0,360.8 508.0,356.7 500.0,352.9 484.0,343.1 476.0,337.1 470.0,331.9 464.0,325.9 457.5,318.0 453.7,312.0 451.7,308.0 449.8,302.0 449.4,298.0 449.9,294.0 451.4,290.0 460.0,276.2 462.1,272.0 464.0,266.2 464.7,262.0 464.6,256.0 463.7,252.0 462.1,248.0 459.6,244.0 456.0,240.3 452.0,237.6 446.0,235.1 440.0,234.1 434.0,234.2 418.0,237.4 412.0,237.9 406.0,236.7 400.0,233.0 396.0,228.6 392.0,222.3 389.2,216.0 387.5,210.0 386.2,202.0 386.1,196.0 387.0,188.0 388.8,182.0 390.7,178.0 393.4,174.0 398.0,169.4 402.0,166.7 406.0,164.8 414.0,162.4 448.0,157.7 458.0,155.3 474.0,150.1 480.0,149.0 486.0,149.5 498.0,152.9 506.0,154.0 512.0,153.9 526.0,151.4 530.0,151.3 532.2,152.0 534.0,153.7 535.0,156.0 537.7,174.0 539.8,180.0 544.6,190.0 544.9,194.0 542.3,202.0 541.6,206.0 541.8,210.0 543.2,214.0 546.0,218.2 548.0,219.9 552.0,222.1 558.0,223.2 562.0,222.8 566.0,221.6 572.0,218.0 577.8,212.0 597.0,188.0 600.7,182.0 603.4,176.0 605.3,170.0 606.5,164.0 607.0,158.0 606.6,150.0 605.5,144.0 603.9,138.0 595.1,116.0 594.2,110.0 594.6,106.0 597.3,100.0 600.0,96.8 603.3,94.0 610.0,90.4Z"/>
<path fill="#e6141a" d="M490.0,176.0 498.0,176.0 504.0,176.8 510.0,178.7 514.0,180.8 518.0,184.0 522.0,188.5 525.2,194.0 527.3,200.0 529.0,208.0 532.6,232.0 532.9,240.0 532.3,246.0 530.6,252.0 526.8,258.0 522.0,262.2 516.0,264.8 510.0,265.5 506.0,265.1 502.0,264.1 496.0,261.2 490.0,256.7 482.0,248.1 467.0,228.0 460.7,218.0 458.1,212.0 456.9,206.0 457.2,200.0 459.3,194.0 463.6,188.0 470.0,182.7 476.0,179.5 482.0,177.4Z"/>
<g transform="translate(0.2,-1.6)">
<g fill="none" stroke="#000" stroke-linejoin="round" stroke-linecap="round">
<path stroke-width="2.15" d="M27.9,2.5 32.8,10.5 47.7,16.7 55.1,22.9 62.5,31.0 92.3,31.5 93.5,45.1 95.2,65.0"/>
<path stroke-width="2.15" d="M95.2,65.0 103.4,71.1 113.3,73.6 122.0,72.4 131.9,83.5 138.1,79.8 148.0,78.6 157.9,71.1 161.6,66.2 159.1,60.0 170.3,56.3 185.1,52.6 197.5,46.4 207.4,42.7 211.9,37.7 212.4,30.3 216.1,21.6 218.6,14.2 224.8,10.5 244.6,8.0 247.1,2.5"/>
<path stroke-width="2.15" d="M247.1,2.5 259.4,4.3 269.4,6.8 284.2,5.5 294.1,6.8 302.8,11.7 316.4,9.2 322.6,16.7 330.0,20.4 341.2,15.4 353.6,9.2 363.5,8.0 373.4,15.4 379.6,11.7 380.8,4.3 387.0,3.0"/>
<path stroke-width="2.15" d="M95.2,65.0 92.3,74.9 89.8,84.8 88.5,94.7 84.8,102.1 77.4,107.1 81.1,110.8 71.2,114.5 68.2,120.7 70.0,129.4 68.7,134.3 74.9,138.0 83.1,140.5 76.2,146.7 71.2,154.1 73.7,164.0 77.4,173.9 81.1,183.8 80.6,196.2 81.1,211.1 96.0,212.3 109.6,213.6 114.6,219.8 115.8,227.2 110.8,235.9 100.9,247.0 91.0,258.1 82.4,267.6"/>
<path stroke-width="2.15" d="M82.4,267.6 98.5,271.8 115.8,278.0 135.6,282.4 160.4,281.7 180.2,279.2 193.8,281.7 202.5,278.0 222.3,276.7 244.6,271.8 264.4,268.1 271.3,265.6 268.1,258.1 270.6,243.3 271.8,233.4 280.5,223.5 291.6,217.3 296.6,218.5 309.0,217.3 320.1,214.8 316.4,209.8 323.8,207.4 333.7,201.2 346.1,199.9 358.5,204.9 368.4,201.2 375.9,195.0"/>
<path stroke-width="2.15" d="M82.4,267.5 91.0,277.4 98.5,287.3 105.9,299.7 115.8,309.6 125.7,314.6 135.6,317.1 145.5,322.0 148.0,334.4 149.2,349.3 150.5,359.2 160.4,359.2 164.1,364.1 161.6,369.1 164.1,374.0 160.4,379.0 148.0,379.0 135.6,381.5 125.7,388.9 118.3,393.8 115.8,403.7 113.3,408.7 109.6,418.6 108.4,431.0 107.1,434.7"/>
<path stroke-width="2.15" d="M-13.0,414.9 1.9,416.1 11.8,418.6 19.2,422.3 31.6,419.8 44.0,422.3 56.3,423.6 66.3,421.1 71.2,426.0 83.6,428.5 96.0,433.5 107.1,434.7"/>
<path stroke-width="1.1" d="M107.1,434.7 115.8,433.5 131.9,429.8 148.0,428.5 160.4,428.0 172.8,428.5 175.2,424.8 185.1,423.6 192.6,421.1 197.5,424.8 209.9,428.5 222.3,424.8 234.7,423.6 247.1,422.3 259.4,421.1 264.4,416.1 276.8,414.9 280.5,421.1 284.2,433.5 283.0,440.9"/>
<path stroke-width="3.0" d="M283.0,440.9 296.6,440.9 304.0,448.3 309.0,455.8 307.7,463.2 311.5,470.6 316.4,476.8 326.3,478.1 333.7,476.8"/>
<path stroke-width="1.1" d="M284.2,439.7 299.1,423.6 306.5,406.2 301.6,388.9 299.1,369.1 300.3,354.2 306.5,341.8 318.9,334.4 333.7,324.5 343.7,318.3 363.5,317.1 372.1,317.1"/>
<path stroke-width="2.15" d="M551.5,209.5 557.0,223.1 544.6,235.5 534.7,245.4 535.9,252.9 524.8,260.3 516.1,266.5 512.4,277.6 507.4,287.5 501.2,296.2 490.1,302.4 479.0,309.8 472.8,319.7 465.3,330.9 460.4,335.8 448.0,337.1 435.6,340.8 428.2,342.0 422.0,337.1 415.8,330.9 403.4,338.3 393.5,349.5 383.6,359.4 386.1,369.3 396.0,374.2 403.4,379.2 404.6,389.1 400.9,399.0 403.4,406.4 410.8,411.4 422.0,412.6 423.2,423.8 428.2,433.7 433.1,443.6 436.8,456.0 430.7,458.4 425.7,462.2 410.8,460.9 400.9,464.6 386.1,463.4 371.2,460.9 356.3,462.2 353.9,470.8 341.5,472.1 334.1,477.0"/>
<path stroke-width="1.1" d="M398.5,249.9 398.5,260.8 393.5,267.7 384.8,275.2 383.6,282.6 389.8,290.0 383.6,299.9 378.6,309.8 372.4,317.3 393.5,324.7 415.8,330.9"/>
<path stroke-width="2.15" d="M373.2,193.2 372.5,184.3 373.9,175.4 377.7,168.0 379.1,159.1 382.1,154.6 391.0,152.4 399.9,148.7 408.9,145.7 408.9,139.7 404.4,133.8 399.9,129.3 394.0,124.9 394.7,121.2 404.4,121.9 416.3,124.1 426.7,123.4 434.1,118.9 436.4,113.0 434.1,107.1 437.1,99.6 444.5,92.2 452.0,84.8 455.7,77.3 454.9,69.9"/>
<path stroke-width="2.15" d="M454.3,73.9 450.6,64.6 445.0,55.3 440.4,50.7 448.7,44.2 459.9,36.8 471.0,27.5 482.2,23.8 497.0,21.9 511.9,21.0 524.9,22.8 534.2,23.8 543.5,20.1 552.8,15.4 554.6,12.6"/>
<path stroke-width="1.1" d="M373.2,193.2 382.1,191.8 391.0,189.5 394.0,194.7 396.2,203.6 399.9,211.1 405.9,210.3 408.9,218.5 407.4,228.9 402.9,237.8 398.5,249.9"/>
<path stroke-width="1.1" d="M408.9,218.5 416.3,215.5 425.2,214.1 429.7,203.6 434.1,193.2 437.1,184.3 443.0,176.9 438.6,171.0 437.1,162.0 441.6,156.1 447.5,154.6 450.5,150.9 456.4,153.1 457.9,145.7 465.3,139.7 471.3,132.3 478.7,124.9 484.7,121.9 492.1,126.4 498.0,132.3 502.5,135.3 512.9,129.3 518.8,124.9 524.8,114.5 527.0,102.6"/>
<path stroke-width="2.15" d="M448.7,1.5 447.8,14.5 451.5,25.6 458.0,29.3 465.5,26.6 474.7,20.1 485.9,16.3 497.0,10.8 508.2,5.2 519.3,3.3 524.9,7.0 530.5,9.8 545.3,7.0 560.2,6.1 567.6,8.9 562.1,11.7 554.6,12.6"/>
<path stroke-width="2.15" d="M367.0,7.0 376.3,10.8 378.1,5.2 380.0,1.5"/>
<path stroke-width="2.15" d="M554.6,12.6 563.9,16.3 571.3,15.4 580.6,20.1 589.9,23.8 599.2,29.3 604.8,36.8 608.5,44.2 606.6,49.8 614.1,55.3 623.4,57.2 630.8,62.8 640.1,66.5 651.2,70.2 662.4,72.1 665.5,72.4"/>
<path stroke-width="1.1" d="M665.5,72.4 651.8,82.3 639.4,89.7 627.1,97.2 614.7,102.1 602.3,104.6 589.9,105.8 580.0,102.1 570.1,100.9 562.7,94.7 557.7,88.5 552.8,84.8"/>
<path stroke-width="1.1" d="M526.8,23.8 515.6,29.3 504.5,29.3 500.8,35.8 487.8,42.3 485.9,51.6 487.8,57.2 497.0,59.1 508.2,60.9 515.6,68.4 524.9,70.2 528.6,75.8 534.2,81.4 543.5,86.9 552.8,85.1 558.3,92.5 563.9,96.2"/>
<path stroke-width="1.1" d="M534.2,81.4 528.6,92.5 524.9,99.9 519.3,105.5 515.6,114.8 519.3,125.9 523.0,137.1 524.9,150.1 534.2,155.7 543.5,159.4 552.8,163.1 560.2,166.8"/>
<path stroke-width="1.1" d="M539.8,88.8 549.1,94.4 554.6,99.9 550.9,107.4 541.6,114.8 536.1,122.2 539.8,133.4 537.9,142.7 543.5,151.9 552.8,161.2"/>
<path stroke-width="2.15" d="M560.2,166.8 571.3,174.2 582.5,179.8 595.5,174.2 604.8,165.0 599.2,159.4 614.1,155.7 623.4,150.1 632.7,153.8 641.9,159.4 653.1,163.1 667.0,159.4"/>
<path stroke-width="2.15" d="M614.7,156.6 624.6,150.4 634.5,151.6 641.9,159.1 651.8,162.8 661.7,161.6 667.9,157.8 671.6,164.0 676.6,170.2 684.0,169.0"/>
<path stroke-width="2.15" d="M582.5,179.8 571.3,191.0 560.2,200.2 556.5,209.5 560.2,218.8"/>
</g>
<circle cx="452.4" cy="122.7" r="4.6" fill="#000"/>
<circle cx="506.2" cy="136.8" r="4.6" fill="#000"/>
<circle cx="555.7" cy="175.2" r="4.6" fill="#000"/>
<circle cx="551.5" cy="209.8" r="4.6" fill="#000"/>
<circle cx="501.5" cy="214.8" r="4.6" fill="#000"/>
<circle cx="447.5" cy="255.2" r="4.6" fill="#000"/>
<circle cx="356.0" cy="341.3" r="4.6" fill="#000"/>
<circle cx="341.7" cy="393.1" r="4.6" fill="#000"/>
<circle cx="298.6" cy="440.4" r="4.6" fill="#000"/>
<circle cx="131.9" cy="428.5" r="4.6" fill="#000"/>
<g font-family='"Liberation Sans",Arial,Helvetica,sans-serif' font-size="24" font-weight="bold" fill="#000">
<text x="459.6" y="110.4">0.001</text>
<text x="558.7" y="164.3" text-anchor="end">-0.001</text>
<text x="562.6" y="164.4">0.000</text>
<text x="563.1" y="193.4">-0.001</text>
<text x="486.7" y="201.1">-0.028</text>
<text x="454.9" y="242.2">0.000</text>
<text x="363.9" y="329.2">0.000</text>
<text x="348.6" y="380.4">0.000</text>
<text x="304.9" y="426.4">0.000</text>
<text x="138.8" y="415.8">0.085</text>
</g>
<g font-family='"Liberation Serif","Times New Roman",Times,serif' font-size="26" font-weight="bold" fill="#000">
<text transform="translate(288.5,181) rotate(-42)" letter-spacing="2.1">Afghanistan</text>
<text transform="translate(611,16) rotate(24)" letter-spacing="1.5">China</text>
<text transform="translate(59.5,363.5)" letter-spacing="1.2">Iran</text>
<text transform="translate(516,337) rotate(-45)" letter-spacing="1.5">India</text>
</g>
<text x="112" y="457" font-family='"Liberation Sans",Arial,Helvetica,sans-serif' font-size="29" font-weight="bold">Arabian Sea</text>
</g>
</g>
<text transform="translate(829.1,59.0)" font-family='"Liberation Sans",Arial,Helvetica,sans-serif' font-size="49" font-weight="bold" text-anchor="end">(j)</text>
<text transform="translate(830.3,455.0)" font-family='"Liberation Sans",Arial,Helvetica,sans-serif' font-size="50" font-weight="bold" text-anchor="end">Seasonal</text>
<rect x="0" y="0" width="842.1" height="481.8" fill="none" stroke="#000" stroke-width="4.4"/>
</g>
<g transform="translate(333.0,2663.8)">
<clipPath id="c10"><rect x="0" y="0" width="842.1" height="481.8"/></clipPath>
<g clip-path="url(#c10)">
<rect x="0" y="0" width="842.1" height="481.8" fill="#0000ff"/>
<path fill="#3860ff" d="M-4.0,-4.0 846.0,-4.0 846.0,486.0 -4.0,486.0ZM118.0,391.8 111.2,394.0 104.1,398.0 98.0,403.4 94.0,408.5 90.2,416.0 88.4,422.0 87.6,430.0 88.4,438.0 91.0,446.0 94.3,452.0 99.4,458.0 104.2,462.0 111.5,466.0 118.0,468.0 126.0,468.9 134.0,468.1 142.0,465.5 148.0,462.2 154.0,457.1 158.2,452.0 162.0,445.0 164.3,438.0 165.2,430.0 164.5,422.0 162.0,414.0 158.7,408.0 154.0,402.2 148.0,397.2 142.0,394.0 134.0,391.5 126.0,390.8Z"/>
<path fill="#38acff" d="M-4.0,-4.0 846.0,-4.0 846.0,486.0 159.7,486.0 167.6,478.0 173.3,470.0 178.4,460.0 181.8,450.0 183.8,440.0 184.2,428.0 183.1,418.0 180.4,408.0 176.0,398.0 170.8,390.0 164.0,382.3 156.0,375.7 148.0,370.9 138.0,366.9 128.0,364.6 118.0,363.8 108.0,364.5 98.0,366.7 88.0,370.6 78.0,376.4 69.0,384.0 62.0,392.0 56.9,400.0 52.3,410.0 49.5,420.0 48.3,430.0 48.6,442.0 50.6,452.0 54.1,462.0 58.3,470.0 64.1,478.0 71.9,486.0 -4.0,486.0Z"/>
<path fill="#00ffff" d="M-4.0,-4.0 846.0,-4.0 846.0,486.0 190.7,486.0 195.4,474.0 199.1,460.0 201.3,444.0 201.7,430.0 200.5,416.0 197.9,404.0 193.7,392.0 188.6,382.0 181.7,372.0 172.6,362.0 162.0,353.3 152.0,347.1 140.0,341.7 128.0,338.1 116.0,336.0 104.0,335.4 92.0,336.2 80.0,338.4 68.0,342.2 56.0,347.6 45.4,354.0 35.1,362.0 27.0,370.0 19.0,380.0 11.6,392.0 6.2,404.0 2.0,418.0 -0.2,432.0 -0.5,446.0 1.0,460.0 4.5,474.0 9.3,486.0 -4.0,486.0ZM334.0,379.4 330.0,381.2 328.0,382.6 326.0,384.7 323.9,388.0 322.6,394.0 323.2,398.0 324.8,402.0 327.5,406.0 330.0,408.5 334.0,411.2 338.0,412.9 342.0,413.7 346.0,413.7 352.0,411.8 356.7,408.0 358.1,406.0 359.8,402.0 360.4,396.0 359.5,392.0 358.0,388.7 354.2,384.0 351.6,382.0 348.0,380.1 344.0,378.9 340.0,378.5ZM500.0,203.8 496.0,204.8 492.0,207.8 489.8,212.0 489.4,216.0 490.4,220.0 493.3,224.0 496.0,225.9 498.0,226.6 502.0,227.0 506.0,225.8 508.0,224.4 510.0,222.1 511.6,218.0 511.8,214.0 510.6,210.0 508.0,206.6 504.0,204.3Z"/>
<path fill="#96ffb4" d="M-4.0,-4.0 846.0,-4.0 846.0,486.0 228.1,486.0 228.7,438.0 228.3,418.0 226.7,402.0 223.2,388.0 219.4,378.0 215.5,370.0 209.6,360.0 204.0,352.0 197.5,344.0 190.0,335.9 182.0,328.5 174.0,322.0 164.0,315.1 154.0,309.2 144.0,304.3 134.0,300.2 124.0,296.9 112.0,293.8 100.0,291.6 88.0,290.3 76.0,289.9 64.0,290.4 52.0,291.6 40.0,293.8 28.0,296.8 18.0,300.1 6.0,304.9 -4.0,309.7ZM320.0,371.9 314.8,374.0 309.0,378.0 305.5,382.0 302.9,388.0 302.5,392.0 303.7,398.0 305.5,402.0 309.8,408.0 318.0,416.7 330.0,427.3 338.0,432.9 344.0,435.8 348.0,437.0 352.0,437.6 358.0,437.3 364.0,435.4 369.3,432.0 373.2,428.0 376.0,423.9 378.5,418.0 379.7,412.0 379.8,406.0 378.7,400.0 376.5,394.0 372.7,388.0 366.8,382.0 361.2,378.0 354.0,374.5 348.0,372.4 340.0,370.7 334.0,370.1 326.0,370.6ZM492.0,197.8 488.2,200.0 485.9,202.0 484.0,204.3 481.9,208.0 480.8,212.0 480.6,216.0 482.0,222.4 483.7,226.0 486.8,230.0 490.0,232.9 494.0,235.3 498.0,236.6 502.0,236.9 508.0,235.5 512.0,232.8 514.0,230.6 516.0,227.4 517.3,224.0 518.2,220.0 518.4,216.0 517.9,212.0 516.7,208.0 514.6,204.0 512.0,201.0 510.0,199.4 506.0,197.3 500.0,196.2 496.0,196.6Z"/>
<path fill="#d4ff69" d="M-4.0,-4.0 846.0,-4.0 846.0,486.0 435.0,486.0 435.6,468.0 434.6,452.0 432.4,438.0 428.6,424.0 423.7,412.0 416.6,400.0 411.9,394.0 408.0,390.0 400.0,383.5 392.0,378.9 382.0,374.9 342.5,364.0 307.1,352.0 288.0,344.4 276.0,338.4 266.1,332.0 256.0,324.1 216.0,287.3 202.6,276.0 190.0,266.3 176.0,256.4 160.0,246.3 144.0,237.2 128.0,229.2 114.0,223.0 98.0,216.7 82.0,211.3 64.0,206.1 48.0,202.3 30.0,198.9 14.0,196.6 -4.0,194.9ZM490.0,189.7 486.0,191.3 481.5,194.0 476.9,198.0 473.9,202.0 471.9,206.0 470.5,212.0 470.5,216.0 471.8,222.0 474.4,228.0 479.7,236.0 484.0,240.9 490.0,246.0 496.0,249.3 500.0,250.6 506.0,250.9 510.0,250.1 514.0,248.2 518.0,244.7 521.2,240.0 523.5,234.0 524.6,228.0 524.8,220.0 524.1,212.0 522.1,204.0 520.0,199.4 517.6,196.0 514.0,192.6 510.0,190.3 506.0,188.9 500.0,188.2 494.0,188.7Z"/>
<path fill="#ffff00" d="M90.3,-4.0 846.0,-4.0 846.0,418.2 810.0,411.3 774.0,403.0 740.0,393.5 708.0,383.2 678.0,371.9 650.0,359.5 626.0,346.8 608.0,335.2 598.0,327.3 588.0,317.6 580.0,307.7 574.0,298.4 556.9,266.0 542.0,240.1 536.0,226.8 533.9,220.0 532.4,212.0 531.8,192.0 530.7,186.0 528.0,182.2 524.7,180.0 520.0,178.3 514.0,177.1 504.0,176.6 494.0,177.5 486.0,179.4 478.0,182.6 468.8,188.0 461.5,194.0 457.8,198.0 454.9,202.0 452.1,208.0 451.2,214.0 452.6,220.0 456.0,226.0 466.0,238.9 471.7,248.0 477.0,260.0 480.4,272.0 482.1,284.0 481.9,294.0 479.9,302.0 477.8,306.0 474.6,310.0 470.0,313.7 466.0,315.8 460.0,317.8 454.0,318.9 448.0,319.4 440.0,319.2 416.0,316.8 410.0,317.1 406.5,318.0 402.9,320.0 400.0,323.1 390.8,340.0 386.4,346.0 382.5,350.0 377.0,354.0 373.1,356.0 368.0,357.7 360.0,358.6 352.0,357.6 348.0,356.2 344.0,354.3 338.3,350.0 333.5,344.0 331.4,340.0 329.9,336.0 328.7,328.0 329.3,320.0 331.5,312.0 334.0,306.3 342.0,292.0 344.2,286.0 344.6,282.0 344.0,278.0 342.6,274.0 339.0,268.0 332.3,260.0 321.6,250.0 276.0,213.3 251.5,192.0 228.5,170.0 203.7,144.0 174.1,110.0 145.3,74.0 117.3,36.0ZM554.0,163.8 550.0,165.7 547.4,168.0 545.1,172.0 544.8,176.0 545.5,178.0 547.0,180.0 550.0,182.1 556.0,183.4 560.0,182.8 564.0,180.6 566.3,178.0 567.6,174.0 567.1,170.0 566.1,168.0 564.2,166.0 562.0,164.6 558.0,163.5Z"/>
<path fill="#ffb700" d="M319.7,-2.0 320.6,-4.0 559.0,-4.0 562.7,12.0 564.0,28.0 563.3,44.0 560.4,60.0 556.3,74.0 550.8,88.0 538.0,115.2 529.7,134.0 524.0,144.0 518.3,150.0 511.9,154.0 490.0,161.1 462.0,174.4 450.0,179.5 438.0,183.5 426.0,186.1 416.0,187.2 408.0,187.2 400.0,186.4 392.0,184.9 384.0,182.5 376.0,179.2 368.0,175.0 360.4,170.0 350.6,162.0 342.6,154.0 336.0,146.0 329.1,136.0 323.4,126.0 318.7,116.0 314.3,104.0 311.0,92.0 308.7,80.0 307.5,68.0 307.2,56.0 307.8,44.0 309.4,32.0 312.1,20.0 315.7,8.0Z"/>
<path fill="#ff6e00" d="M433.4,46.0 444.0,45.8 454.0,47.6 464.0,51.5 472.0,56.7 479.5,64.0 485.0,72.0 489.1,82.0 490.8,92.0 490.5,102.0 488.6,112.0 481.0,136.0 478.4,142.0 476.0,146.0 470.0,152.6 462.0,157.7 454.0,160.9 444.0,162.8 438.0,163.0 432.0,162.6 422.0,160.3 412.2,156.0 403.6,150.0 395.8,142.0 389.3,132.0 385.4,122.0 383.9,116.0 383.1,110.0 383.2,98.0 385.2,88.0 387.2,82.0 390.0,76.1 396.0,67.0 404.0,58.8 412.0,53.2 422.0,48.6 428.0,46.9Z"/>
<path fill="#ff0000" d="M439.8,90.0 444.0,89.2 450.0,89.3 456.0,90.8 460.0,92.7 464.0,95.6 468.0,99.9 470.5,104.0 472.7,110.0 473.5,116.0 473.3,122.0 471.9,128.0 470.0,132.6 468.0,136.0 464.0,140.5 460.0,143.3 454.0,145.8 448.0,146.7 442.0,146.2 436.0,144.3 432.0,142.1 427.0,138.0 423.8,134.0 421.5,130.0 419.5,124.0 418.8,118.0 419.4,112.0 421.3,106.0 423.4,102.0 426.5,98.0 430.0,94.8 434.5,92.0Z"/>
<g transform="translate(0.0,0.0)">
<g fill="none" stroke="#000" stroke-linejoin="round" stroke-linecap="round">
<path stroke-width="2.15" d="M27.9,2.5 32.8,10.5 47.7,16.7 55.1,22.9 62.5,31.0 92.3,31.5 93.5,45.1 95.2,65.0"/>
<path stroke-width="2.15" d="M95.2,65.0 103.4,71.1 113.3,73.6 122.0,72.4 131.9,83.5 138.1,79.8 148.0,78.6 157.9,71.1 161.6,66.2 159.1,60.0 170.3,56.3 185.1,52.6 197.5,46.4 207.4,42.7 211.9,37.7 212.4,30.3 216.1,21.6 218.6,14.2 224.8,10.5 244.6,8.0 247.1,2.5"/>
<path stroke-width="2.15" d="M247.1,2.5 259.4,4.3 269.4,6.8 284.2,5.5 294.1,6.8 302.8,11.7 316.4,9.2 322.6,16.7 330.0,20.4 341.2,15.4 353.6,9.2 363.5,8.0 373.4,15.4 379.6,11.7 380.8,4.3 387.0,3.0"/>
<path stroke-width="2.15" d="M95.2,65.0 92.3,74.9 89.8,84.8 88.5,94.7 84.8,102.1 77.4,107.1 81.1,110.8 71.2,114.5 68.2,120.7 70.0,129.4 68.7,134.3 74.9,138.0 83.1,140.5 76.2,146.7 71.2,154.1 73.7,164.0 77.4,173.9 81.1,183.8 80.6,196.2 81.1,211.1 96.0,212.3 109.6,213.6 114.6,219.8 115.8,227.2 110.8,235.9 100.9,247.0 91.0,258.1 82.4,267.6"/>
<path stroke-width="2.15" d="M82.4,267.6 98.5,271.8 115.8,278.0 135.6,282.4 160.4,281.7 180.2,279.2 193.8,281.7 202.5,278.0 222.3,276.7 244.6,271.8 264.4,268.1 271.3,265.6 268.1,258.1 270.6,243.3 271.8,233.4 280.5,223.5 291.6,217.3 296.6,218.5 309.0,217.3 320.1,214.8 316.4,209.8 323.8,207.4 333.7,201.2 346.1,199.9 358.5,204.9 368.4,201.2 375.9,195.0"/>
<path stroke-width="2.15" d="M82.4,267.5 91.0,277.4 98.5,287.3 105.9,299.7 115.8,309.6 125.7,314.6 135.6,317.1 145.5,322.0 148.0,334.4 149.2,349.3 150.5,359.2 160.4,359.2 164.1,364.1 161.6,369.1 164.1,374.0 160.4,379.0 148.0,379.0 135.6,381.5 125.7,388.9 118.3,393.8 115.8,403.7 113.3,408.7 109.6,418.6 108.4,431.0 107.1,434.7"/>
<path stroke-width="2.15" d="M-13.0,414.9 1.9,416.1 11.8,418.6 19.2,422.3 31.6,419.8 44.0,422.3 56.3,423.6 66.3,421.1 71.2,426.0 83.6,428.5 96.0,433.5 107.1,434.7"/>
<path stroke-width="1.1" d="M107.1,434.7 115.8,433.5 131.9,429.8 148.0,428.5 160.4,428.0 172.8,428.5 175.2,424.8 185.1,423.6 192.6,421.1 197.5,424.8 209.9,428.5 222.3,424.8 234.7,423.6 247.1,422.3 259.4,421.1 264.4,416.1 276.8,414.9 280.5,421.1 284.2,433.5 283.0,440.9"/>
<path stroke-width="3.0" d="M283.0,440.9 296.6,440.9 304.0,448.3 309.0,455.8 307.7,463.2 311.5,470.6 316.4,476.8 326.3,478.1 333.7,476.8"/>
<path stroke-width="1.1" d="M284.2,439.7 299.1,423.6 306.5,406.2 301.6,388.9 299.1,369.1 300.3,354.2 306.5,341.8 318.9,334.4 333.7,324.5 343.7,318.3 363.5,317.1 372.1,317.1"/>
<path stroke-width="2.15" d="M551.5,209.5 557.0,223.1 544.6,235.5 534.7,245.4 535.9,252.9 524.8,260.3 516.1,266.5 512.4,277.6 507.4,287.5 501.2,296.2 490.1,302.4 479.0,309.8 472.8,319.7 465.3,330.9 460.4,335.8 448.0,337.1 435.6,340.8 428.2,342.0 422.0,337.1 415.8,330.9 403.4,338.3 393.5,349.5 383.6,359.4 386.1,369.3 396.0,374.2 403.4,379.2 404.6,389.1 400.9,399.0 403.4,406.4 410.8,411.4 422.0,412.6 423.2,423.8 428.2,433.7 433.1,443.6 436.8,456.0 430.7,458.4 425.7,462.2 410.8,460.9 400.9,464.6 386.1,463.4 371.2,460.9 356.3,462.2 353.9,470.8 341.5,472.1 334.1,477.0"/>
<path stroke-width="1.1" d="M398.5,249.9 398.5,260.8 393.5,267.7 384.8,275.2 383.6,282.6 389.8,290.0 383.6,299.9 378.6,309.8 372.4,317.3 393.5,324.7 415.8,330.9"/>
<path stroke-width="2.15" d="M373.2,193.2 372.5,184.3 373.9,175.4 377.7,168.0 379.1,159.1 382.1,154.6 391.0,152.4 399.9,148.7 408.9,145.7 408.9,139.7 404.4,133.8 399.9,129.3 394.0,124.9 394.7,121.2 404.4,121.9 416.3,124.1 426.7,123.4 434.1,118.9 436.4,113.0 434.1,107.1 437.1,99.6 444.5,92.2 452.0,84.8 455.7,77.3 454.9,69.9"/>
<path stroke-width="2.15" d="M454.3,73.9 450.6,64.6 445.0,55.3 440.4,50.7 448.7,44.2 459.9,36.8 471.0,27.5 482.2,23.8 497.0,21.9 511.9,21.0 524.9,22.8 534.2,23.8 543.5,20.1 552.8,15.4 554.6,12.6"/>
<path stroke-width="1.1" d="M373.2,193.2 382.1,191.8 391.0,189.5 394.0,194.7 396.2,203.6 399.9,211.1 405.9,210.3 408.9,218.5 407.4,228.9 402.9,237.8 398.5,249.9"/>
<path stroke-width="1.1" d="M408.9,218.5 416.3,215.5 425.2,214.1 429.7,203.6 434.1,193.2 437.1,184.3 443.0,176.9 438.6,171.0 437.1,162.0 441.6,156.1 447.5,154.6 450.5,150.9 456.4,153.1 457.9,145.7 465.3,139.7 471.3,132.3 478.7,124.9 484.7,121.9 492.1,126.4 498.0,132.3 502.5,135.3 512.9,129.3 518.8,124.9 524.8,114.5 527.0,102.6"/>
<path stroke-width="2.15" d="M448.7,1.5 447.8,14.5 451.5,25.6 458.0,29.3 465.5,26.6 474.7,20.1 485.9,16.3 497.0,10.8 508.2,5.2 519.3,3.3 524.9,7.0 530.5,9.8 545.3,7.0 560.2,6.1 567.6,8.9 562.1,11.7 554.6,12.6"/>
<path stroke-width="2.15" d="M367.0,7.0 376.3,10.8 378.1,5.2 380.0,1.5"/>
<path stroke-width="2.15" d="M554.6,12.6 563.9,16.3 571.3,15.4 580.6,20.1 589.9,23.8 599.2,29.3 604.8,36.8 608.5,44.2 606.6,49.8 614.1,55.3 623.4,57.2 630.8,62.8 640.1,66.5 651.2,70.2 662.4,72.1 665.5,72.4"/>
<path stroke-width="1.1" d="M665.5,72.4 651.8,82.3 639.4,89.7 627.1,97.2 614.7,102.1 602.3,104.6 589.9,105.8 580.0,102.1 570.1,100.9 562.7,94.7 557.7,88.5 552.8,84.8"/>
<path stroke-width="1.1" d="M526.8,23.8 515.6,29.3 504.5,29.3 500.8,35.8 487.8,42.3 485.9,51.6 487.8,57.2 497.0,59.1 508.2,60.9 515.6,68.4 524.9,70.2 528.6,75.8 534.2,81.4 543.5,86.9 552.8,85.1 558.3,92.5 563.9,96.2"/>
<path stroke-width="1.1" d="M534.2,81.4 528.6,92.5 524.9,99.9 519.3,105.5 515.6,114.8 519.3,125.9 523.0,137.1 524.9,150.1 534.2,155.7 543.5,159.4 552.8,163.1 560.2,166.8"/>
<path stroke-width="1.1" d="M539.8,88.8 549.1,94.4 554.6,99.9 550.9,107.4 541.6,114.8 536.1,122.2 539.8,133.4 537.9,142.7 543.5,151.9 552.8,161.2"/>
<path stroke-width="2.15" d="M560.2,166.8 571.3,174.2 582.5,179.8 595.5,174.2 604.8,165.0 599.2,159.4 614.1,155.7 623.4,150.1 632.7,153.8 641.9,159.4 653.1,163.1 667.0,159.4"/>
<path stroke-width="2.15" d="M614.7,156.6 624.6,150.4 634.5,151.6 641.9,159.1 651.8,162.8 661.7,161.6 667.9,157.8 671.6,164.0 676.6,170.2 684.0,169.0"/>
<path stroke-width="2.15" d="M582.5,179.8 571.3,191.0 560.2,200.2 556.5,209.5 560.2,218.8"/>
</g>
<circle cx="452.4" cy="122.7" r="4.6" fill="#000"/>
<circle cx="506.2" cy="136.8" r="4.6" fill="#000"/>
<circle cx="555.7" cy="175.2" r="4.6" fill="#000"/>
<circle cx="551.5" cy="209.8" r="4.6" fill="#000"/>
<circle cx="501.5" cy="214.8" r="4.6" fill="#000"/>
<circle cx="447.5" cy="255.2" r="4.6" fill="#000"/>
<circle cx="356.0" cy="341.3" r="4.6" fill="#000"/>
<circle cx="341.7" cy="393.1" r="4.6" fill="#000"/>
<circle cx="298.6" cy="440.4" r="4.6" fill="#000"/>
<circle cx="131.9" cy="428.5" r="4.6" fill="#000"/>
<g font-family='"Liberation Sans",Arial,Helvetica,sans-serif' font-size="24" font-weight="bold" fill="#000">
<text x="459.6" y="110.4">-0.21</text>
<text x="515.2" y="124.3">-0.1</text>
<text x="562.6" y="164.4">-0.07</text>
<text x="556.2" y="198.8">-0.1</text>
<text x="508.9" y="202.7">0.01</text>
<text x="454.9" y="242.2">-0.09</text>
<text x="363.9" y="329.2">-0.09</text>
<text x="348.6" y="380.4">0.01</text>
<text x="304.9" y="426.4">-0.04</text>
<text x="138.8" y="415.8">0.03</text>
</g>
<g font-family='"Liberation Serif","Times New Roman",Times,serif' font-size="26" font-weight="bold" fill="#000">
<text transform="translate(294.5,180.5) rotate(-42)" letter-spacing="2.1">Afghanistan</text>
<text transform="translate(613,23.5) rotate(24)" letter-spacing="1.5">China</text>
<text transform="translate(74,368.5)" letter-spacing="1.2">Iran</text>
<text transform="translate(516,335) rotate(-45)" letter-spacing="1.5">India</text>
</g>
<text x="107" y="475" font-family='"Liberation Sans",Arial,Helvetica,sans-serif' font-size="29" font-weight="bold">Arabian Sea</text>
</g>
</g>
<text transform="translate(829.1,59.0)" font-family='"Liberation Sans",Arial,Helvetica,sans-serif' font-size="49" font-weight="bold" text-anchor="end">(k)</text>
<text transform="translate(825.1,446.6)" font-family='"Liberation Sans",Arial,Helvetica,sans-serif' font-size="50" font-weight="bold" text-anchor="end">Annual</text>
<rect x="0" y="0" width="842.1" height="481.8" fill="none" stroke="#000" stroke-width="4.4"/>
</g>
<g transform="translate(1295.2,2663.8)">
<clipPath id="c11"><rect x="0" y="0" width="842.1" height="481.8"/></clipPath>
<g clip-path="url(#c11)">
<rect x="0" y="0" width="842.1" height="481.8" fill="#2a8fc6"/>
<path fill="#69a3b2" d="M-4.0,-4.0 846.0,-4.0 846.0,486.0 213.8,486.0 215.6,474.0 217.1,460.0 218.0,444.0 218.1,430.0 217.7,418.0 216.5,406.0 214.9,396.0 212.4,386.0 209.1,376.0 205.8,368.0 200.6,358.0 195.6,350.0 189.6,342.0 182.6,334.0 176.0,327.6 168.0,320.9 160.0,315.3 150.0,309.3 140.0,304.4 128.0,299.8 118.0,296.8 106.0,294.2 96.0,292.8 84.0,292.1 72.0,292.3 60.0,293.4 48.0,295.5 38.0,298.0 26.0,302.0 16.0,306.2 6.0,311.2 -4.0,317.1Z"/>
<path fill="#93bea0" d="M-4.0,-4.0 846.0,-4.0 846.0,486.0 272.7,486.0 268.0,475.8 264.0,465.5 261.3,456.0 259.6,446.0 259.2,438.0 259.5,430.0 263.6,402.0 264.2,392.0 263.1,380.0 259.6,366.0 255.3,354.0 250.9,344.0 244.9,332.0 239.2,322.0 232.7,312.0 225.3,302.0 218.0,293.1 209.7,284.0 200.0,274.5 190.0,265.7 178.0,256.4 166.0,248.0 154.0,240.6 140.0,233.0 128.0,227.2 114.0,221.4 100.0,216.4 86.0,212.1 72.0,208.6 56.0,205.5 40.0,203.3 26.0,202.1 12.0,201.6 -4.0,201.8ZM336.0,381.3 331.7,384.0 329.0,388.0 328.1,392.0 328.6,396.0 329.4,398.0 332.3,402.0 335.1,404.0 338.0,405.2 342.0,405.8 344.0,405.6 348.0,404.2 352.0,400.7 354.0,396.5 354.4,392.0 353.3,388.0 350.4,384.0 346.0,381.3 342.0,380.3 340.0,380.3Z"/>
<path fill="#c0d48c" d="M-4.0,-4.0 846.0,-4.0 846.0,486.0 359.9,486.0 366.5,466.0 380.5,432.0 383.6,422.0 385.1,414.0 385.5,408.0 385.4,402.0 383.6,392.0 380.0,383.8 377.5,380.0 373.8,376.0 368.0,371.8 360.0,368.0 346.0,363.4 312.0,353.5 303.6,350.0 296.0,345.3 290.0,340.3 284.0,334.2 245.7,288.0 232.7,274.0 218.4,260.0 202.0,245.6 184.0,231.6 166.0,219.2 148.0,208.2 130.0,198.6 112.0,190.1 94.0,182.8 74.0,175.9 56.0,170.7 36.0,166.1 16.0,162.7 -4.0,160.3ZM444.0,241.5 442.0,242.1 438.6,244.0 435.1,248.0 433.7,252.0 433.5,256.0 433.9,258.0 436.0,262.3 440.0,265.9 444.0,267.4 448.0,267.5 450.0,267.2 454.0,265.3 456.0,263.7 458.0,261.0 459.7,256.0 459.6,252.0 458.0,247.7 456.0,245.2 454.0,243.5 450.0,241.7ZM500.0,205.8 498.0,206.2 495.1,208.0 493.5,210.0 492.5,214.0 493.6,218.0 495.2,220.0 498.0,221.7 502.0,222.0 506.0,220.2 507.8,218.0 508.6,216.0 508.6,212.0 507.9,210.0 506.0,207.7 502.6,206.0Z"/>
<path fill="#e4ec76" d="M-4.0,-4.0 846.0,-4.0 846.0,486.0 380.5,486.0 393.0,436.0 394.9,424.0 395.7,412.0 394.8,400.0 393.6,394.0 391.8,388.0 389.2,382.0 386.8,378.0 383.8,374.0 380.0,370.3 376.0,367.5 370.0,364.8 350.0,359.4 336.9,354.0 323.6,346.0 306.3,334.0 296.0,325.8 286.0,316.6 240.6,270.0 228.1,258.0 214.0,245.4 198.0,232.2 182.0,220.2 166.0,209.2 148.0,198.1 130.0,188.3 112.0,179.5 92.0,171.0 74.0,164.3 56.0,158.7 36.0,153.4 16.0,149.2 -4.0,146.1ZM444.0,238.0 437.7,240.0 434.8,242.0 432.0,245.1 430.3,248.0 429.1,252.0 429.0,258.0 431.3,264.0 434.0,267.3 436.0,269.0 442.0,271.6 448.0,271.9 454.0,270.0 458.0,267.0 460.0,264.6 461.5,262.0 462.8,258.0 462.8,252.0 460.6,246.0 458.0,242.7 456.0,241.0 454.0,239.8 450.0,238.3ZM496.0,205.6 492.9,208.0 491.6,210.0 490.7,214.0 491.4,218.0 494.0,221.5 496.0,222.9 500.0,223.9 504.0,223.2 506.0,222.1 508.0,220.2 509.2,218.0 510.1,214.0 509.1,210.0 507.9,208.0 506.0,206.3 504.0,205.2 500.0,204.5Z"/>
<path fill="#fde358" d="M-4.0,-4.0 846.0,-4.0 846.0,486.0 388.6,486.0 395.5,454.0 398.4,438.0 400.0,424.0 400.2,410.0 398.9,398.0 395.6,386.0 390.8,376.0 388.0,372.0 384.0,367.7 380.0,364.6 374.0,361.7 370.0,360.6 356.0,358.2 350.0,356.5 343.9,354.0 337.4,350.0 318.0,333.7 298.0,318.2 286.0,308.1 236.0,260.0 210.0,237.1 194.0,224.3 180.0,214.0 164.0,203.2 148.0,193.4 130.0,183.3 112.0,174.4 94.0,166.5 74.0,158.8 56.0,152.9 36.0,147.3 16.0,142.8 -4.0,139.3ZM440.0,237.3 434.0,240.5 432.0,242.3 429.2,246.0 427.0,252.0 426.7,256.0 427.3,260.0 430.0,266.0 432.0,268.4 436.0,271.5 442.0,273.7 446.0,274.0 450.0,273.5 454.0,272.0 457.0,270.0 460.0,267.2 462.0,264.3 464.2,258.0 464.4,254.0 463.7,250.0 462.1,246.0 460.0,243.0 456.8,240.0 454.0,238.3 448.0,236.6 444.0,236.5ZM500.0,204.0 496.0,204.9 494.0,206.1 492.0,208.0 490.8,210.0 489.8,214.0 490.5,218.0 493.2,222.0 496.0,223.8 500.0,224.7 504.0,223.9 508.0,221.1 509.9,218.0 510.5,214.0 509.6,210.0 508.0,207.5 506.0,205.7 504.0,204.7Z"/>
<path fill="#fcb045" d="M-4.0,-4.0 846.0,-4.0 846.0,486.0 406.9,486.0 410.9,454.0 412.4,430.0 411.8,410.0 410.4,400.0 408.8,392.0 406.6,384.0 403.7,376.0 400.0,368.0 396.0,360.8 392.0,354.7 386.0,346.9 376.0,335.6 370.0,329.7 365.2,326.0 357.7,322.0 332.0,312.8 314.0,305.1 304.0,299.9 294.0,293.8 284.0,286.7 272.0,277.2 224.0,235.6 196.0,213.1 182.0,202.8 166.0,191.8 150.0,181.6 134.0,172.3 116.0,162.7 100.0,154.9 82.0,147.1 66.0,140.8 50.0,135.2 32.0,129.7 14.0,125.0 -4.0,121.0ZM440.0,233.6 436.0,234.8 432.0,236.9 428.2,240.0 425.0,244.0 423.0,248.0 421.8,252.0 421.4,256.0 421.7,260.0 422.7,264.0 424.6,268.0 427.6,272.0 430.0,274.2 434.0,276.7 438.0,278.2 442.0,278.9 448.0,278.7 452.0,277.6 456.0,275.7 460.0,272.8 462.5,270.0 465.1,266.0 466.7,262.0 467.5,258.0 467.4,252.0 466.4,248.0 464.5,244.0 461.5,240.0 458.0,237.1 454.0,234.9 450.0,233.6 446.0,233.1ZM450.0,113.3 448.0,114.1 445.8,116.0 444.7,118.0 444.2,122.0 446.0,125.9 448.0,127.5 450.0,128.4 454.0,128.3 457.7,126.0 459.0,124.0 459.6,120.0 459.1,118.0 458.0,115.9 456.0,114.2 454.0,113.3ZM496.0,203.4 491.6,206.0 488.8,210.0 487.8,214.0 488.2,218.0 490.2,222.0 494.0,225.2 498.0,226.5 502.0,226.4 504.0,225.8 508.0,223.2 510.4,220.0 511.6,216.0 511.7,214.0 510.8,210.0 508.0,206.0 504.0,203.5 500.0,202.7Z"/>
<path fill="#f98735" d="M-4.0,-4.0 846.0,-4.0 846.0,486.0 452.5,486.0 449.3,446.0 447.1,428.0 444.0,410.0 437.1,380.0 421.5,326.0 419.8,318.0 419.3,312.0 420.0,307.8 420.9,306.0 422.8,304.0 426.6,302.0 446.0,296.5 454.0,292.9 460.0,288.9 464.0,285.5 470.0,278.2 472.4,274.0 474.8,268.0 476.2,262.0 476.6,256.0 476.2,250.0 474.9,244.0 472.3,238.0 469.3,234.0 464.4,230.0 460.0,227.5 454.0,225.1 448.0,223.8 442.0,223.3 436.0,223.7 430.0,225.1 424.0,227.5 416.0,232.7 408.8,240.0 402.6,250.0 396.0,267.3 394.0,271.2 392.0,273.5 390.0,274.8 386.0,275.7 380.0,275.3 374.0,274.2 346.0,266.1 324.0,258.5 306.0,250.5 288.0,240.3 270.0,228.2 252.0,214.5 206.0,177.7 180.0,157.7 152.0,137.6 124.0,119.2 94.0,101.4 62.0,84.5 28.0,68.8 -4.0,56.1ZM442.0,102.0 438.3,104.0 435.9,106.0 434.0,108.1 431.6,112.0 430.1,118.0 430.1,122.0 431.0,126.0 432.9,130.0 436.0,133.8 438.8,136.0 442.0,137.7 448.0,139.0 452.0,138.9 456.0,137.9 462.0,134.3 464.2,132.0 466.8,128.0 468.2,124.0 468.6,120.0 468.3,116.0 467.0,112.0 464.6,108.0 462.0,105.2 456.0,101.7 452.0,100.7 448.0,100.6ZM496.0,199.6 492.0,200.7 489.4,202.0 484.9,206.0 481.6,212.0 480.7,218.0 481.9,224.0 484.0,227.5 486.0,229.4 488.0,230.7 492.0,232.2 498.0,232.8 504.0,231.4 508.0,229.1 510.0,227.3 512.4,224.0 514.0,220.4 514.5,218.0 514.6,214.0 512.7,208.0 510.0,204.3 508.0,202.6 506.0,201.4 502.0,199.9ZM550.0,205.7 547.9,208.0 548.0,210.2 550.0,212.5 552.0,212.8 554.0,212.0 555.1,210.0 555.1,208.0 554.0,206.2 552.0,205.5Z"/>
<path fill="#f05a24" d="M359.1,-4.0 846.0,-4.0 846.0,486.0 640.6,486.0 628.0,473.6 600.0,443.8 586.0,427.6 574.0,412.8 562.0,396.8 552.0,382.2 544.0,369.3 536.7,356.0 529.4,340.0 524.1,324.0 520.7,308.0 518.9,292.0 518.7,276.0 519.8,264.0 522.0,254.0 527.5,236.0 529.0,228.0 528.7,222.0 527.4,218.0 520.8,206.0 516.1,200.0 512.0,196.0 508.0,193.0 502.0,189.6 484.0,182.6 480.0,180.6 476.6,178.0 474.2,174.0 473.9,170.0 475.0,166.0 477.6,162.0 481.8,158.0 488.0,155.2 500.0,153.4 506.0,151.9 512.0,148.9 517.2,144.0 520.4,138.0 521.6,132.0 521.4,128.0 520.6,124.0 518.0,118.3 514.0,113.0 502.0,102.0 498.5,98.0 486.0,77.9 478.0,67.0 470.0,58.3 462.0,51.4 450.0,43.0 438.0,36.4 426.0,30.9 394.6,18.0 382.3,12.0 370.0,4.5ZM546.0,201.5 542.2,204.0 540.4,206.0 538.1,210.0 536.7,216.0 537.4,220.0 540.0,223.4 544.0,225.8 548.0,226.6 554.0,225.7 558.0,223.5 560.0,221.6 562.0,218.6 563.2,214.0 563.0,210.0 562.4,208.0 559.7,204.0 556.0,201.5 552.0,200.4 550.0,200.5Z"/>
<path fill="#e6141a" d="M589.8,96.0 600.0,95.0 606.0,95.2 612.0,96.1 622.0,99.0 632.0,104.0 637.7,108.0 642.0,111.8 649.1,120.0 654.9,130.0 658.5,140.0 660.3,150.0 660.5,156.0 660.2,162.0 659.2,168.0 657.6,174.0 653.2,184.0 647.9,192.0 640.1,200.0 631.1,206.0 622.0,209.7 612.0,211.5 606.0,211.5 600.0,210.8 594.0,209.3 588.0,207.2 572.4,200.0 561.8,196.0 554.0,194.3 540.0,193.3 534.1,192.0 530.0,189.8 525.8,186.0 523.0,182.0 520.5,176.0 520.0,172.0 520.4,168.0 521.6,164.0 523.5,160.0 544.0,128.8 552.0,118.5 560.0,110.5 570.0,103.4 580.0,98.7Z"/>
<g transform="translate(0.2,-1.6)">
<g fill="none" stroke="#000" stroke-linejoin="round" stroke-linecap="round">
<path stroke-width="2.15" d="M27.9,2.5 32.8,10.5 47.7,16.7 55.1,22.9 62.5,31.0 92.3,31.5 93.5,45.1 95.2,65.0"/>
<path stroke-width="2.15" d="M95.2,65.0 103.4,71.1 113.3,73.6 122.0,72.4 131.9,83.5 138.1,79.8 148.0,78.6 157.9,71.1 161.6,66.2 159.1,60.0 170.3,56.3 185.1,52.6 197.5,46.4 207.4,42.7 211.9,37.7 212.4,30.3 216.1,21.6 218.6,14.2 224.8,10.5 244.6,8.0 247.1,2.5"/>
<path stroke-width="2.15" d="M247.1,2.5 259.4,4.3 269.4,6.8 284.2,5.5 294.1,6.8 302.8,11.7 316.4,9.2 322.6,16.7 330.0,20.4 341.2,15.4 353.6,9.2 363.5,8.0 373.4,15.4 379.6,11.7 380.8,4.3 387.0,3.0"/>
<path stroke-width="2.15" d="M95.2,65.0 92.3,74.9 89.8,84.8 88.5,94.7 84.8,102.1 77.4,107.1 81.1,110.8 71.2,114.5 68.2,120.7 70.0,129.4 68.7,134.3 74.9,138.0 83.1,140.5 76.2,146.7 71.2,154.1 73.7,164.0 77.4,173.9 81.1,183.8 80.6,196.2 81.1,211.1 96.0,212.3 109.6,213.6 114.6,219.8 115.8,227.2 110.8,235.9 100.9,247.0 91.0,258.1 82.4,267.6"/>
<path stroke-width="2.15" d="M82.4,267.6 98.5,271.8 115.8,278.0 135.6,282.4 160.4,281.7 180.2,279.2 193.8,281.7 202.5,278.0 222.3,276.7 244.6,271.8 264.4,268.1 271.3,265.6 268.1,258.1 270.6,243.3 271.8,233.4 280.5,223.5 291.6,217.3 296.6,218.5 309.0,217.3 320.1,214.8 316.4,209.8 323.8,207.4 333.7,201.2 346.1,199.9 358.5,204.9 368.4,201.2 375.9,195.0"/>
<path stroke-width="2.15" d="M82.4,267.5 91.0,277.4 98.5,287.3 105.9,299.7 115.8,309.6 125.7,314.6 135.6,317.1 145.5,322.0 148.0,334.4 149.2,349.3 150.5,359.2 160.4,359.2 164.1,364.1 161.6,369.1 164.1,374.0 160.4,379.0 148.0,379.0 135.6,381.5 125.7,388.9 118.3,393.8 115.8,403.7 113.3,408.7 109.6,418.6 108.4,431.0 107.1,434.7"/>
<path stroke-width="2.15" d="M-13.0,414.9 1.9,416.1 11.8,418.6 19.2,422.3 31.6,419.8 44.0,422.3 56.3,423.6 66.3,421.1 71.2,426.0 83.6,428.5 96.0,433.5 107.1,434.7"/>
<path stroke-width="1.1" d="M107.1,434.7 115.8,433.5 131.9,429.8 148.0,428.5 160.4,428.0 172.8,428.5 175.2,424.8 185.1,423.6 192.6,421.1 197.5,424.8 209.9,428.5 222.3,424.8 234.7,423.6 247.1,422.3 259.4,421.1 264.4,416.1 276.8,414.9 280.5,421.1 284.2,433.5 283.0,440.9"/>
<path stroke-width="3.0" d="M283.0,440.9 296.6,440.9 304.0,448.3 309.0,455.8 307.7,463.2 311.5,470.6 316.4,476.8 326.3,478.1 333.7,476.8"/>
<path stroke-width="1.1" d="M284.2,439.7 299.1,423.6 306.5,406.2 301.6,388.9 299.1,369.1 300.3,354.2 306.5,341.8 318.9,334.4 333.7,324.5 343.7,318.3 363.5,317.1 372.1,317.1"/>
<path stroke-width="2.15" d="M551.5,209.5 557.0,223.1 544.6,235.5 534.7,245.4 535.9,252.9 524.8,260.3 516.1,266.5 512.4,277.6 507.4,287.5 501.2,296.2 490.1,302.4 479.0,309.8 472.8,319.7 465.3,330.9 460.4,335.8 448.0,337.1 435.6,340.8 428.2,342.0 422.0,337.1 415.8,330.9 403.4,338.3 393.5,349.5 383.6,359.4 386.1,369.3 396.0,374.2 403.4,379.2 404.6,389.1 400.9,399.0 403.4,406.4 410.8,411.4 422.0,412.6 423.2,423.8 428.2,433.7 433.1,443.6 436.8,456.0 430.7,458.4 425.7,462.2 410.8,460.9 400.9,464.6 386.1,463.4 371.2,460.9 356.3,462.2 353.9,470.8 341.5,472.1 334.1,477.0"/>
<path stroke-width="1.1" d="M398.5,249.9 398.5,260.8 393.5,267.7 384.8,275.2 383.6,282.6 389.8,290.0 383.6,299.9 378.6,309.8 372.4,317.3 393.5,324.7 415.8,330.9"/>
<path stroke-width="2.15" d="M373.2,193.2 372.5,184.3 373.9,175.4 377.7,168.0 379.1,159.1 382.1,154.6 391.0,152.4 399.9,148.7 408.9,145.7 408.9,139.7 404.4,133.8 399.9,129.3 394.0,124.9 394.7,121.2 404.4,121.9 416.3,124.1 426.7,123.4 434.1,118.9 436.4,113.0 434.1,107.1 437.1,99.6 444.5,92.2 452.0,84.8 455.7,77.3 454.9,69.9"/>
<path stroke-width="2.15" d="M454.3,73.9 450.6,64.6 445.0,55.3 440.4,50.7 448.7,44.2 459.9,36.8 471.0,27.5 482.2,23.8 497.0,21.9 511.9,21.0 524.9,22.8 534.2,23.8 543.5,20.1 552.8,15.4 554.6,12.6"/>
<path stroke-width="1.1" d="M373.2,193.2 382.1,191.8 391.0,189.5 394.0,194.7 396.2,203.6 399.9,211.1 405.9,210.3 408.9,218.5 407.4,228.9 402.9,237.8 398.5,249.9"/>
<path stroke-width="1.1" d="M408.9,218.5 416.3,215.5 425.2,214.1 429.7,203.6 434.1,193.2 437.1,184.3 443.0,176.9 438.6,171.0 437.1,162.0 441.6,156.1 447.5,154.6 450.5,150.9 456.4,153.1 457.9,145.7 465.3,139.7 471.3,132.3 478.7,124.9 484.7,121.9 492.1,126.4 498.0,132.3 502.5,135.3 512.9,129.3 518.8,124.9 524.8,114.5 527.0,102.6"/>
<path stroke-width="2.15" d="M448.7,1.5 447.8,14.5 451.5,25.6 458.0,29.3 465.5,26.6 474.7,20.1 485.9,16.3 497.0,10.8 508.2,5.2 519.3,3.3 524.9,7.0 530.5,9.8 545.3,7.0 560.2,6.1 567.6,8.9 562.1,11.7 554.6,12.6"/>
<path stroke-width="2.15" d="M367.0,7.0 376.3,10.8 378.1,5.2 380.0,1.5"/>
<path stroke-width="2.15" d="M554.6,12.6 563.9,16.3 571.3,15.4 580.6,20.1 589.9,23.8 599.2,29.3 604.8,36.8 608.5,44.2 606.6,49.8 614.1,55.3 623.4,57.2 630.8,62.8 640.1,66.5 651.2,70.2 662.4,72.1 665.5,72.4"/>
<path stroke-width="1.1" d="M665.5,72.4 651.8,82.3 639.4,89.7 627.1,97.2 614.7,102.1 602.3,104.6 589.9,105.8 580.0,102.1 570.1,100.9 562.7,94.7 557.7,88.5 552.8,84.8"/>
<path stroke-width="1.1" d="M526.8,23.8 515.6,29.3 504.5,29.3 500.8,35.8 487.8,42.3 485.9,51.6 487.8,57.2 497.0,59.1 508.2,60.9 515.6,68.4 524.9,70.2 528.6,75.8 534.2,81.4 543.5,86.9 552.8,85.1 558.3,92.5 563.9,96.2"/>
<path stroke-width="1.1" d="M534.2,81.4 528.6,92.5 524.9,99.9 519.3,105.5 515.6,114.8 519.3,125.9 523.0,137.1 524.9,150.1 534.2,155.7 543.5,159.4 552.8,163.1 560.2,166.8"/>
<path stroke-width="1.1" d="M539.8,88.8 549.1,94.4 554.6,99.9 550.9,107.4 541.6,114.8 536.1,122.2 539.8,133.4 537.9,142.7 543.5,151.9 552.8,161.2"/>
<path stroke-width="2.15" d="M560.2,166.8 571.3,174.2 582.5,179.8 595.5,174.2 604.8,165.0 599.2,159.4 614.1,155.7 623.4,150.1 632.7,153.8 641.9,159.4 653.1,163.1 667.0,159.4"/>
<path stroke-width="2.15" d="M614.7,156.6 624.6,150.4 634.5,151.6 641.9,159.1 651.8,162.8 661.7,161.6 667.9,157.8 671.6,164.0 676.6,170.2 684.0,169.0"/>
<path stroke-width="2.15" d="M582.5,179.8 571.3,191.0 560.2,200.2 556.5,209.5 560.2,218.8"/>
</g>
<circle cx="452.4" cy="122.7" r="4.6" fill="#000"/>
<circle cx="506.2" cy="136.8" r="4.6" fill="#000"/>
<circle cx="555.7" cy="175.2" r="4.6" fill="#000"/>
<circle cx="551.5" cy="209.8" r="4.6" fill="#000"/>
<circle cx="501.5" cy="214.8" r="4.6" fill="#000"/>
<circle cx="447.5" cy="255.2" r="4.6" fill="#000"/>
<circle cx="356.0" cy="341.3" r="4.6" fill="#000"/>
<circle cx="341.7" cy="393.1" r="4.6" fill="#000"/>
<circle cx="298.6" cy="440.4" r="4.6" fill="#000"/>
<circle cx="131.9" cy="428.5" r="4.6" fill="#000"/>
<g font-family='"Liberation Sans",Arial,Helvetica,sans-serif' font-size="24" font-weight="bold" fill="#000">
<text x="459.6" y="110.4">-0.002</text>
<text x="558.7" y="164.3" text-anchor="end">-0.005</text>
<text x="562.6" y="164.4">-0.119</text>
<text x="556.5" y="231.1">-0.002</text>
<text x="508.9" y="202.7">0.001</text>
<text x="454.9" y="242.2">-0.001</text>
<text x="363.9" y="329.2">-0.003</text>
<text x="348.6" y="380.4">0.001</text>
<text x="304.9" y="426.4">-0.001</text>
<text x="138.8" y="415.8">0.032</text>
</g>
<g font-family='"Liberation Serif","Times New Roman",Times,serif' font-size="26" font-weight="bold" fill="#000">
<text transform="translate(288.5,181) rotate(-42)" letter-spacing="2.1">Afghanistan</text>
<text transform="translate(611,16) rotate(24)" letter-spacing="1.5">China</text>
<text transform="translate(59.5,363.5)" letter-spacing="1.2">Iran</text>
<text transform="translate(516,337) rotate(-45)" letter-spacing="1.5">India</text>
</g>
<text x="109" y="473" font-family='"Liberation Sans",Arial,Helvetica,sans-serif' font-size="29" font-weight="bold">Arabian Sea</text>
</g>
</g>
<text transform="translate(829.1,59.0)" font-family='"Liberation Sans",Arial,Helvetica,sans-serif' font-size="49" font-weight="bold" text-anchor="end">(l)</text>
<text transform="translate(825.1,446.6)" font-family='"Liberation Sans",Arial,Helvetica,sans-serif' font-size="50" font-weight="bold" text-anchor="end">Annual</text>
<rect x="0" y="0" width="842.1" height="481.8" fill="none" stroke="#000" stroke-width="4.4"/>
</g>
<rect x="80.5" y="118" width="73.2" height="243.0" fill="#ff0000"/>
<rect x="80.5" y="457" width="73.2" height="242.0" fill="#ff6e00"/>
<rect x="80.5" y="794.5" width="73.2" height="242.5" fill="#ffb700"/>
<rect x="80.5" y="1133" width="73.2" height="243.0" fill="#ffff00"/>
<rect x="80.5" y="1460" width="73.2" height="242.0" fill="#d4ff69"/>
<rect x="80.5" y="1760" width="73.2" height="242.0" fill="#96ffb4"/>
<rect x="80.5" y="2044.5" width="73.2" height="242.0" fill="#00ffff"/>
<rect x="80.5" y="2331" width="73.2" height="242.5" fill="#38acff"/>
<rect x="80.5" y="2617.5" width="73.2" height="242.5" fill="#3860ff"/>
<rect x="80.5" y="2887" width="73.2" height="242.0" fill="#0000ff"/>
<g font-family='"Liberation Sans",Arial,Helvetica,sans-serif' font-size="43" text-anchor="middle" fill="#000" stroke="#000" stroke-width="1.3" stroke-linejoin="round">
<text transform="translate(16.6,241.0) rotate(90)">−0.362 − −0.192</text>
<text transform="translate(16.6,579.5) rotate(90)">−0.192 − −0.098</text>
<text transform="translate(16.6,917.2) rotate(90)">−0.098 − −0.044</text>
<text transform="translate(16.6,1256.0) rotate(90)">−0.044 − −0.015</text>
<text transform="translate(16.6,1582.5) rotate(90)">−0.015 − 0.002</text>
<text transform="translate(16.6,1882.5) rotate(90)">0.002 − 0.011</text>
<text transform="translate(16.6,2167.0) rotate(90)">0.011 − 0.028</text>
<text transform="translate(16.6,2453.8) rotate(90)">0.028 − 0.058</text>
<text transform="translate(16.6,2740.2) rotate(90)">0.058 − 0.111</text>
<text transform="translate(16.6,3009.5) rotate(90)">0.111 − 0.206</text>
</g>
<rect x="2335.5" y="122" width="64.9" height="214.5" fill="#e6141a"/>
<rect x="2335.5" y="464.3" width="64.9" height="213.7" fill="#f05a24"/>
<rect x="2335.5" y="806" width="64.9" height="213.5" fill="#f98735"/>
<rect x="2335.5" y="1146" width="64.9" height="214.3" fill="#fcb045"/>
<rect x="2335.5" y="1488.3" width="64.9" height="213.7" fill="#fde358"/>
<rect x="2335.5" y="1830.5" width="64.9" height="213.0" fill="#e4ec76"/>
<rect x="2335.5" y="2169.6" width="64.9" height="214.7" fill="#c0d48c"/>
<rect x="2335.5" y="2460" width="64.9" height="214.2" fill="#93bea0"/>
<rect x="2335.5" y="2699.6" width="64.9" height="214.7" fill="#69a3b2"/>
<rect x="2335.5" y="2964.3" width="64.9" height="214.4" fill="#2a8fc6"/>
<g font-family='"Liberation Sans",Arial,Helvetica,sans-serif' font-size="43" text-anchor="middle" fill="#000" stroke="#000" stroke-width="1.3" stroke-linejoin="round">
<text transform="translate(2433.5,230.8) rotate(90)">−0.322 − −0.242</text>
<text transform="translate(2433.5,572.6) rotate(90)">−0.242 − −0.178</text>
<text transform="translate(2433.5,914.2) rotate(90)">−0.178 − −0.128</text>
<text transform="translate(2433.5,1254.7) rotate(90)">−0.128 − −0.089</text>
<text transform="translate(2433.5,1596.7) rotate(90)">−0.089 − −0.058</text>
<text transform="translate(2433.5,1938.5) rotate(90)">−0.058 − −0.034</text>
<text transform="translate(2433.5,2278.4) rotate(90)">−0.034 − −0.015</text>
<text transform="translate(2433.5,2568.6) rotate(90)">−0.015 − 0</text>
<text transform="translate(2433.5,2808.4) rotate(90)">0 − 0.012</text>
<text transform="translate(2433.5,3073.0) rotate(90)">0.012 − 0.021</text>
</g>
<text transform="translate(225.3,1395.5) rotate(90)" font-family='"Liberation Sans",Arial,Helvetica,sans-serif' font-size="51.5"><tspan font-weight="bold">Mann Kendall</tspan><tspan stroke="#000" stroke-width="0.9"> (km/year)</tspan></text>
<text transform="translate(2238.5,1391.5) rotate(90)" font-family='"Liberation Sans",Arial,Helvetica,sans-serif' font-size="51.5"><tspan font-weight="bold">Sen&#39;s slope</tspan><tspan stroke="#000" stroke-width="0.9"> (km/year)</tspan></text>
<rect x="601.5" y="3311" width="1178.6" height="26" fill="#fff" stroke="#000" stroke-width="2.5"/>
<rect x="601.5" y="3311" width="73.7" height="26" fill="#000" stroke="#000" stroke-width="3"/>
<rect x="748.8" y="3311" width="73.7" height="26" fill="#000" stroke="#000" stroke-width="3"/>
<rect x="896.1" y="3311" width="294.6" height="26" fill="#000" stroke="#000" stroke-width="3"/>
<rect x="1485.4" y="3311" width="294.6" height="26" fill="#000" stroke="#000" stroke-width="3"/>
<g font-family='"Liberation Sans",Arial,Helvetica,sans-serif' font-size="47.5" text-anchor="middle" fill="#000" letter-spacing="1.3">
<text x="603.1" y="3395">0</text>
<text x="750.4" y="3395">470</text>
<text x="897.8" y="3395">940</text>
<text x="1192.4" y="3395">1880</text>
<text x="1487.0" y="3395">2820</text>
<text x="1781.7" y="3395">3760</text>
</g>
<text transform="translate(1792.0,3337.5)" font-family='"Liberation Sans",Arial,Helvetica,sans-serif' font-size="48" text-anchor="start">km</text>
<text transform="translate(1258.0,3508.0)" font-family='"Liberation Sans",Arial,Helvetica,sans-serif' font-size="49.5" text-anchor="middle">1:38,500,000</text>
<g transform="translate(2337.7,3360.3)">
<circle r="57.8" fill="none" stroke="#000" stroke-width="6.8"/>
<circle r="56.2" fill="none" stroke="#fff" stroke-width="1.0"/>
<path d="M0,0L4.4,-16.4L34.6,-34.6Z" fill="#fff" stroke="#000" stroke-width="1"/>
<path d="M0,0L34.6,-34.6L16.4,-4.4Z" fill="#000" stroke="#000" stroke-width="1"/>
<path d="M0,0L16.4,4.4L34.6,34.6Z" fill="#fff" stroke="#000" stroke-width="1"/>
<path d="M0,0L34.6,34.6L4.4,16.4Z" fill="#000" stroke="#000" stroke-width="1"/>
<path d="M0,0L-4.4,16.4L-34.6,34.6Z" fill="#fff" stroke="#000" stroke-width="1"/>
<path d="M0,0L-34.6,34.6L-16.4,4.4Z" fill="#000" stroke="#000" stroke-width="1"/>
<path d="M0,0L-16.4,-4.4L-34.6,-34.6Z" fill="#fff" stroke="#000" stroke-width="1"/>
<path d="M0,0L-34.6,-34.6L-4.4,-16.4Z" fill="#000" stroke="#000" stroke-width="1"/>
<path d="M0,0L-11.7,-15.0L0.0,-71.0Z" fill="#fff" stroke="#000" stroke-width="1"/>
<path d="M0,0L0.0,-71.0L11.7,-15.0Z" fill="#000" stroke="#000" stroke-width="1"/>
<path d="M0,0L15.0,-11.7L71.0,-0.0Z" fill="#fff" stroke="#000" stroke-width="1"/>
<path d="M0,0L71.0,-0.0L15.0,11.7Z" fill="#000" stroke="#000" stroke-width="1"/>
<path d="M0,0L11.7,15.0L0.0,71.0Z" fill="#fff" stroke="#000" stroke-width="1"/>
<path d="M0,0L0.0,71.0L-11.7,15.0Z" fill="#000" stroke="#000" stroke-width="1"/>
<path d="M0,0L-15.0,11.7L-71.0,0.0Z" fill="#fff" stroke="#000" stroke-width="1"/>
<path d="M0,0L-71.0,0.0L-15.0,-11.7Z" fill="#000" stroke="#000" stroke-width="1"/>
<line x1="24.1" y1="-58.2" x2="25.6" y2="-61.9" stroke="#000" stroke-width="1.2"/>
<line x1="58.2" y1="-24.1" x2="61.9" y2="-25.6" stroke="#000" stroke-width="1.2"/>
<line x1="58.2" y1="24.1" x2="61.9" y2="25.6" stroke="#000" stroke-width="1.2"/>
<line x1="24.1" y1="58.2" x2="25.6" y2="61.9" stroke="#000" stroke-width="1.2"/>
<line x1="-24.1" y1="58.2" x2="-25.6" y2="61.9" stroke="#000" stroke-width="1.2"/>
<line x1="-58.2" y1="24.1" x2="-61.9" y2="25.6" stroke="#000" stroke-width="1.2"/>
<line x1="-58.2" y1="-24.1" x2="-61.9" y2="-25.6" stroke="#000" stroke-width="1.2"/>
<line x1="-24.1" y1="-58.2" x2="-25.6" y2="-61.9" stroke="#000" stroke-width="1.2"/>
</g>
<g font-family='"Liberation Serif","Times New Roman",Times,serif' font-size="36" text-anchor="middle" fill="#000">
<text x="2338.5" y="3282">N</text><text x="2338.2" y="3461.5">S</text><text x="2250.2" y="3371.5">W</text><text x="2425" y="3372.5">E</text>
</g>
</svg></body></html>
